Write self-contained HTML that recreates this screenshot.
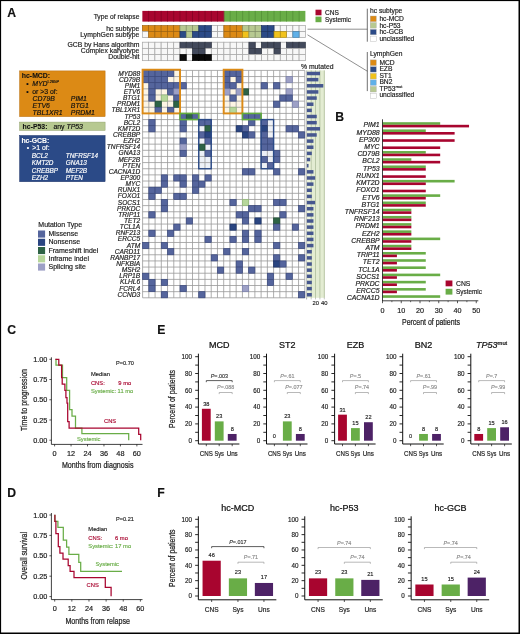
<!DOCTYPE html>
<html><head><meta charset="utf-8"><style>
html,body{margin:0;padding:0;background:#fff;}
body{width:520px;height:634px;overflow:hidden;position:relative;}
svg text{font-family:"Liberation Sans", sans-serif;}
</style></head><body>
<svg width="520" height="634" viewBox="0 0 520 634" style="position:absolute;left:0;top:0;will-change:transform">
<rect x="0" y="0" width="520" height="634" fill="#fff"/>
<text x="7.2" y="17.3" font-size="12.2" font-weight="bold" fill="#111" stroke="#111" stroke-width="0.146">A</text>
<text x="335.3" y="121.4" font-size="12.2" font-weight="bold" fill="#111" stroke="#111" stroke-width="0.146">B</text>
<text x="7.2" y="334.4" font-size="12.2" font-weight="bold" fill="#111" stroke="#111" stroke-width="0.146">C</text>
<text x="157.3" y="334.4" font-size="12.2" font-weight="bold" fill="#111" stroke="#111" stroke-width="0.146">E</text>
<text x="7.2" y="496.8" font-size="12.2" font-weight="bold" fill="#111" stroke="#111" stroke-width="0.146">D</text>
<text x="157.3" y="496.8" font-size="12.2" font-weight="bold" fill="#111" stroke="#111" stroke-width="0.146">F</text>
<text x="139.4" y="18.6" font-size="6.7" fill="#222" text-anchor="end"  stroke="#222" stroke-width="0.174">Type of relapse</text>
<text x="139.4" y="30.7" font-size="6.85" fill="#222" text-anchor="end"  stroke="#222" stroke-width="0.178">hc subtype</text>
<text x="139.4" y="36.9" font-size="6.85" fill="#222" text-anchor="end"  stroke="#222" stroke-width="0.178">LymphGen subtype</text>
<text x="139.4" y="46.6" font-size="6.85" fill="#222" text-anchor="end"  stroke="#222" stroke-width="0.178">GCB by Hans algorithm</text>
<text x="139.4" y="52.9" font-size="6.85" fill="#222" text-anchor="end"  stroke="#222" stroke-width="0.178">Complex karyotype</text>
<text x="139.4" y="59.2" font-size="6.85" fill="#222" text-anchor="end"  stroke="#222" stroke-width="0.178">Double-hit</text>
<rect x="142.35" y="10.9" width="81.51" height="10.7" fill="#a8052f"/>
<rect x="223.86" y="10.9" width="81.51" height="10.7" fill="#69ad47"/>
<line x1="148.62" y1="10.9" x2="148.62" y2="21.6" stroke="#7c0020" stroke-width="0.8" opacity="0.85"/>
<line x1="154.89" y1="10.9" x2="154.89" y2="21.6" stroke="#7c0020" stroke-width="0.8" opacity="0.85"/>
<line x1="161.16" y1="10.9" x2="161.16" y2="21.6" stroke="#7c0020" stroke-width="0.8" opacity="0.85"/>
<line x1="167.43" y1="10.9" x2="167.43" y2="21.6" stroke="#7c0020" stroke-width="0.8" opacity="0.85"/>
<line x1="173.7" y1="10.9" x2="173.7" y2="21.6" stroke="#7c0020" stroke-width="0.8" opacity="0.85"/>
<line x1="179.97" y1="10.9" x2="179.97" y2="21.6" stroke="#7c0020" stroke-width="0.8" opacity="0.85"/>
<line x1="186.24" y1="10.9" x2="186.24" y2="21.6" stroke="#7c0020" stroke-width="0.8" opacity="0.85"/>
<line x1="192.51" y1="10.9" x2="192.51" y2="21.6" stroke="#7c0020" stroke-width="0.8" opacity="0.85"/>
<line x1="198.78" y1="10.9" x2="198.78" y2="21.6" stroke="#7c0020" stroke-width="0.8" opacity="0.85"/>
<line x1="205.05" y1="10.9" x2="205.05" y2="21.6" stroke="#7c0020" stroke-width="0.8" opacity="0.85"/>
<line x1="211.32" y1="10.9" x2="211.32" y2="21.6" stroke="#7c0020" stroke-width="0.8" opacity="0.85"/>
<line x1="217.59" y1="10.9" x2="217.59" y2="21.6" stroke="#7c0020" stroke-width="0.8" opacity="0.85"/>
<line x1="223.86" y1="10.9" x2="223.86" y2="21.6" stroke="#7c0020" stroke-width="0.8" opacity="0.85"/>
<line x1="230.13" y1="10.9" x2="230.13" y2="21.6" stroke="#4f8c33" stroke-width="0.8" opacity="0.85"/>
<line x1="236.4" y1="10.9" x2="236.4" y2="21.6" stroke="#4f8c33" stroke-width="0.8" opacity="0.85"/>
<line x1="242.67" y1="10.9" x2="242.67" y2="21.6" stroke="#4f8c33" stroke-width="0.8" opacity="0.85"/>
<line x1="248.94" y1="10.9" x2="248.94" y2="21.6" stroke="#4f8c33" stroke-width="0.8" opacity="0.85"/>
<line x1="255.21" y1="10.9" x2="255.21" y2="21.6" stroke="#4f8c33" stroke-width="0.8" opacity="0.85"/>
<line x1="261.48" y1="10.9" x2="261.48" y2="21.6" stroke="#4f8c33" stroke-width="0.8" opacity="0.85"/>
<line x1="267.75" y1="10.9" x2="267.75" y2="21.6" stroke="#4f8c33" stroke-width="0.8" opacity="0.85"/>
<line x1="274.02" y1="10.9" x2="274.02" y2="21.6" stroke="#4f8c33" stroke-width="0.8" opacity="0.85"/>
<line x1="280.29" y1="10.9" x2="280.29" y2="21.6" stroke="#4f8c33" stroke-width="0.8" opacity="0.85"/>
<line x1="286.56" y1="10.9" x2="286.56" y2="21.6" stroke="#4f8c33" stroke-width="0.8" opacity="0.85"/>
<line x1="292.83" y1="10.9" x2="292.83" y2="21.6" stroke="#4f8c33" stroke-width="0.8" opacity="0.85"/>
<line x1="299.1" y1="10.9" x2="299.1" y2="21.6" stroke="#4f8c33" stroke-width="0.8" opacity="0.85"/>
<rect x="211.32" y="25.6" width="6.27" height="5.95" fill="#f7f7f7" stroke="#a8a8a8" stroke-width="0.75"/>
<rect x="217.59" y="25.6" width="6.27" height="5.95" fill="#f7f7f7" stroke="#a8a8a8" stroke-width="0.75"/>
<rect x="274.02" y="25.6" width="6.27" height="5.95" fill="#f7f7f7" stroke="#a8a8a8" stroke-width="0.75"/>
<rect x="280.29" y="25.6" width="6.27" height="5.95" fill="#f7f7f7" stroke="#a8a8a8" stroke-width="0.75"/>
<rect x="286.56" y="25.6" width="6.27" height="5.95" fill="#f7f7f7" stroke="#a8a8a8" stroke-width="0.75"/>
<rect x="292.83" y="25.6" width="6.27" height="5.95" fill="#f7f7f7" stroke="#a8a8a8" stroke-width="0.75"/>
<rect x="299.1" y="25.6" width="6.27" height="5.95" fill="#f7f7f7" stroke="#a8a8a8" stroke-width="0.75"/>
<rect x="142.35" y="25.6" width="6.27" height="5.95" fill="#dc8a15" stroke="#9e630f" stroke-width="0.7"/>
<rect x="148.62" y="25.6" width="6.27" height="5.95" fill="#dc8a15" stroke="#9e630f" stroke-width="0.7"/>
<rect x="154.89" y="25.6" width="6.27" height="5.95" fill="#dc8a15" stroke="#9e630f" stroke-width="0.7"/>
<rect x="161.16" y="25.6" width="6.27" height="5.95" fill="#dc8a15" stroke="#9e630f" stroke-width="0.7"/>
<rect x="167.43" y="25.6" width="6.27" height="5.95" fill="#dc8a15" stroke="#9e630f" stroke-width="0.7"/>
<rect x="173.7" y="25.6" width="6.27" height="5.95" fill="#dc8a15" stroke="#9e630f" stroke-width="0.7"/>
<rect x="179.97" y="25.6" width="6.27" height="5.95" fill="#b7c991" stroke="#839068" stroke-width="0.7"/>
<rect x="186.24" y="25.6" width="6.27" height="5.95" fill="#b7c991" stroke="#839068" stroke-width="0.7"/>
<rect x="192.51" y="25.6" width="6.27" height="5.95" fill="#b7c991" stroke="#839068" stroke-width="0.7"/>
<rect x="198.78" y="25.6" width="6.27" height="5.95" fill="#2b4a87" stroke="#1e3561" stroke-width="0.7"/>
<rect x="205.05" y="25.6" width="6.27" height="5.95" fill="#2b4a87" stroke="#1e3561" stroke-width="0.7"/>
<rect x="223.86" y="25.6" width="6.27" height="5.95" fill="#dc8a15" stroke="#9e630f" stroke-width="0.7"/>
<rect x="230.13" y="25.6" width="6.27" height="5.95" fill="#dc8a15" stroke="#9e630f" stroke-width="0.7"/>
<rect x="236.4" y="25.6" width="6.27" height="5.95" fill="#dc8a15" stroke="#9e630f" stroke-width="0.7"/>
<rect x="242.67" y="25.6" width="6.27" height="5.95" fill="#b7c991" stroke="#839068" stroke-width="0.7"/>
<rect x="248.94" y="25.6" width="6.27" height="5.95" fill="#b7c991" stroke="#839068" stroke-width="0.7"/>
<rect x="255.21" y="25.6" width="6.27" height="5.95" fill="#b7c991" stroke="#839068" stroke-width="0.7"/>
<rect x="261.48" y="25.6" width="6.27" height="5.95" fill="#2b4a87" stroke="#1e3561" stroke-width="0.7"/>
<rect x="267.75" y="25.6" width="6.27" height="5.95" fill="#2b4a87" stroke="#1e3561" stroke-width="0.7"/>
<rect x="142.35" y="31.55" width="6.27" height="5.95" fill="#f7f7f7" stroke="#a8a8a8" stroke-width="0.75"/>
<rect x="211.32" y="31.55" width="6.27" height="5.95" fill="#f7f7f7" stroke="#a8a8a8" stroke-width="0.75"/>
<rect x="217.59" y="31.55" width="6.27" height="5.95" fill="#f7f7f7" stroke="#a8a8a8" stroke-width="0.75"/>
<rect x="286.56" y="31.55" width="6.27" height="5.95" fill="#f7f7f7" stroke="#a8a8a8" stroke-width="0.75"/>
<rect x="299.1" y="31.55" width="6.27" height="5.95" fill="#f7f7f7" stroke="#a8a8a8" stroke-width="0.75"/>
<rect x="148.62" y="31.55" width="6.27" height="5.95" fill="#dc8a15" stroke="#9e630f" stroke-width="0.7"/>
<rect x="154.89" y="31.55" width="6.27" height="5.95" fill="#dc8a15" stroke="#9e630f" stroke-width="0.7"/>
<rect x="161.16" y="31.55" width="6.27" height="5.95" fill="#dc8a15" stroke="#9e630f" stroke-width="0.7"/>
<rect x="167.43" y="31.55" width="6.27" height="5.95" fill="#dc8a15" stroke="#9e630f" stroke-width="0.7"/>
<rect x="173.7" y="31.55" width="6.27" height="5.95" fill="#dc8a15" stroke="#9e630f" stroke-width="0.7"/>
<rect x="179.97" y="31.55" width="6.27" height="5.95" fill="#2b4a87" stroke="#1e3561" stroke-width="0.7"/>
<rect x="186.24" y="31.55" width="6.27" height="5.95" fill="#b7c991" stroke="#839068" stroke-width="0.7"/>
<rect x="192.51" y="31.55" width="6.27" height="5.95" fill="#2b4a87" stroke="#1e3561" stroke-width="0.7"/>
<rect x="198.78" y="31.55" width="6.27" height="5.95" fill="#2b4a87" stroke="#1e3561" stroke-width="0.7"/>
<rect x="205.05" y="31.55" width="6.27" height="5.95" fill="#2b4a87" stroke="#1e3561" stroke-width="0.7"/>
<rect x="223.86" y="31.55" width="6.27" height="5.95" fill="#dc8a15" stroke="#9e630f" stroke-width="0.7"/>
<rect x="230.13" y="31.55" width="6.27" height="5.95" fill="#dc8a15" stroke="#9e630f" stroke-width="0.7"/>
<rect x="236.4" y="31.55" width="6.27" height="5.95" fill="#dc8a15" stroke="#9e630f" stroke-width="0.7"/>
<rect x="242.67" y="31.55" width="6.27" height="5.95" fill="#f1c21c" stroke="#ad8b14" stroke-width="0.7"/>
<rect x="248.94" y="31.55" width="6.27" height="5.95" fill="#b7c991" stroke="#839068" stroke-width="0.7"/>
<rect x="255.21" y="31.55" width="6.27" height="5.95" fill="#b7c991" stroke="#839068" stroke-width="0.7"/>
<rect x="261.48" y="31.55" width="6.27" height="5.95" fill="#2b4a87" stroke="#1e3561" stroke-width="0.7"/>
<rect x="267.75" y="31.55" width="6.27" height="5.95" fill="#2b4a87" stroke="#1e3561" stroke-width="0.7"/>
<rect x="274.02" y="31.55" width="6.27" height="5.95" fill="#f1c21c" stroke="#ad8b14" stroke-width="0.7"/>
<rect x="280.29" y="31.55" width="6.27" height="5.95" fill="#f1c21c" stroke="#ad8b14" stroke-width="0.7"/>
<rect x="292.83" y="31.55" width="6.27" height="5.95" fill="#5fb0e8" stroke="#447ea7" stroke-width="0.7"/>
<rect x="142.35" y="42.2" width="6.27" height="6.15" fill="#f7f7f7" stroke="#a8a8a8" stroke-width="0.75"/>
<rect x="148.62" y="42.2" width="6.27" height="6.15" fill="#f7f7f7" stroke="#a8a8a8" stroke-width="0.75"/>
<rect x="154.89" y="42.2" width="6.27" height="6.15" fill="#f7f7f7" stroke="#a8a8a8" stroke-width="0.75"/>
<rect x="161.16" y="42.2" width="6.27" height="6.15" fill="#f7f7f7" stroke="#a8a8a8" stroke-width="0.75"/>
<rect x="167.43" y="42.2" width="6.27" height="6.15" fill="#f7f7f7" stroke="#a8a8a8" stroke-width="0.75"/>
<rect x="173.7" y="42.2" width="6.27" height="6.15" fill="#f7f7f7" stroke="#a8a8a8" stroke-width="0.75"/>
<rect x="211.32" y="42.2" width="6.27" height="6.15" fill="#f7f7f7" stroke="#a8a8a8" stroke-width="0.75"/>
<rect x="217.59" y="42.2" width="6.27" height="6.15" fill="#f7f7f7" stroke="#a8a8a8" stroke-width="0.75"/>
<rect x="223.86" y="42.2" width="6.27" height="6.15" fill="#f7f7f7" stroke="#a8a8a8" stroke-width="0.75"/>
<rect x="230.13" y="42.2" width="6.27" height="6.15" fill="#f7f7f7" stroke="#a8a8a8" stroke-width="0.75"/>
<rect x="236.4" y="42.2" width="6.27" height="6.15" fill="#f7f7f7" stroke="#a8a8a8" stroke-width="0.75"/>
<rect x="242.67" y="42.2" width="6.27" height="6.15" fill="#f7f7f7" stroke="#a8a8a8" stroke-width="0.75"/>
<rect x="255.21" y="42.2" width="6.27" height="6.15" fill="#f7f7f7" stroke="#a8a8a8" stroke-width="0.75"/>
<rect x="280.29" y="42.2" width="6.27" height="6.15" fill="#f7f7f7" stroke="#a8a8a8" stroke-width="0.75"/>
<rect x="179.97" y="42.2" width="6.27" height="6.15" fill="#434a5c" stroke="#303542" stroke-width="0.7"/>
<rect x="186.24" y="42.2" width="6.27" height="6.15" fill="#434a5c" stroke="#303542" stroke-width="0.7"/>
<rect x="192.51" y="42.2" width="6.27" height="6.15" fill="#434a5c" stroke="#303542" stroke-width="0.7"/>
<rect x="198.78" y="42.2" width="6.27" height="6.15" fill="#434a5c" stroke="#303542" stroke-width="0.7"/>
<rect x="205.05" y="42.2" width="6.27" height="6.15" fill="#434a5c" stroke="#303542" stroke-width="0.7"/>
<rect x="248.94" y="42.2" width="6.27" height="6.15" fill="#434a5c" stroke="#303542" stroke-width="0.7"/>
<rect x="261.48" y="42.2" width="6.27" height="6.15" fill="#434a5c" stroke="#303542" stroke-width="0.7"/>
<rect x="267.75" y="42.2" width="6.27" height="6.15" fill="#434a5c" stroke="#303542" stroke-width="0.7"/>
<rect x="274.02" y="42.2" width="6.27" height="6.15" fill="#434a5c" stroke="#303542" stroke-width="0.7"/>
<rect x="286.56" y="42.2" width="6.27" height="6.15" fill="#434a5c" stroke="#303542" stroke-width="0.7"/>
<rect x="292.83" y="42.2" width="6.27" height="6.15" fill="#434a5c" stroke="#303542" stroke-width="0.7"/>
<rect x="299.1" y="42.2" width="6.27" height="6.15" fill="#434a5c" stroke="#303542" stroke-width="0.7"/>
<rect x="142.35" y="48.35" width="6.27" height="6.15" fill="#f7f7f7" stroke="#a8a8a8" stroke-width="0.75"/>
<rect x="148.62" y="48.35" width="6.27" height="6.15" fill="#f7f7f7" stroke="#a8a8a8" stroke-width="0.75"/>
<rect x="154.89" y="48.35" width="6.27" height="6.15" fill="#f7f7f7" stroke="#a8a8a8" stroke-width="0.75"/>
<rect x="161.16" y="48.35" width="6.27" height="6.15" fill="#f7f7f7" stroke="#a8a8a8" stroke-width="0.75"/>
<rect x="167.43" y="48.35" width="6.27" height="6.15" fill="#f7f7f7" stroke="#a8a8a8" stroke-width="0.75"/>
<rect x="173.7" y="48.35" width="6.27" height="6.15" fill="#f7f7f7" stroke="#a8a8a8" stroke-width="0.75"/>
<rect x="179.97" y="48.35" width="6.27" height="6.15" fill="#f7f7f7" stroke="#a8a8a8" stroke-width="0.75"/>
<rect x="186.24" y="48.35" width="6.27" height="6.15" fill="#f7f7f7" stroke="#a8a8a8" stroke-width="0.75"/>
<rect x="205.05" y="48.35" width="6.27" height="6.15" fill="#f7f7f7" stroke="#a8a8a8" stroke-width="0.75"/>
<rect x="211.32" y="48.35" width="6.27" height="6.15" fill="#f7f7f7" stroke="#a8a8a8" stroke-width="0.75"/>
<rect x="217.59" y="48.35" width="6.27" height="6.15" fill="#f7f7f7" stroke="#a8a8a8" stroke-width="0.75"/>
<rect x="223.86" y="48.35" width="6.27" height="6.15" fill="#f7f7f7" stroke="#a8a8a8" stroke-width="0.75"/>
<rect x="230.13" y="48.35" width="6.27" height="6.15" fill="#f7f7f7" stroke="#a8a8a8" stroke-width="0.75"/>
<rect x="236.4" y="48.35" width="6.27" height="6.15" fill="#f7f7f7" stroke="#a8a8a8" stroke-width="0.75"/>
<rect x="242.67" y="48.35" width="6.27" height="6.15" fill="#f7f7f7" stroke="#a8a8a8" stroke-width="0.75"/>
<rect x="261.48" y="48.35" width="6.27" height="6.15" fill="#f7f7f7" stroke="#a8a8a8" stroke-width="0.75"/>
<rect x="267.75" y="48.35" width="6.27" height="6.15" fill="#f7f7f7" stroke="#a8a8a8" stroke-width="0.75"/>
<rect x="280.29" y="48.35" width="6.27" height="6.15" fill="#f7f7f7" stroke="#a8a8a8" stroke-width="0.75"/>
<rect x="286.56" y="48.35" width="6.27" height="6.15" fill="#f7f7f7" stroke="#a8a8a8" stroke-width="0.75"/>
<rect x="292.83" y="48.35" width="6.27" height="6.15" fill="#f7f7f7" stroke="#a8a8a8" stroke-width="0.75"/>
<rect x="299.1" y="48.35" width="6.27" height="6.15" fill="#f7f7f7" stroke="#a8a8a8" stroke-width="0.75"/>
<rect x="192.51" y="48.35" width="6.27" height="6.15" fill="#434a5c" stroke="#303542" stroke-width="0.7"/>
<rect x="198.78" y="48.35" width="6.27" height="6.15" fill="#434a5c" stroke="#303542" stroke-width="0.7"/>
<rect x="248.94" y="48.35" width="6.27" height="6.15" fill="#434a5c" stroke="#303542" stroke-width="0.7"/>
<rect x="255.21" y="48.35" width="6.27" height="6.15" fill="#434a5c" stroke="#303542" stroke-width="0.7"/>
<rect x="274.02" y="48.35" width="6.27" height="6.15" fill="#434a5c" stroke="#303542" stroke-width="0.7"/>
<rect x="142.35" y="54.5" width="6.27" height="6.15" fill="#f7f7f7" stroke="#a8a8a8" stroke-width="0.75"/>
<rect x="148.62" y="54.5" width="6.27" height="6.15" fill="#f7f7f7" stroke="#a8a8a8" stroke-width="0.75"/>
<rect x="154.89" y="54.5" width="6.27" height="6.15" fill="#f7f7f7" stroke="#a8a8a8" stroke-width="0.75"/>
<rect x="161.16" y="54.5" width="6.27" height="6.15" fill="#f7f7f7" stroke="#a8a8a8" stroke-width="0.75"/>
<rect x="167.43" y="54.5" width="6.27" height="6.15" fill="#f7f7f7" stroke="#a8a8a8" stroke-width="0.75"/>
<rect x="173.7" y="54.5" width="6.27" height="6.15" fill="#f7f7f7" stroke="#a8a8a8" stroke-width="0.75"/>
<rect x="186.24" y="54.5" width="6.27" height="6.15" fill="#f7f7f7" stroke="#a8a8a8" stroke-width="0.75"/>
<rect x="211.32" y="54.5" width="6.27" height="6.15" fill="#f7f7f7" stroke="#a8a8a8" stroke-width="0.75"/>
<rect x="217.59" y="54.5" width="6.27" height="6.15" fill="#f7f7f7" stroke="#a8a8a8" stroke-width="0.75"/>
<rect x="223.86" y="54.5" width="6.27" height="6.15" fill="#f7f7f7" stroke="#a8a8a8" stroke-width="0.75"/>
<rect x="230.13" y="54.5" width="6.27" height="6.15" fill="#f7f7f7" stroke="#a8a8a8" stroke-width="0.75"/>
<rect x="236.4" y="54.5" width="6.27" height="6.15" fill="#f7f7f7" stroke="#a8a8a8" stroke-width="0.75"/>
<rect x="242.67" y="54.5" width="6.27" height="6.15" fill="#f7f7f7" stroke="#a8a8a8" stroke-width="0.75"/>
<rect x="248.94" y="54.5" width="6.27" height="6.15" fill="#f7f7f7" stroke="#a8a8a8" stroke-width="0.75"/>
<rect x="255.21" y="54.5" width="6.27" height="6.15" fill="#f7f7f7" stroke="#a8a8a8" stroke-width="0.75"/>
<rect x="261.48" y="54.5" width="6.27" height="6.15" fill="#f7f7f7" stroke="#a8a8a8" stroke-width="0.75"/>
<rect x="267.75" y="54.5" width="6.27" height="6.15" fill="#f7f7f7" stroke="#a8a8a8" stroke-width="0.75"/>
<rect x="274.02" y="54.5" width="6.27" height="6.15" fill="#f7f7f7" stroke="#a8a8a8" stroke-width="0.75"/>
<rect x="280.29" y="54.5" width="6.27" height="6.15" fill="#f7f7f7" stroke="#a8a8a8" stroke-width="0.75"/>
<rect x="286.56" y="54.5" width="6.27" height="6.15" fill="#f7f7f7" stroke="#a8a8a8" stroke-width="0.75"/>
<rect x="292.83" y="54.5" width="6.27" height="6.15" fill="#f7f7f7" stroke="#a8a8a8" stroke-width="0.75"/>
<rect x="299.1" y="54.5" width="6.27" height="6.15" fill="#f7f7f7" stroke="#a8a8a8" stroke-width="0.75"/>
<rect x="179.97" y="54.5" width="6.27" height="6.15" fill="#0a0a0a" stroke="#000" stroke-width="0.7"/>
<rect x="192.51" y="54.5" width="6.27" height="6.15" fill="#0a0a0a" stroke="#000" stroke-width="0.7"/>
<rect x="198.78" y="54.5" width="6.27" height="6.15" fill="#0a0a0a" stroke="#000" stroke-width="0.7"/>
<rect x="205.05" y="54.5" width="6.27" height="6.15" fill="#0a0a0a" stroke="#000" stroke-width="0.7"/>
<rect x="142.6" y="70.4" width="6.24" height="6.15" fill="#55659d"/>
<rect x="148.84" y="70.4" width="6.24" height="6.15" fill="#55659d"/>
<rect x="155.08" y="70.4" width="6.24" height="6.15" fill="#55659d"/>
<rect x="161.31" y="70.4" width="6.24" height="6.15" fill="#55659d"/>
<rect x="167.55" y="70.4" width="6.24" height="6.15" fill="#55659d"/>
<rect x="173.79" y="70.4" width="6.24" height="6.15" fill="#fdf5e4"/>
<rect x="180.03" y="70.4" width="6.24" height="6.15" fill="#fff"/>
<rect x="186.27" y="70.4" width="6.24" height="6.15" fill="#fff"/>
<rect x="192.5" y="70.4" width="6.24" height="6.15" fill="#fff"/>
<rect x="198.74" y="70.4" width="6.24" height="6.15" fill="#fff"/>
<rect x="204.98" y="70.4" width="6.24" height="6.15" fill="#fff"/>
<rect x="211.22" y="70.4" width="6.24" height="6.15" fill="#fff"/>
<rect x="217.46" y="70.4" width="6.24" height="6.15" fill="#fff"/>
<rect x="223.69" y="70.4" width="6.24" height="6.15" fill="#55659d"/>
<rect x="229.93" y="70.4" width="6.24" height="6.15" fill="#55659d"/>
<rect x="236.17" y="70.4" width="6.24" height="6.15" fill="#55659d"/>
<rect x="242.41" y="70.4" width="6.24" height="6.15" fill="#fff"/>
<rect x="248.65" y="70.4" width="6.24" height="6.15" fill="#fff"/>
<rect x="254.88" y="70.4" width="6.24" height="6.15" fill="#fff"/>
<rect x="261.12" y="70.4" width="6.24" height="6.15" fill="#fff"/>
<rect x="267.36" y="70.4" width="6.24" height="6.15" fill="#fff"/>
<rect x="273.6" y="70.4" width="6.24" height="6.15" fill="#fff"/>
<rect x="279.84" y="70.4" width="6.24" height="6.15" fill="#fff"/>
<rect x="286.07" y="70.4" width="6.24" height="6.15" fill="#fff"/>
<rect x="292.31" y="70.4" width="6.24" height="6.15" fill="#fff"/>
<rect x="298.55" y="70.4" width="6.24" height="6.15" fill="#fff"/>
<rect x="142.6" y="76.55" width="6.24" height="6.15" fill="#55659d"/>
<rect x="148.84" y="76.55" width="6.24" height="6.15" fill="#55659d"/>
<rect x="155.08" y="76.55" width="6.24" height="6.15" fill="#55659d"/>
<rect x="161.31" y="76.55" width="6.24" height="6.15" fill="#55659d"/>
<rect x="167.55" y="76.55" width="6.24" height="6.15" fill="#fdf5e4"/>
<rect x="173.79" y="76.55" width="6.24" height="6.15" fill="#fdf5e4"/>
<rect x="180.03" y="76.55" width="6.24" height="6.15" fill="#fff"/>
<rect x="186.27" y="76.55" width="6.24" height="6.15" fill="#fff"/>
<rect x="192.5" y="76.55" width="6.24" height="6.15" fill="#fff"/>
<rect x="198.74" y="76.55" width="6.24" height="6.15" fill="#fff"/>
<rect x="204.98" y="76.55" width="6.24" height="6.15" fill="#fff"/>
<rect x="211.22" y="76.55" width="6.24" height="6.15" fill="#fff"/>
<rect x="217.46" y="76.55" width="6.24" height="6.15" fill="#fff"/>
<rect x="223.69" y="76.55" width="6.24" height="6.15" fill="#55659d"/>
<rect x="229.93" y="76.55" width="6.24" height="6.15" fill="#fdf5e4"/>
<rect x="236.17" y="76.55" width="6.24" height="6.15" fill="#55659d"/>
<rect x="242.41" y="76.55" width="6.24" height="6.15" fill="#fff"/>
<rect x="248.65" y="76.55" width="6.24" height="6.15" fill="#fff"/>
<rect x="254.88" y="76.55" width="6.24" height="6.15" fill="#fff"/>
<rect x="261.12" y="76.55" width="6.24" height="6.15" fill="#fff"/>
<rect x="267.36" y="76.55" width="6.24" height="6.15" fill="#fff"/>
<rect x="273.6" y="76.55" width="6.24" height="6.15" fill="#fff"/>
<rect x="279.84" y="76.55" width="6.24" height="6.15" fill="#fff"/>
<rect x="286.07" y="76.55" width="6.24" height="6.15" fill="#9da0c6"/>
<rect x="292.31" y="76.55" width="6.24" height="6.15" fill="#fff"/>
<rect x="298.55" y="76.55" width="6.24" height="6.15" fill="#fff"/>
<rect x="142.6" y="82.69" width="6.24" height="6.15" fill="#fdf5e4"/>
<rect x="148.84" y="82.69" width="6.24" height="6.15" fill="#55659d"/>
<rect x="155.08" y="82.69" width="6.24" height="6.15" fill="#55659d"/>
<rect x="161.31" y="82.69" width="6.24" height="6.15" fill="#55659d"/>
<rect x="167.55" y="82.69" width="6.24" height="6.15" fill="#55659d"/>
<rect x="173.79" y="82.69" width="6.24" height="6.15" fill="#55659d"/>
<rect x="180.03" y="82.69" width="6.24" height="6.15" fill="#55659d"/>
<rect x="186.27" y="82.69" width="6.24" height="6.15" fill="#fff"/>
<rect x="192.5" y="82.69" width="6.24" height="6.15" fill="#fff"/>
<rect x="198.74" y="82.69" width="6.24" height="6.15" fill="#fff"/>
<rect x="204.98" y="82.69" width="6.24" height="6.15" fill="#fff"/>
<rect x="211.22" y="82.69" width="6.24" height="6.15" fill="#fff"/>
<rect x="217.46" y="82.69" width="6.24" height="6.15" fill="#fff"/>
<rect x="223.69" y="82.69" width="6.24" height="6.15" fill="#55659d"/>
<rect x="229.93" y="82.69" width="6.24" height="6.15" fill="#55659d"/>
<rect x="236.17" y="82.69" width="6.24" height="6.15" fill="#fdf5e4"/>
<rect x="242.41" y="82.69" width="6.24" height="6.15" fill="#fff"/>
<rect x="248.65" y="82.69" width="6.24" height="6.15" fill="#fff"/>
<rect x="254.88" y="82.69" width="6.24" height="6.15" fill="#fff"/>
<rect x="261.12" y="82.69" width="6.24" height="6.15" fill="#55659d"/>
<rect x="267.36" y="82.69" width="6.24" height="6.15" fill="#fff"/>
<rect x="273.6" y="82.69" width="6.24" height="6.15" fill="#55659d"/>
<rect x="279.84" y="82.69" width="6.24" height="6.15" fill="#fff"/>
<rect x="286.07" y="82.69" width="6.24" height="6.15" fill="#fff"/>
<rect x="292.31" y="82.69" width="6.24" height="6.15" fill="#fff"/>
<rect x="298.55" y="82.69" width="6.24" height="6.15" fill="#fff"/>
<rect x="142.6" y="88.84" width="6.24" height="6.15" fill="#fdf5e4"/>
<rect x="148.84" y="88.84" width="6.24" height="6.15" fill="#55659d"/>
<rect x="155.08" y="88.84" width="6.24" height="6.15" fill="#fdf5e4"/>
<rect x="161.31" y="88.84" width="6.24" height="6.15" fill="#fdf5e4"/>
<rect x="167.55" y="88.84" width="6.24" height="6.15" fill="#55659d"/>
<rect x="173.79" y="88.84" width="6.24" height="6.15" fill="#9da0c6"/>
<rect x="180.03" y="88.84" width="6.24" height="6.15" fill="#fff"/>
<rect x="186.27" y="88.84" width="6.24" height="6.15" fill="#fff"/>
<rect x="192.5" y="88.84" width="6.24" height="6.15" fill="#fff"/>
<rect x="198.74" y="88.84" width="6.24" height="6.15" fill="#fff"/>
<rect x="204.98" y="88.84" width="6.24" height="6.15" fill="#fff"/>
<rect x="211.22" y="88.84" width="6.24" height="6.15" fill="#fff"/>
<rect x="217.46" y="88.84" width="6.24" height="6.15" fill="#fff"/>
<rect x="223.69" y="88.84" width="6.24" height="6.15" fill="#9da0c6"/>
<rect x="229.93" y="88.84" width="6.24" height="6.15" fill="#fdf5e4"/>
<rect x="236.17" y="88.84" width="6.24" height="6.15" fill="#9da0c6"/>
<rect x="242.41" y="88.84" width="6.24" height="6.15" fill="#2e6345"/>
<rect x="248.65" y="88.84" width="6.24" height="6.15" fill="#fff"/>
<rect x="254.88" y="88.84" width="6.24" height="6.15" fill="#fff"/>
<rect x="261.12" y="88.84" width="6.24" height="6.15" fill="#fff"/>
<rect x="267.36" y="88.84" width="6.24" height="6.15" fill="#fff"/>
<rect x="273.6" y="88.84" width="6.24" height="6.15" fill="#fff"/>
<rect x="279.84" y="88.84" width="6.24" height="6.15" fill="#fff"/>
<rect x="286.07" y="88.84" width="6.24" height="6.15" fill="#9da0c6"/>
<rect x="292.31" y="88.84" width="6.24" height="6.15" fill="#fff"/>
<rect x="298.55" y="88.84" width="6.24" height="6.15" fill="#fff"/>
<rect x="142.6" y="94.98" width="6.24" height="6.15" fill="#fdf5e4"/>
<rect x="148.84" y="94.98" width="6.24" height="6.15" fill="#55659d"/>
<rect x="155.08" y="94.98" width="6.24" height="6.15" fill="#fdf5e4"/>
<rect x="161.31" y="94.98" width="6.24" height="6.15" fill="#b7d79b"/>
<rect x="167.55" y="94.98" width="6.24" height="6.15" fill="#fdf5e4"/>
<rect x="173.79" y="94.98" width="6.24" height="6.15" fill="#55659d"/>
<rect x="180.03" y="94.98" width="6.24" height="6.15" fill="#fff"/>
<rect x="186.27" y="94.98" width="6.24" height="6.15" fill="#fff"/>
<rect x="192.5" y="94.98" width="6.24" height="6.15" fill="#fff"/>
<rect x="198.74" y="94.98" width="6.24" height="6.15" fill="#fff"/>
<rect x="204.98" y="94.98" width="6.24" height="6.15" fill="#fff"/>
<rect x="211.22" y="94.98" width="6.24" height="6.15" fill="#fff"/>
<rect x="217.46" y="94.98" width="6.24" height="6.15" fill="#fff"/>
<rect x="223.69" y="94.98" width="6.24" height="6.15" fill="#fdf5e4"/>
<rect x="229.93" y="94.98" width="6.24" height="6.15" fill="#55659d"/>
<rect x="236.17" y="94.98" width="6.24" height="6.15" fill="#fdf5e4"/>
<rect x="242.41" y="94.98" width="6.24" height="6.15" fill="#fff"/>
<rect x="248.65" y="94.98" width="6.24" height="6.15" fill="#fff"/>
<rect x="254.88" y="94.98" width="6.24" height="6.15" fill="#fff"/>
<rect x="261.12" y="94.98" width="6.24" height="6.15" fill="#fff"/>
<rect x="267.36" y="94.98" width="6.24" height="6.15" fill="#fff"/>
<rect x="273.6" y="94.98" width="6.24" height="6.15" fill="#fff"/>
<rect x="279.84" y="94.98" width="6.24" height="6.15" fill="#55659d"/>
<rect x="286.07" y="94.98" width="6.24" height="6.15" fill="#55659d"/>
<rect x="292.31" y="94.98" width="6.24" height="6.15" fill="#fff"/>
<rect x="298.55" y="94.98" width="6.24" height="6.15" fill="#fff"/>
<rect x="142.6" y="101.13" width="6.24" height="6.15" fill="#fdf5e4"/>
<rect x="148.84" y="101.13" width="6.24" height="6.15" fill="#fdf5e4"/>
<rect x="155.08" y="101.13" width="6.24" height="6.15" fill="#2e6345"/>
<rect x="161.31" y="101.13" width="6.24" height="6.15" fill="#fdf5e4"/>
<rect x="167.55" y="101.13" width="6.24" height="6.15" fill="#fdf5e4"/>
<rect x="173.79" y="101.13" width="6.24" height="6.15" fill="#2e6345"/>
<rect x="180.03" y="101.13" width="6.24" height="6.15" fill="#fff"/>
<rect x="186.27" y="101.13" width="6.24" height="6.15" fill="#fff"/>
<rect x="192.5" y="101.13" width="6.24" height="6.15" fill="#fff"/>
<rect x="198.74" y="101.13" width="6.24" height="6.15" fill="#fff"/>
<rect x="204.98" y="101.13" width="6.24" height="6.15" fill="#fff"/>
<rect x="211.22" y="101.13" width="6.24" height="6.15" fill="#fff"/>
<rect x="217.46" y="101.13" width="6.24" height="6.15" fill="#fff"/>
<rect x="223.69" y="101.13" width="6.24" height="6.15" fill="#fdf5e4"/>
<rect x="229.93" y="101.13" width="6.24" height="6.15" fill="#fdf5e4"/>
<rect x="236.17" y="101.13" width="6.24" height="6.15" fill="#fdf5e4"/>
<rect x="242.41" y="101.13" width="6.24" height="6.15" fill="#fff"/>
<rect x="248.65" y="101.13" width="6.24" height="6.15" fill="#fff"/>
<rect x="254.88" y="101.13" width="6.24" height="6.15" fill="#fff"/>
<rect x="261.12" y="101.13" width="6.24" height="6.15" fill="#fff"/>
<rect x="267.36" y="101.13" width="6.24" height="6.15" fill="#fff"/>
<rect x="273.6" y="101.13" width="6.24" height="6.15" fill="#55659d"/>
<rect x="279.84" y="101.13" width="6.24" height="6.15" fill="#fff"/>
<rect x="286.07" y="101.13" width="6.24" height="6.15" fill="#fff"/>
<rect x="292.31" y="101.13" width="6.24" height="6.15" fill="#9da0c6"/>
<rect x="298.55" y="101.13" width="6.24" height="6.15" fill="#fff"/>
<rect x="142.6" y="107.28" width="6.24" height="6.15" fill="#fdf5e4"/>
<rect x="148.84" y="107.28" width="6.24" height="6.15" fill="#fdf5e4"/>
<rect x="155.08" y="107.28" width="6.24" height="6.15" fill="#55659d"/>
<rect x="161.31" y="107.28" width="6.24" height="6.15" fill="#fdf5e4"/>
<rect x="167.55" y="107.28" width="6.24" height="6.15" fill="#55659d"/>
<rect x="173.79" y="107.28" width="6.24" height="6.15" fill="#fdf5e4"/>
<rect x="180.03" y="107.28" width="6.24" height="6.15" fill="#fff"/>
<rect x="186.27" y="107.28" width="6.24" height="6.15" fill="#fff"/>
<rect x="192.5" y="107.28" width="6.24" height="6.15" fill="#fff"/>
<rect x="198.74" y="107.28" width="6.24" height="6.15" fill="#fff"/>
<rect x="204.98" y="107.28" width="6.24" height="6.15" fill="#fff"/>
<rect x="211.22" y="107.28" width="6.24" height="6.15" fill="#fff"/>
<rect x="217.46" y="107.28" width="6.24" height="6.15" fill="#fff"/>
<rect x="223.69" y="107.28" width="6.24" height="6.15" fill="#fdf5e4"/>
<rect x="229.93" y="107.28" width="6.24" height="6.15" fill="#b7d79b"/>
<rect x="236.17" y="107.28" width="6.24" height="6.15" fill="#fdf5e4"/>
<rect x="242.41" y="107.28" width="6.24" height="6.15" fill="#fff"/>
<rect x="248.65" y="107.28" width="6.24" height="6.15" fill="#fff"/>
<rect x="254.88" y="107.28" width="6.24" height="6.15" fill="#fff"/>
<rect x="261.12" y="107.28" width="6.24" height="6.15" fill="#fff"/>
<rect x="267.36" y="107.28" width="6.24" height="6.15" fill="#fff"/>
<rect x="273.6" y="107.28" width="6.24" height="6.15" fill="#fff"/>
<rect x="279.84" y="107.28" width="6.24" height="6.15" fill="#fff"/>
<rect x="286.07" y="107.28" width="6.24" height="6.15" fill="#fff"/>
<rect x="292.31" y="107.28" width="6.24" height="6.15" fill="#fff"/>
<rect x="298.55" y="107.28" width="6.24" height="6.15" fill="#fff"/>
<rect x="142.6" y="113.42" width="6.24" height="6.15" fill="#fff"/>
<rect x="148.84" y="113.42" width="6.24" height="6.15" fill="#fff"/>
<rect x="155.08" y="113.42" width="6.24" height="6.15" fill="#fff"/>
<rect x="161.31" y="113.42" width="6.24" height="6.15" fill="#fff"/>
<rect x="167.55" y="113.42" width="6.24" height="6.15" fill="#fff"/>
<rect x="173.79" y="113.42" width="6.24" height="6.15" fill="#fff"/>
<rect x="180.03" y="113.42" width="6.24" height="6.15" fill="#55659d"/>
<rect x="186.27" y="113.42" width="6.24" height="6.15" fill="#2e6345"/>
<rect x="192.5" y="113.42" width="6.24" height="6.15" fill="#55659d"/>
<rect x="198.74" y="113.42" width="6.24" height="6.15" fill="#fff"/>
<rect x="204.98" y="113.42" width="6.24" height="6.15" fill="#fff"/>
<rect x="211.22" y="113.42" width="6.24" height="6.15" fill="#fff"/>
<rect x="217.46" y="113.42" width="6.24" height="6.15" fill="#fff"/>
<rect x="223.69" y="113.42" width="6.24" height="6.15" fill="#fff"/>
<rect x="229.93" y="113.42" width="6.24" height="6.15" fill="#fff"/>
<rect x="236.17" y="113.42" width="6.24" height="6.15" fill="#fff"/>
<rect x="242.41" y="113.42" width="6.24" height="6.15" fill="#55659d"/>
<rect x="248.65" y="113.42" width="6.24" height="6.15" fill="#55659d"/>
<rect x="254.88" y="113.42" width="6.24" height="6.15" fill="#55659d"/>
<rect x="261.12" y="113.42" width="6.24" height="6.15" fill="#fff"/>
<rect x="267.36" y="113.42" width="6.24" height="6.15" fill="#fff"/>
<rect x="273.6" y="113.42" width="6.24" height="6.15" fill="#fff"/>
<rect x="279.84" y="113.42" width="6.24" height="6.15" fill="#fff"/>
<rect x="286.07" y="113.42" width="6.24" height="6.15" fill="#fff"/>
<rect x="292.31" y="113.42" width="6.24" height="6.15" fill="#fff"/>
<rect x="298.55" y="113.42" width="6.24" height="6.15" fill="#fff"/>
<rect x="142.6" y="119.57" width="6.24" height="6.15" fill="#fff"/>
<rect x="148.84" y="119.57" width="6.24" height="6.15" fill="#55659d"/>
<rect x="155.08" y="119.57" width="6.24" height="6.15" fill="#fff"/>
<rect x="161.31" y="119.57" width="6.24" height="6.15" fill="#fff"/>
<rect x="167.55" y="119.57" width="6.24" height="6.15" fill="#fff"/>
<rect x="173.79" y="119.57" width="6.24" height="6.15" fill="#fff"/>
<rect x="180.03" y="119.57" width="6.24" height="6.15" fill="#55659d"/>
<rect x="186.27" y="119.57" width="6.24" height="6.15" fill="#fff"/>
<rect x="192.5" y="119.57" width="6.24" height="6.15" fill="#fff"/>
<rect x="198.74" y="119.57" width="6.24" height="6.15" fill="#55659d"/>
<rect x="204.98" y="119.57" width="6.24" height="6.15" fill="#55659d"/>
<rect x="211.22" y="119.57" width="6.24" height="6.15" fill="#fff"/>
<rect x="217.46" y="119.57" width="6.24" height="6.15" fill="#fff"/>
<rect x="223.69" y="119.57" width="6.24" height="6.15" fill="#fff"/>
<rect x="229.93" y="119.57" width="6.24" height="6.15" fill="#fff"/>
<rect x="236.17" y="119.57" width="6.24" height="6.15" fill="#fff"/>
<rect x="242.41" y="119.57" width="6.24" height="6.15" fill="#fff"/>
<rect x="248.65" y="119.57" width="6.24" height="6.15" fill="#55659d"/>
<rect x="254.88" y="119.57" width="6.24" height="6.15" fill="#fff"/>
<rect x="261.12" y="119.57" width="6.24" height="6.15" fill="#55659d"/>
<rect x="267.36" y="119.57" width="6.24" height="6.15" fill="#eef1f7"/>
<rect x="273.6" y="119.57" width="6.24" height="6.15" fill="#fff"/>
<rect x="279.84" y="119.57" width="6.24" height="6.15" fill="#fff"/>
<rect x="286.07" y="119.57" width="6.24" height="6.15" fill="#fff"/>
<rect x="292.31" y="119.57" width="6.24" height="6.15" fill="#fff"/>
<rect x="298.55" y="119.57" width="6.24" height="6.15" fill="#fff"/>
<rect x="142.6" y="125.71" width="6.24" height="6.15" fill="#fff"/>
<rect x="148.84" y="125.71" width="6.24" height="6.15" fill="#55659d"/>
<rect x="155.08" y="125.71" width="6.24" height="6.15" fill="#fff"/>
<rect x="161.31" y="125.71" width="6.24" height="6.15" fill="#fff"/>
<rect x="167.55" y="125.71" width="6.24" height="6.15" fill="#fff"/>
<rect x="173.79" y="125.71" width="6.24" height="6.15" fill="#fff"/>
<rect x="180.03" y="125.71" width="6.24" height="6.15" fill="#55659d"/>
<rect x="186.27" y="125.71" width="6.24" height="6.15" fill="#fff"/>
<rect x="192.5" y="125.71" width="6.24" height="6.15" fill="#fff"/>
<rect x="198.74" y="125.71" width="6.24" height="6.15" fill="#eef1f7"/>
<rect x="204.98" y="125.71" width="6.24" height="6.15" fill="#2e6345"/>
<rect x="211.22" y="125.71" width="6.24" height="6.15" fill="#fff"/>
<rect x="217.46" y="125.71" width="6.24" height="6.15" fill="#fff"/>
<rect x="223.69" y="125.71" width="6.24" height="6.15" fill="#fff"/>
<rect x="229.93" y="125.71" width="6.24" height="6.15" fill="#fff"/>
<rect x="236.17" y="125.71" width="6.24" height="6.15" fill="#2a4581"/>
<rect x="242.41" y="125.71" width="6.24" height="6.15" fill="#55659d"/>
<rect x="248.65" y="125.71" width="6.24" height="6.15" fill="#fff"/>
<rect x="254.88" y="125.71" width="6.24" height="6.15" fill="#fff"/>
<rect x="261.12" y="125.71" width="6.24" height="6.15" fill="#2a4581"/>
<rect x="267.36" y="125.71" width="6.24" height="6.15" fill="#eef1f7"/>
<rect x="273.6" y="125.71" width="6.24" height="6.15" fill="#fff"/>
<rect x="279.84" y="125.71" width="6.24" height="6.15" fill="#fff"/>
<rect x="286.07" y="125.71" width="6.24" height="6.15" fill="#55659d"/>
<rect x="292.31" y="125.71" width="6.24" height="6.15" fill="#55659d"/>
<rect x="298.55" y="125.71" width="6.24" height="6.15" fill="#fff"/>
<rect x="142.6" y="131.86" width="6.24" height="6.15" fill="#fff"/>
<rect x="148.84" y="131.86" width="6.24" height="6.15" fill="#fff"/>
<rect x="155.08" y="131.86" width="6.24" height="6.15" fill="#fff"/>
<rect x="161.31" y="131.86" width="6.24" height="6.15" fill="#fff"/>
<rect x="167.55" y="131.86" width="6.24" height="6.15" fill="#fff"/>
<rect x="173.79" y="131.86" width="6.24" height="6.15" fill="#fff"/>
<rect x="180.03" y="131.86" width="6.24" height="6.15" fill="#fff"/>
<rect x="186.27" y="131.86" width="6.24" height="6.15" fill="#fff"/>
<rect x="192.5" y="131.86" width="6.24" height="6.15" fill="#fff"/>
<rect x="198.74" y="131.86" width="6.24" height="6.15" fill="#55659d"/>
<rect x="204.98" y="131.86" width="6.24" height="6.15" fill="#2a4581"/>
<rect x="211.22" y="131.86" width="6.24" height="6.15" fill="#fff"/>
<rect x="217.46" y="131.86" width="6.24" height="6.15" fill="#fff"/>
<rect x="223.69" y="131.86" width="6.24" height="6.15" fill="#fff"/>
<rect x="229.93" y="131.86" width="6.24" height="6.15" fill="#fff"/>
<rect x="236.17" y="131.86" width="6.24" height="6.15" fill="#fff"/>
<rect x="242.41" y="131.86" width="6.24" height="6.15" fill="#2a4581"/>
<rect x="248.65" y="131.86" width="6.24" height="6.15" fill="#55659d"/>
<rect x="254.88" y="131.86" width="6.24" height="6.15" fill="#fff"/>
<rect x="261.12" y="131.86" width="6.24" height="6.15" fill="#55659d"/>
<rect x="267.36" y="131.86" width="6.24" height="6.15" fill="#eef1f7"/>
<rect x="273.6" y="131.86" width="6.24" height="6.15" fill="#fff"/>
<rect x="279.84" y="131.86" width="6.24" height="6.15" fill="#fff"/>
<rect x="286.07" y="131.86" width="6.24" height="6.15" fill="#fff"/>
<rect x="292.31" y="131.86" width="6.24" height="6.15" fill="#fff"/>
<rect x="298.55" y="131.86" width="6.24" height="6.15" fill="#55659d"/>
<rect x="142.6" y="138.01" width="6.24" height="6.15" fill="#fff"/>
<rect x="148.84" y="138.01" width="6.24" height="6.15" fill="#fff"/>
<rect x="155.08" y="138.01" width="6.24" height="6.15" fill="#fff"/>
<rect x="161.31" y="138.01" width="6.24" height="6.15" fill="#fff"/>
<rect x="167.55" y="138.01" width="6.24" height="6.15" fill="#fff"/>
<rect x="173.79" y="138.01" width="6.24" height="6.15" fill="#fff"/>
<rect x="180.03" y="138.01" width="6.24" height="6.15" fill="#55659d"/>
<rect x="186.27" y="138.01" width="6.24" height="6.15" fill="#fff"/>
<rect x="192.5" y="138.01" width="6.24" height="6.15" fill="#fff"/>
<rect x="198.74" y="138.01" width="6.24" height="6.15" fill="#eef1f7"/>
<rect x="204.98" y="138.01" width="6.24" height="6.15" fill="#55659d"/>
<rect x="211.22" y="138.01" width="6.24" height="6.15" fill="#fff"/>
<rect x="217.46" y="138.01" width="6.24" height="6.15" fill="#fff"/>
<rect x="223.69" y="138.01" width="6.24" height="6.15" fill="#fff"/>
<rect x="229.93" y="138.01" width="6.24" height="6.15" fill="#fff"/>
<rect x="236.17" y="138.01" width="6.24" height="6.15" fill="#fff"/>
<rect x="242.41" y="138.01" width="6.24" height="6.15" fill="#fff"/>
<rect x="248.65" y="138.01" width="6.24" height="6.15" fill="#fff"/>
<rect x="254.88" y="138.01" width="6.24" height="6.15" fill="#fff"/>
<rect x="261.12" y="138.01" width="6.24" height="6.15" fill="#55659d"/>
<rect x="267.36" y="138.01" width="6.24" height="6.15" fill="#55659d"/>
<rect x="273.6" y="138.01" width="6.24" height="6.15" fill="#fff"/>
<rect x="279.84" y="138.01" width="6.24" height="6.15" fill="#fff"/>
<rect x="286.07" y="138.01" width="6.24" height="6.15" fill="#fff"/>
<rect x="292.31" y="138.01" width="6.24" height="6.15" fill="#fff"/>
<rect x="298.55" y="138.01" width="6.24" height="6.15" fill="#fff"/>
<rect x="142.6" y="144.15" width="6.24" height="6.15" fill="#fff"/>
<rect x="148.84" y="144.15" width="6.24" height="6.15" fill="#fff"/>
<rect x="155.08" y="144.15" width="6.24" height="6.15" fill="#fff"/>
<rect x="161.31" y="144.15" width="6.24" height="6.15" fill="#fff"/>
<rect x="167.55" y="144.15" width="6.24" height="6.15" fill="#fff"/>
<rect x="173.79" y="144.15" width="6.24" height="6.15" fill="#fff"/>
<rect x="180.03" y="144.15" width="6.24" height="6.15" fill="#9da0c6"/>
<rect x="186.27" y="144.15" width="6.24" height="6.15" fill="#fff"/>
<rect x="192.5" y="144.15" width="6.24" height="6.15" fill="#fff"/>
<rect x="198.74" y="144.15" width="6.24" height="6.15" fill="#2e6345"/>
<rect x="204.98" y="144.15" width="6.24" height="6.15" fill="#eef1f7"/>
<rect x="211.22" y="144.15" width="6.24" height="6.15" fill="#fff"/>
<rect x="217.46" y="144.15" width="6.24" height="6.15" fill="#fff"/>
<rect x="223.69" y="144.15" width="6.24" height="6.15" fill="#fff"/>
<rect x="229.93" y="144.15" width="6.24" height="6.15" fill="#fff"/>
<rect x="236.17" y="144.15" width="6.24" height="6.15" fill="#fff"/>
<rect x="242.41" y="144.15" width="6.24" height="6.15" fill="#fff"/>
<rect x="248.65" y="144.15" width="6.24" height="6.15" fill="#fff"/>
<rect x="254.88" y="144.15" width="6.24" height="6.15" fill="#fff"/>
<rect x="261.12" y="144.15" width="6.24" height="6.15" fill="#55659d"/>
<rect x="267.36" y="144.15" width="6.24" height="6.15" fill="#55659d"/>
<rect x="273.6" y="144.15" width="6.24" height="6.15" fill="#fff"/>
<rect x="279.84" y="144.15" width="6.24" height="6.15" fill="#fff"/>
<rect x="286.07" y="144.15" width="6.24" height="6.15" fill="#fff"/>
<rect x="292.31" y="144.15" width="6.24" height="6.15" fill="#fff"/>
<rect x="298.55" y="144.15" width="6.24" height="6.15" fill="#fff"/>
<rect x="142.6" y="150.3" width="6.24" height="6.15" fill="#fff"/>
<rect x="148.84" y="150.3" width="6.24" height="6.15" fill="#fff"/>
<rect x="155.08" y="150.3" width="6.24" height="6.15" fill="#fff"/>
<rect x="161.31" y="150.3" width="6.24" height="6.15" fill="#fff"/>
<rect x="167.55" y="150.3" width="6.24" height="6.15" fill="#fff"/>
<rect x="173.79" y="150.3" width="6.24" height="6.15" fill="#fff"/>
<rect x="180.03" y="150.3" width="6.24" height="6.15" fill="#55659d"/>
<rect x="186.27" y="150.3" width="6.24" height="6.15" fill="#fff"/>
<rect x="192.5" y="150.3" width="6.24" height="6.15" fill="#fff"/>
<rect x="198.74" y="150.3" width="6.24" height="6.15" fill="#eef1f7"/>
<rect x="204.98" y="150.3" width="6.24" height="6.15" fill="#55659d"/>
<rect x="211.22" y="150.3" width="6.24" height="6.15" fill="#fff"/>
<rect x="217.46" y="150.3" width="6.24" height="6.15" fill="#fff"/>
<rect x="223.69" y="150.3" width="6.24" height="6.15" fill="#fff"/>
<rect x="229.93" y="150.3" width="6.24" height="6.15" fill="#fff"/>
<rect x="236.17" y="150.3" width="6.24" height="6.15" fill="#fff"/>
<rect x="242.41" y="150.3" width="6.24" height="6.15" fill="#fff"/>
<rect x="248.65" y="150.3" width="6.24" height="6.15" fill="#fff"/>
<rect x="254.88" y="150.3" width="6.24" height="6.15" fill="#fff"/>
<rect x="261.12" y="150.3" width="6.24" height="6.15" fill="#eef1f7"/>
<rect x="267.36" y="150.3" width="6.24" height="6.15" fill="#eef1f7"/>
<rect x="273.6" y="150.3" width="6.24" height="6.15" fill="#55659d"/>
<rect x="279.84" y="150.3" width="6.24" height="6.15" fill="#fff"/>
<rect x="286.07" y="150.3" width="6.24" height="6.15" fill="#fff"/>
<rect x="292.31" y="150.3" width="6.24" height="6.15" fill="#fff"/>
<rect x="298.55" y="150.3" width="6.24" height="6.15" fill="#fff"/>
<rect x="142.6" y="156.44" width="6.24" height="6.15" fill="#fff"/>
<rect x="148.84" y="156.44" width="6.24" height="6.15" fill="#fff"/>
<rect x="155.08" y="156.44" width="6.24" height="6.15" fill="#fff"/>
<rect x="161.31" y="156.44" width="6.24" height="6.15" fill="#fff"/>
<rect x="167.55" y="156.44" width="6.24" height="6.15" fill="#fff"/>
<rect x="173.79" y="156.44" width="6.24" height="6.15" fill="#fff"/>
<rect x="180.03" y="156.44" width="6.24" height="6.15" fill="#fff"/>
<rect x="186.27" y="156.44" width="6.24" height="6.15" fill="#fff"/>
<rect x="192.5" y="156.44" width="6.24" height="6.15" fill="#fff"/>
<rect x="198.74" y="156.44" width="6.24" height="6.15" fill="#eef1f7"/>
<rect x="204.98" y="156.44" width="6.24" height="6.15" fill="#eef1f7"/>
<rect x="211.22" y="156.44" width="6.24" height="6.15" fill="#fff"/>
<rect x="217.46" y="156.44" width="6.24" height="6.15" fill="#fff"/>
<rect x="223.69" y="156.44" width="6.24" height="6.15" fill="#fff"/>
<rect x="229.93" y="156.44" width="6.24" height="6.15" fill="#fff"/>
<rect x="236.17" y="156.44" width="6.24" height="6.15" fill="#fff"/>
<rect x="242.41" y="156.44" width="6.24" height="6.15" fill="#fff"/>
<rect x="248.65" y="156.44" width="6.24" height="6.15" fill="#fff"/>
<rect x="254.88" y="156.44" width="6.24" height="6.15" fill="#fff"/>
<rect x="261.12" y="156.44" width="6.24" height="6.15" fill="#55659d"/>
<rect x="267.36" y="156.44" width="6.24" height="6.15" fill="#eef1f7"/>
<rect x="273.6" y="156.44" width="6.24" height="6.15" fill="#55659d"/>
<rect x="279.84" y="156.44" width="6.24" height="6.15" fill="#fff"/>
<rect x="286.07" y="156.44" width="6.24" height="6.15" fill="#fff"/>
<rect x="292.31" y="156.44" width="6.24" height="6.15" fill="#fff"/>
<rect x="298.55" y="156.44" width="6.24" height="6.15" fill="#fff"/>
<rect x="142.6" y="162.59" width="6.24" height="6.15" fill="#fff"/>
<rect x="148.84" y="162.59" width="6.24" height="6.15" fill="#fff"/>
<rect x="155.08" y="162.59" width="6.24" height="6.15" fill="#fff"/>
<rect x="161.31" y="162.59" width="6.24" height="6.15" fill="#fff"/>
<rect x="167.55" y="162.59" width="6.24" height="6.15" fill="#fff"/>
<rect x="173.79" y="162.59" width="6.24" height="6.15" fill="#fff"/>
<rect x="180.03" y="162.59" width="6.24" height="6.15" fill="#fff"/>
<rect x="186.27" y="162.59" width="6.24" height="6.15" fill="#fff"/>
<rect x="192.5" y="162.59" width="6.24" height="6.15" fill="#fff"/>
<rect x="198.74" y="162.59" width="6.24" height="6.15" fill="#eef1f7"/>
<rect x="204.98" y="162.59" width="6.24" height="6.15" fill="#eef1f7"/>
<rect x="211.22" y="162.59" width="6.24" height="6.15" fill="#fff"/>
<rect x="217.46" y="162.59" width="6.24" height="6.15" fill="#fff"/>
<rect x="223.69" y="162.59" width="6.24" height="6.15" fill="#fff"/>
<rect x="229.93" y="162.59" width="6.24" height="6.15" fill="#fff"/>
<rect x="236.17" y="162.59" width="6.24" height="6.15" fill="#fff"/>
<rect x="242.41" y="162.59" width="6.24" height="6.15" fill="#fff"/>
<rect x="248.65" y="162.59" width="6.24" height="6.15" fill="#fff"/>
<rect x="254.88" y="162.59" width="6.24" height="6.15" fill="#fff"/>
<rect x="261.12" y="162.59" width="6.24" height="6.15" fill="#eef1f7"/>
<rect x="267.36" y="162.59" width="6.24" height="6.15" fill="#55659d"/>
<rect x="273.6" y="162.59" width="6.24" height="6.15" fill="#fff"/>
<rect x="279.84" y="162.59" width="6.24" height="6.15" fill="#fff"/>
<rect x="286.07" y="162.59" width="6.24" height="6.15" fill="#fff"/>
<rect x="292.31" y="162.59" width="6.24" height="6.15" fill="#fff"/>
<rect x="298.55" y="162.59" width="6.24" height="6.15" fill="#fff"/>
<rect x="142.6" y="168.74" width="6.24" height="6.15" fill="#fff"/>
<rect x="148.84" y="168.74" width="6.24" height="6.15" fill="#fff"/>
<rect x="155.08" y="168.74" width="6.24" height="6.15" fill="#fff"/>
<rect x="161.31" y="168.74" width="6.24" height="6.15" fill="#fff"/>
<rect x="167.55" y="168.74" width="6.24" height="6.15" fill="#fff"/>
<rect x="173.79" y="168.74" width="6.24" height="6.15" fill="#fff"/>
<rect x="180.03" y="168.74" width="6.24" height="6.15" fill="#fff"/>
<rect x="186.27" y="168.74" width="6.24" height="6.15" fill="#fff"/>
<rect x="192.5" y="168.74" width="6.24" height="6.15" fill="#fff"/>
<rect x="198.74" y="168.74" width="6.24" height="6.15" fill="#fff"/>
<rect x="204.98" y="168.74" width="6.24" height="6.15" fill="#fff"/>
<rect x="211.22" y="168.74" width="6.24" height="6.15" fill="#fff"/>
<rect x="217.46" y="168.74" width="6.24" height="6.15" fill="#fff"/>
<rect x="223.69" y="168.74" width="6.24" height="6.15" fill="#fff"/>
<rect x="229.93" y="168.74" width="6.24" height="6.15" fill="#fff"/>
<rect x="236.17" y="168.74" width="6.24" height="6.15" fill="#fff"/>
<rect x="242.41" y="168.74" width="6.24" height="6.15" fill="#55659d"/>
<rect x="248.65" y="168.74" width="6.24" height="6.15" fill="#55659d"/>
<rect x="254.88" y="168.74" width="6.24" height="6.15" fill="#fff"/>
<rect x="261.12" y="168.74" width="6.24" height="6.15" fill="#fff"/>
<rect x="267.36" y="168.74" width="6.24" height="6.15" fill="#fff"/>
<rect x="273.6" y="168.74" width="6.24" height="6.15" fill="#55659d"/>
<rect x="279.84" y="168.74" width="6.24" height="6.15" fill="#fff"/>
<rect x="286.07" y="168.74" width="6.24" height="6.15" fill="#fff"/>
<rect x="292.31" y="168.74" width="6.24" height="6.15" fill="#fff"/>
<rect x="298.55" y="168.74" width="6.24" height="6.15" fill="#55659d"/>
<rect x="142.6" y="174.88" width="6.24" height="6.15" fill="#fff"/>
<rect x="148.84" y="174.88" width="6.24" height="6.15" fill="#fff"/>
<rect x="155.08" y="174.88" width="6.24" height="6.15" fill="#fff"/>
<rect x="161.31" y="174.88" width="6.24" height="6.15" fill="#55659d"/>
<rect x="167.55" y="174.88" width="6.24" height="6.15" fill="#fff"/>
<rect x="173.79" y="174.88" width="6.24" height="6.15" fill="#55659d"/>
<rect x="180.03" y="174.88" width="6.24" height="6.15" fill="#55659d"/>
<rect x="186.27" y="174.88" width="6.24" height="6.15" fill="#fff"/>
<rect x="192.5" y="174.88" width="6.24" height="6.15" fill="#55659d"/>
<rect x="198.74" y="174.88" width="6.24" height="6.15" fill="#fff"/>
<rect x="204.98" y="174.88" width="6.24" height="6.15" fill="#55659d"/>
<rect x="211.22" y="174.88" width="6.24" height="6.15" fill="#fff"/>
<rect x="217.46" y="174.88" width="6.24" height="6.15" fill="#fff"/>
<rect x="223.69" y="174.88" width="6.24" height="6.15" fill="#fff"/>
<rect x="229.93" y="174.88" width="6.24" height="6.15" fill="#fff"/>
<rect x="236.17" y="174.88" width="6.24" height="6.15" fill="#fff"/>
<rect x="242.41" y="174.88" width="6.24" height="6.15" fill="#fff"/>
<rect x="248.65" y="174.88" width="6.24" height="6.15" fill="#fff"/>
<rect x="254.88" y="174.88" width="6.24" height="6.15" fill="#fff"/>
<rect x="261.12" y="174.88" width="6.24" height="6.15" fill="#fff"/>
<rect x="267.36" y="174.88" width="6.24" height="6.15" fill="#fff"/>
<rect x="273.6" y="174.88" width="6.24" height="6.15" fill="#fff"/>
<rect x="279.84" y="174.88" width="6.24" height="6.15" fill="#fff"/>
<rect x="286.07" y="174.88" width="6.24" height="6.15" fill="#fff"/>
<rect x="292.31" y="174.88" width="6.24" height="6.15" fill="#fff"/>
<rect x="298.55" y="174.88" width="6.24" height="6.15" fill="#fff"/>
<rect x="142.6" y="181.03" width="6.24" height="6.15" fill="#fff"/>
<rect x="148.84" y="181.03" width="6.24" height="6.15" fill="#fff"/>
<rect x="155.08" y="181.03" width="6.24" height="6.15" fill="#fff"/>
<rect x="161.31" y="181.03" width="6.24" height="6.15" fill="#55659d"/>
<rect x="167.55" y="181.03" width="6.24" height="6.15" fill="#fff"/>
<rect x="173.79" y="181.03" width="6.24" height="6.15" fill="#fff"/>
<rect x="180.03" y="181.03" width="6.24" height="6.15" fill="#55659d"/>
<rect x="186.27" y="181.03" width="6.24" height="6.15" fill="#fff"/>
<rect x="192.5" y="181.03" width="6.24" height="6.15" fill="#55659d"/>
<rect x="198.74" y="181.03" width="6.24" height="6.15" fill="#55659d"/>
<rect x="204.98" y="181.03" width="6.24" height="6.15" fill="#fff"/>
<rect x="211.22" y="181.03" width="6.24" height="6.15" fill="#fff"/>
<rect x="217.46" y="181.03" width="6.24" height="6.15" fill="#fff"/>
<rect x="223.69" y="181.03" width="6.24" height="6.15" fill="#fff"/>
<rect x="229.93" y="181.03" width="6.24" height="6.15" fill="#fff"/>
<rect x="236.17" y="181.03" width="6.24" height="6.15" fill="#fff"/>
<rect x="242.41" y="181.03" width="6.24" height="6.15" fill="#fff"/>
<rect x="248.65" y="181.03" width="6.24" height="6.15" fill="#fff"/>
<rect x="254.88" y="181.03" width="6.24" height="6.15" fill="#fff"/>
<rect x="261.12" y="181.03" width="6.24" height="6.15" fill="#fff"/>
<rect x="267.36" y="181.03" width="6.24" height="6.15" fill="#fff"/>
<rect x="273.6" y="181.03" width="6.24" height="6.15" fill="#fff"/>
<rect x="279.84" y="181.03" width="6.24" height="6.15" fill="#fff"/>
<rect x="286.07" y="181.03" width="6.24" height="6.15" fill="#fff"/>
<rect x="292.31" y="181.03" width="6.24" height="6.15" fill="#fff"/>
<rect x="298.55" y="181.03" width="6.24" height="6.15" fill="#fff"/>
<rect x="142.6" y="187.17" width="6.24" height="6.15" fill="#fff"/>
<rect x="148.84" y="187.17" width="6.24" height="6.15" fill="#55659d"/>
<rect x="155.08" y="187.17" width="6.24" height="6.15" fill="#55659d"/>
<rect x="161.31" y="187.17" width="6.24" height="6.15" fill="#fff"/>
<rect x="167.55" y="187.17" width="6.24" height="6.15" fill="#fff"/>
<rect x="173.79" y="187.17" width="6.24" height="6.15" fill="#fff"/>
<rect x="180.03" y="187.17" width="6.24" height="6.15" fill="#fff"/>
<rect x="186.27" y="187.17" width="6.24" height="6.15" fill="#fff"/>
<rect x="192.5" y="187.17" width="6.24" height="6.15" fill="#55659d"/>
<rect x="198.74" y="187.17" width="6.24" height="6.15" fill="#fff"/>
<rect x="204.98" y="187.17" width="6.24" height="6.15" fill="#fff"/>
<rect x="211.22" y="187.17" width="6.24" height="6.15" fill="#fff"/>
<rect x="217.46" y="187.17" width="6.24" height="6.15" fill="#fff"/>
<rect x="223.69" y="187.17" width="6.24" height="6.15" fill="#fff"/>
<rect x="229.93" y="187.17" width="6.24" height="6.15" fill="#fff"/>
<rect x="236.17" y="187.17" width="6.24" height="6.15" fill="#fff"/>
<rect x="242.41" y="187.17" width="6.24" height="6.15" fill="#fff"/>
<rect x="248.65" y="187.17" width="6.24" height="6.15" fill="#fff"/>
<rect x="254.88" y="187.17" width="6.24" height="6.15" fill="#fff"/>
<rect x="261.12" y="187.17" width="6.24" height="6.15" fill="#fff"/>
<rect x="267.36" y="187.17" width="6.24" height="6.15" fill="#fff"/>
<rect x="273.6" y="187.17" width="6.24" height="6.15" fill="#fff"/>
<rect x="279.84" y="187.17" width="6.24" height="6.15" fill="#fff"/>
<rect x="286.07" y="187.17" width="6.24" height="6.15" fill="#fff"/>
<rect x="292.31" y="187.17" width="6.24" height="6.15" fill="#fff"/>
<rect x="298.55" y="187.17" width="6.24" height="6.15" fill="#fff"/>
<rect x="142.6" y="193.32" width="6.24" height="6.15" fill="#fff"/>
<rect x="148.84" y="193.32" width="6.24" height="6.15" fill="#55659d"/>
<rect x="155.08" y="193.32" width="6.24" height="6.15" fill="#fff"/>
<rect x="161.31" y="193.32" width="6.24" height="6.15" fill="#fff"/>
<rect x="167.55" y="193.32" width="6.24" height="6.15" fill="#fff"/>
<rect x="173.79" y="193.32" width="6.24" height="6.15" fill="#55659d"/>
<rect x="180.03" y="193.32" width="6.24" height="6.15" fill="#55659d"/>
<rect x="186.27" y="193.32" width="6.24" height="6.15" fill="#fff"/>
<rect x="192.5" y="193.32" width="6.24" height="6.15" fill="#fff"/>
<rect x="198.74" y="193.32" width="6.24" height="6.15" fill="#fff"/>
<rect x="204.98" y="193.32" width="6.24" height="6.15" fill="#fff"/>
<rect x="211.22" y="193.32" width="6.24" height="6.15" fill="#fff"/>
<rect x="217.46" y="193.32" width="6.24" height="6.15" fill="#fff"/>
<rect x="223.69" y="193.32" width="6.24" height="6.15" fill="#fff"/>
<rect x="229.93" y="193.32" width="6.24" height="6.15" fill="#fff"/>
<rect x="236.17" y="193.32" width="6.24" height="6.15" fill="#fff"/>
<rect x="242.41" y="193.32" width="6.24" height="6.15" fill="#fff"/>
<rect x="248.65" y="193.32" width="6.24" height="6.15" fill="#fff"/>
<rect x="254.88" y="193.32" width="6.24" height="6.15" fill="#fff"/>
<rect x="261.12" y="193.32" width="6.24" height="6.15" fill="#fff"/>
<rect x="267.36" y="193.32" width="6.24" height="6.15" fill="#fff"/>
<rect x="273.6" y="193.32" width="6.24" height="6.15" fill="#fff"/>
<rect x="279.84" y="193.32" width="6.24" height="6.15" fill="#fff"/>
<rect x="286.07" y="193.32" width="6.24" height="6.15" fill="#fff"/>
<rect x="292.31" y="193.32" width="6.24" height="6.15" fill="#fff"/>
<rect x="298.55" y="193.32" width="6.24" height="6.15" fill="#fff"/>
<rect x="142.6" y="199.47" width="6.24" height="6.15" fill="#fff"/>
<rect x="148.84" y="199.47" width="6.24" height="6.15" fill="#fff"/>
<rect x="155.08" y="199.47" width="6.24" height="6.15" fill="#fff"/>
<rect x="161.31" y="199.47" width="6.24" height="6.15" fill="#55659d"/>
<rect x="167.55" y="199.47" width="6.24" height="6.15" fill="#fff"/>
<rect x="173.79" y="199.47" width="6.24" height="6.15" fill="#fff"/>
<rect x="180.03" y="199.47" width="6.24" height="6.15" fill="#fff"/>
<rect x="186.27" y="199.47" width="6.24" height="6.15" fill="#fff"/>
<rect x="192.5" y="199.47" width="6.24" height="6.15" fill="#fff"/>
<rect x="198.74" y="199.47" width="6.24" height="6.15" fill="#fff"/>
<rect x="204.98" y="199.47" width="6.24" height="6.15" fill="#fff"/>
<rect x="211.22" y="199.47" width="6.24" height="6.15" fill="#fff"/>
<rect x="217.46" y="199.47" width="6.24" height="6.15" fill="#fff"/>
<rect x="223.69" y="199.47" width="6.24" height="6.15" fill="#fff"/>
<rect x="229.93" y="199.47" width="6.24" height="6.15" fill="#55659d"/>
<rect x="236.17" y="199.47" width="6.24" height="6.15" fill="#fff"/>
<rect x="242.41" y="199.47" width="6.24" height="6.15" fill="#b7d79b"/>
<rect x="248.65" y="199.47" width="6.24" height="6.15" fill="#fff"/>
<rect x="254.88" y="199.47" width="6.24" height="6.15" fill="#fff"/>
<rect x="261.12" y="199.47" width="6.24" height="6.15" fill="#fff"/>
<rect x="267.36" y="199.47" width="6.24" height="6.15" fill="#fff"/>
<rect x="273.6" y="199.47" width="6.24" height="6.15" fill="#55659d"/>
<rect x="279.84" y="199.47" width="6.24" height="6.15" fill="#55659d"/>
<rect x="286.07" y="199.47" width="6.24" height="6.15" fill="#fff"/>
<rect x="292.31" y="199.47" width="6.24" height="6.15" fill="#fff"/>
<rect x="298.55" y="199.47" width="6.24" height="6.15" fill="#fff"/>
<rect x="142.6" y="205.61" width="6.24" height="6.15" fill="#fff"/>
<rect x="148.84" y="205.61" width="6.24" height="6.15" fill="#fff"/>
<rect x="155.08" y="205.61" width="6.24" height="6.15" fill="#fff"/>
<rect x="161.31" y="205.61" width="6.24" height="6.15" fill="#55659d"/>
<rect x="167.55" y="205.61" width="6.24" height="6.15" fill="#fff"/>
<rect x="173.79" y="205.61" width="6.24" height="6.15" fill="#fff"/>
<rect x="180.03" y="205.61" width="6.24" height="6.15" fill="#fff"/>
<rect x="186.27" y="205.61" width="6.24" height="6.15" fill="#fff"/>
<rect x="192.5" y="205.61" width="6.24" height="6.15" fill="#fff"/>
<rect x="198.74" y="205.61" width="6.24" height="6.15" fill="#fff"/>
<rect x="204.98" y="205.61" width="6.24" height="6.15" fill="#fff"/>
<rect x="211.22" y="205.61" width="6.24" height="6.15" fill="#fff"/>
<rect x="217.46" y="205.61" width="6.24" height="6.15" fill="#fff"/>
<rect x="223.69" y="205.61" width="6.24" height="6.15" fill="#fff"/>
<rect x="229.93" y="205.61" width="6.24" height="6.15" fill="#fff"/>
<rect x="236.17" y="205.61" width="6.24" height="6.15" fill="#fff"/>
<rect x="242.41" y="205.61" width="6.24" height="6.15" fill="#fff"/>
<rect x="248.65" y="205.61" width="6.24" height="6.15" fill="#55659d"/>
<rect x="254.88" y="205.61" width="6.24" height="6.15" fill="#55659d"/>
<rect x="261.12" y="205.61" width="6.24" height="6.15" fill="#fff"/>
<rect x="267.36" y="205.61" width="6.24" height="6.15" fill="#fff"/>
<rect x="273.6" y="205.61" width="6.24" height="6.15" fill="#fff"/>
<rect x="279.84" y="205.61" width="6.24" height="6.15" fill="#fff"/>
<rect x="286.07" y="205.61" width="6.24" height="6.15" fill="#fff"/>
<rect x="292.31" y="205.61" width="6.24" height="6.15" fill="#fff"/>
<rect x="298.55" y="205.61" width="6.24" height="6.15" fill="#55659d"/>
<rect x="142.6" y="211.76" width="6.24" height="6.15" fill="#fff"/>
<rect x="148.84" y="211.76" width="6.24" height="6.15" fill="#55659d"/>
<rect x="155.08" y="211.76" width="6.24" height="6.15" fill="#fff"/>
<rect x="161.31" y="211.76" width="6.24" height="6.15" fill="#fff"/>
<rect x="167.55" y="211.76" width="6.24" height="6.15" fill="#fff"/>
<rect x="173.79" y="211.76" width="6.24" height="6.15" fill="#fff"/>
<rect x="180.03" y="211.76" width="6.24" height="6.15" fill="#fff"/>
<rect x="186.27" y="211.76" width="6.24" height="6.15" fill="#fff"/>
<rect x="192.5" y="211.76" width="6.24" height="6.15" fill="#fff"/>
<rect x="198.74" y="211.76" width="6.24" height="6.15" fill="#fff"/>
<rect x="204.98" y="211.76" width="6.24" height="6.15" fill="#fff"/>
<rect x="211.22" y="211.76" width="6.24" height="6.15" fill="#fff"/>
<rect x="217.46" y="211.76" width="6.24" height="6.15" fill="#fff"/>
<rect x="223.69" y="211.76" width="6.24" height="6.15" fill="#fff"/>
<rect x="229.93" y="211.76" width="6.24" height="6.15" fill="#fff"/>
<rect x="236.17" y="211.76" width="6.24" height="6.15" fill="#55659d"/>
<rect x="242.41" y="211.76" width="6.24" height="6.15" fill="#55659d"/>
<rect x="248.65" y="211.76" width="6.24" height="6.15" fill="#fff"/>
<rect x="254.88" y="211.76" width="6.24" height="6.15" fill="#fff"/>
<rect x="261.12" y="211.76" width="6.24" height="6.15" fill="#fff"/>
<rect x="267.36" y="211.76" width="6.24" height="6.15" fill="#fff"/>
<rect x="273.6" y="211.76" width="6.24" height="6.15" fill="#fff"/>
<rect x="279.84" y="211.76" width="6.24" height="6.15" fill="#55659d"/>
<rect x="286.07" y="211.76" width="6.24" height="6.15" fill="#fff"/>
<rect x="292.31" y="211.76" width="6.24" height="6.15" fill="#fff"/>
<rect x="298.55" y="211.76" width="6.24" height="6.15" fill="#fff"/>
<rect x="142.6" y="217.9" width="6.24" height="6.15" fill="#fff"/>
<rect x="148.84" y="217.9" width="6.24" height="6.15" fill="#fff"/>
<rect x="155.08" y="217.9" width="6.24" height="6.15" fill="#fff"/>
<rect x="161.31" y="217.9" width="6.24" height="6.15" fill="#fff"/>
<rect x="167.55" y="217.9" width="6.24" height="6.15" fill="#fff"/>
<rect x="173.79" y="217.9" width="6.24" height="6.15" fill="#fff"/>
<rect x="180.03" y="217.9" width="6.24" height="6.15" fill="#fff"/>
<rect x="186.27" y="217.9" width="6.24" height="6.15" fill="#55659d"/>
<rect x="192.5" y="217.9" width="6.24" height="6.15" fill="#fff"/>
<rect x="198.74" y="217.9" width="6.24" height="6.15" fill="#fff"/>
<rect x="204.98" y="217.9" width="6.24" height="6.15" fill="#fff"/>
<rect x="211.22" y="217.9" width="6.24" height="6.15" fill="#fff"/>
<rect x="217.46" y="217.9" width="6.24" height="6.15" fill="#fff"/>
<rect x="223.69" y="217.9" width="6.24" height="6.15" fill="#fff"/>
<rect x="229.93" y="217.9" width="6.24" height="6.15" fill="#fff"/>
<rect x="236.17" y="217.9" width="6.24" height="6.15" fill="#fff"/>
<rect x="242.41" y="217.9" width="6.24" height="6.15" fill="#55659d"/>
<rect x="248.65" y="217.9" width="6.24" height="6.15" fill="#fff"/>
<rect x="254.88" y="217.9" width="6.24" height="6.15" fill="#2a4581"/>
<rect x="261.12" y="217.9" width="6.24" height="6.15" fill="#fff"/>
<rect x="267.36" y="217.9" width="6.24" height="6.15" fill="#fff"/>
<rect x="273.6" y="217.9" width="6.24" height="6.15" fill="#2e6345"/>
<rect x="279.84" y="217.9" width="6.24" height="6.15" fill="#fff"/>
<rect x="286.07" y="217.9" width="6.24" height="6.15" fill="#fff"/>
<rect x="292.31" y="217.9" width="6.24" height="6.15" fill="#fff"/>
<rect x="298.55" y="217.9" width="6.24" height="6.15" fill="#fff"/>
<rect x="142.6" y="224.05" width="6.24" height="6.15" fill="#fff"/>
<rect x="148.84" y="224.05" width="6.24" height="6.15" fill="#fff"/>
<rect x="155.08" y="224.05" width="6.24" height="6.15" fill="#fff"/>
<rect x="161.31" y="224.05" width="6.24" height="6.15" fill="#fff"/>
<rect x="167.55" y="224.05" width="6.24" height="6.15" fill="#fff"/>
<rect x="173.79" y="224.05" width="6.24" height="6.15" fill="#55659d"/>
<rect x="180.03" y="224.05" width="6.24" height="6.15" fill="#fff"/>
<rect x="186.27" y="224.05" width="6.24" height="6.15" fill="#fff"/>
<rect x="192.5" y="224.05" width="6.24" height="6.15" fill="#fff"/>
<rect x="198.74" y="224.05" width="6.24" height="6.15" fill="#fff"/>
<rect x="204.98" y="224.05" width="6.24" height="6.15" fill="#fff"/>
<rect x="211.22" y="224.05" width="6.24" height="6.15" fill="#fff"/>
<rect x="217.46" y="224.05" width="6.24" height="6.15" fill="#fff"/>
<rect x="223.69" y="224.05" width="6.24" height="6.15" fill="#fff"/>
<rect x="229.93" y="224.05" width="6.24" height="6.15" fill="#2a4581"/>
<rect x="236.17" y="224.05" width="6.24" height="6.15" fill="#fff"/>
<rect x="242.41" y="224.05" width="6.24" height="6.15" fill="#fff"/>
<rect x="248.65" y="224.05" width="6.24" height="6.15" fill="#fff"/>
<rect x="254.88" y="224.05" width="6.24" height="6.15" fill="#fff"/>
<rect x="261.12" y="224.05" width="6.24" height="6.15" fill="#fff"/>
<rect x="267.36" y="224.05" width="6.24" height="6.15" fill="#fff"/>
<rect x="273.6" y="224.05" width="6.24" height="6.15" fill="#55659d"/>
<rect x="279.84" y="224.05" width="6.24" height="6.15" fill="#fff"/>
<rect x="286.07" y="224.05" width="6.24" height="6.15" fill="#fff"/>
<rect x="292.31" y="224.05" width="6.24" height="6.15" fill="#55659d"/>
<rect x="298.55" y="224.05" width="6.24" height="6.15" fill="#fff"/>
<rect x="142.6" y="230.2" width="6.24" height="6.15" fill="#fff"/>
<rect x="148.84" y="230.2" width="6.24" height="6.15" fill="#55659d"/>
<rect x="155.08" y="230.2" width="6.24" height="6.15" fill="#fff"/>
<rect x="161.31" y="230.2" width="6.24" height="6.15" fill="#fff"/>
<rect x="167.55" y="230.2" width="6.24" height="6.15" fill="#55659d"/>
<rect x="173.79" y="230.2" width="6.24" height="6.15" fill="#fff"/>
<rect x="180.03" y="230.2" width="6.24" height="6.15" fill="#fff"/>
<rect x="186.27" y="230.2" width="6.24" height="6.15" fill="#fff"/>
<rect x="192.5" y="230.2" width="6.24" height="6.15" fill="#fff"/>
<rect x="198.74" y="230.2" width="6.24" height="6.15" fill="#fff"/>
<rect x="204.98" y="230.2" width="6.24" height="6.15" fill="#fff"/>
<rect x="211.22" y="230.2" width="6.24" height="6.15" fill="#fff"/>
<rect x="217.46" y="230.2" width="6.24" height="6.15" fill="#fff"/>
<rect x="223.69" y="230.2" width="6.24" height="6.15" fill="#fff"/>
<rect x="229.93" y="230.2" width="6.24" height="6.15" fill="#fff"/>
<rect x="236.17" y="230.2" width="6.24" height="6.15" fill="#fff"/>
<rect x="242.41" y="230.2" width="6.24" height="6.15" fill="#55659d"/>
<rect x="248.65" y="230.2" width="6.24" height="6.15" fill="#fff"/>
<rect x="254.88" y="230.2" width="6.24" height="6.15" fill="#55659d"/>
<rect x="261.12" y="230.2" width="6.24" height="6.15" fill="#fff"/>
<rect x="267.36" y="230.2" width="6.24" height="6.15" fill="#fff"/>
<rect x="273.6" y="230.2" width="6.24" height="6.15" fill="#fff"/>
<rect x="279.84" y="230.2" width="6.24" height="6.15" fill="#fff"/>
<rect x="286.07" y="230.2" width="6.24" height="6.15" fill="#fff"/>
<rect x="292.31" y="230.2" width="6.24" height="6.15" fill="#fff"/>
<rect x="298.55" y="230.2" width="6.24" height="6.15" fill="#fff"/>
<rect x="142.6" y="236.34" width="6.24" height="6.15" fill="#fff"/>
<rect x="148.84" y="236.34" width="6.24" height="6.15" fill="#fff"/>
<rect x="155.08" y="236.34" width="6.24" height="6.15" fill="#fff"/>
<rect x="161.31" y="236.34" width="6.24" height="6.15" fill="#fff"/>
<rect x="167.55" y="236.34" width="6.24" height="6.15" fill="#fff"/>
<rect x="173.79" y="236.34" width="6.24" height="6.15" fill="#fff"/>
<rect x="180.03" y="236.34" width="6.24" height="6.15" fill="#fff"/>
<rect x="186.27" y="236.34" width="6.24" height="6.15" fill="#fff"/>
<rect x="192.5" y="236.34" width="6.24" height="6.15" fill="#fff"/>
<rect x="198.74" y="236.34" width="6.24" height="6.15" fill="#fff"/>
<rect x="204.98" y="236.34" width="6.24" height="6.15" fill="#55659d"/>
<rect x="211.22" y="236.34" width="6.24" height="6.15" fill="#fff"/>
<rect x="217.46" y="236.34" width="6.24" height="6.15" fill="#fff"/>
<rect x="223.69" y="236.34" width="6.24" height="6.15" fill="#fff"/>
<rect x="229.93" y="236.34" width="6.24" height="6.15" fill="#55659d"/>
<rect x="236.17" y="236.34" width="6.24" height="6.15" fill="#fff"/>
<rect x="242.41" y="236.34" width="6.24" height="6.15" fill="#55659d"/>
<rect x="248.65" y="236.34" width="6.24" height="6.15" fill="#fff"/>
<rect x="254.88" y="236.34" width="6.24" height="6.15" fill="#55659d"/>
<rect x="261.12" y="236.34" width="6.24" height="6.15" fill="#fff"/>
<rect x="267.36" y="236.34" width="6.24" height="6.15" fill="#fff"/>
<rect x="273.6" y="236.34" width="6.24" height="6.15" fill="#fff"/>
<rect x="279.84" y="236.34" width="6.24" height="6.15" fill="#fff"/>
<rect x="286.07" y="236.34" width="6.24" height="6.15" fill="#fff"/>
<rect x="292.31" y="236.34" width="6.24" height="6.15" fill="#fff"/>
<rect x="298.55" y="236.34" width="6.24" height="6.15" fill="#fff"/>
<rect x="142.6" y="242.49" width="6.24" height="6.15" fill="#55659d"/>
<rect x="148.84" y="242.49" width="6.24" height="6.15" fill="#fff"/>
<rect x="155.08" y="242.49" width="6.24" height="6.15" fill="#fff"/>
<rect x="161.31" y="242.49" width="6.24" height="6.15" fill="#55659d"/>
<rect x="167.55" y="242.49" width="6.24" height="6.15" fill="#fff"/>
<rect x="173.79" y="242.49" width="6.24" height="6.15" fill="#fff"/>
<rect x="180.03" y="242.49" width="6.24" height="6.15" fill="#fff"/>
<rect x="186.27" y="242.49" width="6.24" height="6.15" fill="#fff"/>
<rect x="192.5" y="242.49" width="6.24" height="6.15" fill="#fff"/>
<rect x="198.74" y="242.49" width="6.24" height="6.15" fill="#fff"/>
<rect x="204.98" y="242.49" width="6.24" height="6.15" fill="#fff"/>
<rect x="211.22" y="242.49" width="6.24" height="6.15" fill="#fff"/>
<rect x="217.46" y="242.49" width="6.24" height="6.15" fill="#fff"/>
<rect x="223.69" y="242.49" width="6.24" height="6.15" fill="#fff"/>
<rect x="229.93" y="242.49" width="6.24" height="6.15" fill="#fff"/>
<rect x="236.17" y="242.49" width="6.24" height="6.15" fill="#fff"/>
<rect x="242.41" y="242.49" width="6.24" height="6.15" fill="#fff"/>
<rect x="248.65" y="242.49" width="6.24" height="6.15" fill="#fff"/>
<rect x="254.88" y="242.49" width="6.24" height="6.15" fill="#fff"/>
<rect x="261.12" y="242.49" width="6.24" height="6.15" fill="#fff"/>
<rect x="267.36" y="242.49" width="6.24" height="6.15" fill="#fff"/>
<rect x="273.6" y="242.49" width="6.24" height="6.15" fill="#55659d"/>
<rect x="279.84" y="242.49" width="6.24" height="6.15" fill="#fff"/>
<rect x="286.07" y="242.49" width="6.24" height="6.15" fill="#fff"/>
<rect x="292.31" y="242.49" width="6.24" height="6.15" fill="#fff"/>
<rect x="298.55" y="242.49" width="6.24" height="6.15" fill="#55659d"/>
<rect x="142.6" y="248.63" width="6.24" height="6.15" fill="#fff"/>
<rect x="148.84" y="248.63" width="6.24" height="6.15" fill="#fff"/>
<rect x="155.08" y="248.63" width="6.24" height="6.15" fill="#fff"/>
<rect x="161.31" y="248.63" width="6.24" height="6.15" fill="#fff"/>
<rect x="167.55" y="248.63" width="6.24" height="6.15" fill="#55659d"/>
<rect x="173.79" y="248.63" width="6.24" height="6.15" fill="#fff"/>
<rect x="180.03" y="248.63" width="6.24" height="6.15" fill="#fff"/>
<rect x="186.27" y="248.63" width="6.24" height="6.15" fill="#fff"/>
<rect x="192.5" y="248.63" width="6.24" height="6.15" fill="#fff"/>
<rect x="198.74" y="248.63" width="6.24" height="6.15" fill="#fff"/>
<rect x="204.98" y="248.63" width="6.24" height="6.15" fill="#fff"/>
<rect x="211.22" y="248.63" width="6.24" height="6.15" fill="#fff"/>
<rect x="217.46" y="248.63" width="6.24" height="6.15" fill="#fff"/>
<rect x="223.69" y="248.63" width="6.24" height="6.15" fill="#55659d"/>
<rect x="229.93" y="248.63" width="6.24" height="6.15" fill="#fff"/>
<rect x="236.17" y="248.63" width="6.24" height="6.15" fill="#fff"/>
<rect x="242.41" y="248.63" width="6.24" height="6.15" fill="#55659d"/>
<rect x="248.65" y="248.63" width="6.24" height="6.15" fill="#fff"/>
<rect x="254.88" y="248.63" width="6.24" height="6.15" fill="#fff"/>
<rect x="261.12" y="248.63" width="6.24" height="6.15" fill="#fff"/>
<rect x="267.36" y="248.63" width="6.24" height="6.15" fill="#fff"/>
<rect x="273.6" y="248.63" width="6.24" height="6.15" fill="#fff"/>
<rect x="279.84" y="248.63" width="6.24" height="6.15" fill="#fff"/>
<rect x="286.07" y="248.63" width="6.24" height="6.15" fill="#fff"/>
<rect x="292.31" y="248.63" width="6.24" height="6.15" fill="#fff"/>
<rect x="298.55" y="248.63" width="6.24" height="6.15" fill="#fff"/>
<rect x="142.6" y="254.78" width="6.24" height="6.15" fill="#fff"/>
<rect x="148.84" y="254.78" width="6.24" height="6.15" fill="#fff"/>
<rect x="155.08" y="254.78" width="6.24" height="6.15" fill="#fff"/>
<rect x="161.31" y="254.78" width="6.24" height="6.15" fill="#fff"/>
<rect x="167.55" y="254.78" width="6.24" height="6.15" fill="#fff"/>
<rect x="173.79" y="254.78" width="6.24" height="6.15" fill="#fff"/>
<rect x="180.03" y="254.78" width="6.24" height="6.15" fill="#fff"/>
<rect x="186.27" y="254.78" width="6.24" height="6.15" fill="#fff"/>
<rect x="192.5" y="254.78" width="6.24" height="6.15" fill="#fff"/>
<rect x="198.74" y="254.78" width="6.24" height="6.15" fill="#fff"/>
<rect x="204.98" y="254.78" width="6.24" height="6.15" fill="#fff"/>
<rect x="211.22" y="254.78" width="6.24" height="6.15" fill="#55659d"/>
<rect x="217.46" y="254.78" width="6.24" height="6.15" fill="#fff"/>
<rect x="223.69" y="254.78" width="6.24" height="6.15" fill="#fff"/>
<rect x="229.93" y="254.78" width="6.24" height="6.15" fill="#fff"/>
<rect x="236.17" y="254.78" width="6.24" height="6.15" fill="#fff"/>
<rect x="242.41" y="254.78" width="6.24" height="6.15" fill="#fff"/>
<rect x="248.65" y="254.78" width="6.24" height="6.15" fill="#fff"/>
<rect x="254.88" y="254.78" width="6.24" height="6.15" fill="#fff"/>
<rect x="261.12" y="254.78" width="6.24" height="6.15" fill="#fff"/>
<rect x="267.36" y="254.78" width="6.24" height="6.15" fill="#fff"/>
<rect x="273.6" y="254.78" width="6.24" height="6.15" fill="#55659d"/>
<rect x="279.84" y="254.78" width="6.24" height="6.15" fill="#fff"/>
<rect x="286.07" y="254.78" width="6.24" height="6.15" fill="#fff"/>
<rect x="292.31" y="254.78" width="6.24" height="6.15" fill="#fff"/>
<rect x="298.55" y="254.78" width="6.24" height="6.15" fill="#55659d"/>
<rect x="142.6" y="260.93" width="6.24" height="6.15" fill="#fff"/>
<rect x="148.84" y="260.93" width="6.24" height="6.15" fill="#fff"/>
<rect x="155.08" y="260.93" width="6.24" height="6.15" fill="#fff"/>
<rect x="161.31" y="260.93" width="6.24" height="6.15" fill="#fff"/>
<rect x="167.55" y="260.93" width="6.24" height="6.15" fill="#fff"/>
<rect x="173.79" y="260.93" width="6.24" height="6.15" fill="#fff"/>
<rect x="180.03" y="260.93" width="6.24" height="6.15" fill="#fff"/>
<rect x="186.27" y="260.93" width="6.24" height="6.15" fill="#fff"/>
<rect x="192.5" y="260.93" width="6.24" height="6.15" fill="#fff"/>
<rect x="198.74" y="260.93" width="6.24" height="6.15" fill="#fff"/>
<rect x="204.98" y="260.93" width="6.24" height="6.15" fill="#fff"/>
<rect x="211.22" y="260.93" width="6.24" height="6.15" fill="#fff"/>
<rect x="217.46" y="260.93" width="6.24" height="6.15" fill="#fff"/>
<rect x="223.69" y="260.93" width="6.24" height="6.15" fill="#fff"/>
<rect x="229.93" y="260.93" width="6.24" height="6.15" fill="#fff"/>
<rect x="236.17" y="260.93" width="6.24" height="6.15" fill="#55659d"/>
<rect x="242.41" y="260.93" width="6.24" height="6.15" fill="#fff"/>
<rect x="248.65" y="260.93" width="6.24" height="6.15" fill="#fff"/>
<rect x="254.88" y="260.93" width="6.24" height="6.15" fill="#fff"/>
<rect x="261.12" y="260.93" width="6.24" height="6.15" fill="#fff"/>
<rect x="267.36" y="260.93" width="6.24" height="6.15" fill="#fff"/>
<rect x="273.6" y="260.93" width="6.24" height="6.15" fill="#2a4581"/>
<rect x="279.84" y="260.93" width="6.24" height="6.15" fill="#55659d"/>
<rect x="286.07" y="260.93" width="6.24" height="6.15" fill="#fff"/>
<rect x="292.31" y="260.93" width="6.24" height="6.15" fill="#fff"/>
<rect x="298.55" y="260.93" width="6.24" height="6.15" fill="#fff"/>
<rect x="142.6" y="267.07" width="6.24" height="6.15" fill="#fff"/>
<rect x="148.84" y="267.07" width="6.24" height="6.15" fill="#fff"/>
<rect x="155.08" y="267.07" width="6.24" height="6.15" fill="#fff"/>
<rect x="161.31" y="267.07" width="6.24" height="6.15" fill="#fff"/>
<rect x="167.55" y="267.07" width="6.24" height="6.15" fill="#fff"/>
<rect x="173.79" y="267.07" width="6.24" height="6.15" fill="#fff"/>
<rect x="180.03" y="267.07" width="6.24" height="6.15" fill="#fff"/>
<rect x="186.27" y="267.07" width="6.24" height="6.15" fill="#fff"/>
<rect x="192.5" y="267.07" width="6.24" height="6.15" fill="#fff"/>
<rect x="198.74" y="267.07" width="6.24" height="6.15" fill="#fff"/>
<rect x="204.98" y="267.07" width="6.24" height="6.15" fill="#fff"/>
<rect x="211.22" y="267.07" width="6.24" height="6.15" fill="#fff"/>
<rect x="217.46" y="267.07" width="6.24" height="6.15" fill="#55659d"/>
<rect x="223.69" y="267.07" width="6.24" height="6.15" fill="#fff"/>
<rect x="229.93" y="267.07" width="6.24" height="6.15" fill="#fff"/>
<rect x="236.17" y="267.07" width="6.24" height="6.15" fill="#55659d"/>
<rect x="242.41" y="267.07" width="6.24" height="6.15" fill="#fff"/>
<rect x="248.65" y="267.07" width="6.24" height="6.15" fill="#55659d"/>
<rect x="254.88" y="267.07" width="6.24" height="6.15" fill="#fff"/>
<rect x="261.12" y="267.07" width="6.24" height="6.15" fill="#fff"/>
<rect x="267.36" y="267.07" width="6.24" height="6.15" fill="#fff"/>
<rect x="273.6" y="267.07" width="6.24" height="6.15" fill="#fff"/>
<rect x="279.84" y="267.07" width="6.24" height="6.15" fill="#fff"/>
<rect x="286.07" y="267.07" width="6.24" height="6.15" fill="#fff"/>
<rect x="292.31" y="267.07" width="6.24" height="6.15" fill="#fff"/>
<rect x="298.55" y="267.07" width="6.24" height="6.15" fill="#fff"/>
<rect x="142.6" y="273.22" width="6.24" height="6.15" fill="#55659d"/>
<rect x="148.84" y="273.22" width="6.24" height="6.15" fill="#fff"/>
<rect x="155.08" y="273.22" width="6.24" height="6.15" fill="#fff"/>
<rect x="161.31" y="273.22" width="6.24" height="6.15" fill="#fff"/>
<rect x="167.55" y="273.22" width="6.24" height="6.15" fill="#fff"/>
<rect x="173.79" y="273.22" width="6.24" height="6.15" fill="#fff"/>
<rect x="180.03" y="273.22" width="6.24" height="6.15" fill="#fff"/>
<rect x="186.27" y="273.22" width="6.24" height="6.15" fill="#fff"/>
<rect x="192.5" y="273.22" width="6.24" height="6.15" fill="#fff"/>
<rect x="198.74" y="273.22" width="6.24" height="6.15" fill="#fff"/>
<rect x="204.98" y="273.22" width="6.24" height="6.15" fill="#fff"/>
<rect x="211.22" y="273.22" width="6.24" height="6.15" fill="#fff"/>
<rect x="217.46" y="273.22" width="6.24" height="6.15" fill="#fff"/>
<rect x="223.69" y="273.22" width="6.24" height="6.15" fill="#fff"/>
<rect x="229.93" y="273.22" width="6.24" height="6.15" fill="#fff"/>
<rect x="236.17" y="273.22" width="6.24" height="6.15" fill="#fff"/>
<rect x="242.41" y="273.22" width="6.24" height="6.15" fill="#fff"/>
<rect x="248.65" y="273.22" width="6.24" height="6.15" fill="#fff"/>
<rect x="254.88" y="273.22" width="6.24" height="6.15" fill="#fff"/>
<rect x="261.12" y="273.22" width="6.24" height="6.15" fill="#fff"/>
<rect x="267.36" y="273.22" width="6.24" height="6.15" fill="#55659d"/>
<rect x="273.6" y="273.22" width="6.24" height="6.15" fill="#fff"/>
<rect x="279.84" y="273.22" width="6.24" height="6.15" fill="#fff"/>
<rect x="286.07" y="273.22" width="6.24" height="6.15" fill="#55659d"/>
<rect x="292.31" y="273.22" width="6.24" height="6.15" fill="#fff"/>
<rect x="298.55" y="273.22" width="6.24" height="6.15" fill="#fff"/>
<rect x="142.6" y="279.36" width="6.24" height="6.15" fill="#fff"/>
<rect x="148.84" y="279.36" width="6.24" height="6.15" fill="#55659d"/>
<rect x="155.08" y="279.36" width="6.24" height="6.15" fill="#fff"/>
<rect x="161.31" y="279.36" width="6.24" height="6.15" fill="#55659d"/>
<rect x="167.55" y="279.36" width="6.24" height="6.15" fill="#fff"/>
<rect x="173.79" y="279.36" width="6.24" height="6.15" fill="#fff"/>
<rect x="180.03" y="279.36" width="6.24" height="6.15" fill="#fff"/>
<rect x="186.27" y="279.36" width="6.24" height="6.15" fill="#fff"/>
<rect x="192.5" y="279.36" width="6.24" height="6.15" fill="#fff"/>
<rect x="198.74" y="279.36" width="6.24" height="6.15" fill="#fff"/>
<rect x="204.98" y="279.36" width="6.24" height="6.15" fill="#fff"/>
<rect x="211.22" y="279.36" width="6.24" height="6.15" fill="#fff"/>
<rect x="217.46" y="279.36" width="6.24" height="6.15" fill="#fff"/>
<rect x="223.69" y="279.36" width="6.24" height="6.15" fill="#fff"/>
<rect x="229.93" y="279.36" width="6.24" height="6.15" fill="#fff"/>
<rect x="236.17" y="279.36" width="6.24" height="6.15" fill="#fff"/>
<rect x="242.41" y="279.36" width="6.24" height="6.15" fill="#fff"/>
<rect x="248.65" y="279.36" width="6.24" height="6.15" fill="#fff"/>
<rect x="254.88" y="279.36" width="6.24" height="6.15" fill="#fff"/>
<rect x="261.12" y="279.36" width="6.24" height="6.15" fill="#fff"/>
<rect x="267.36" y="279.36" width="6.24" height="6.15" fill="#55659d"/>
<rect x="273.6" y="279.36" width="6.24" height="6.15" fill="#fff"/>
<rect x="279.84" y="279.36" width="6.24" height="6.15" fill="#fff"/>
<rect x="286.07" y="279.36" width="6.24" height="6.15" fill="#fff"/>
<rect x="292.31" y="279.36" width="6.24" height="6.15" fill="#fff"/>
<rect x="298.55" y="279.36" width="6.24" height="6.15" fill="#fff"/>
<rect x="142.6" y="285.51" width="6.24" height="6.15" fill="#fff"/>
<rect x="148.84" y="285.51" width="6.24" height="6.15" fill="#55659d"/>
<rect x="155.08" y="285.51" width="6.24" height="6.15" fill="#fff"/>
<rect x="161.31" y="285.51" width="6.24" height="6.15" fill="#fff"/>
<rect x="167.55" y="285.51" width="6.24" height="6.15" fill="#fff"/>
<rect x="173.79" y="285.51" width="6.24" height="6.15" fill="#fff"/>
<rect x="180.03" y="285.51" width="6.24" height="6.15" fill="#55659d"/>
<rect x="186.27" y="285.51" width="6.24" height="6.15" fill="#fff"/>
<rect x="192.5" y="285.51" width="6.24" height="6.15" fill="#fff"/>
<rect x="198.74" y="285.51" width="6.24" height="6.15" fill="#fff"/>
<rect x="204.98" y="285.51" width="6.24" height="6.15" fill="#fff"/>
<rect x="211.22" y="285.51" width="6.24" height="6.15" fill="#fff"/>
<rect x="217.46" y="285.51" width="6.24" height="6.15" fill="#fff"/>
<rect x="223.69" y="285.51" width="6.24" height="6.15" fill="#fff"/>
<rect x="229.93" y="285.51" width="6.24" height="6.15" fill="#fff"/>
<rect x="236.17" y="285.51" width="6.24" height="6.15" fill="#fff"/>
<rect x="242.41" y="285.51" width="6.24" height="6.15" fill="#9da0c6"/>
<rect x="248.65" y="285.51" width="6.24" height="6.15" fill="#fff"/>
<rect x="254.88" y="285.51" width="6.24" height="6.15" fill="#fff"/>
<rect x="261.12" y="285.51" width="6.24" height="6.15" fill="#fff"/>
<rect x="267.36" y="285.51" width="6.24" height="6.15" fill="#fff"/>
<rect x="273.6" y="285.51" width="6.24" height="6.15" fill="#fff"/>
<rect x="279.84" y="285.51" width="6.24" height="6.15" fill="#fff"/>
<rect x="286.07" y="285.51" width="6.24" height="6.15" fill="#fff"/>
<rect x="292.31" y="285.51" width="6.24" height="6.15" fill="#fff"/>
<rect x="298.55" y="285.51" width="6.24" height="6.15" fill="#fff"/>
<rect x="142.6" y="291.66" width="6.24" height="6.15" fill="#fff"/>
<rect x="148.84" y="291.66" width="6.24" height="6.15" fill="#fff"/>
<rect x="155.08" y="291.66" width="6.24" height="6.15" fill="#fff"/>
<rect x="161.31" y="291.66" width="6.24" height="6.15" fill="#55659d"/>
<rect x="167.55" y="291.66" width="6.24" height="6.15" fill="#fff"/>
<rect x="173.79" y="291.66" width="6.24" height="6.15" fill="#fff"/>
<rect x="180.03" y="291.66" width="6.24" height="6.15" fill="#fff"/>
<rect x="186.27" y="291.66" width="6.24" height="6.15" fill="#fff"/>
<rect x="192.5" y="291.66" width="6.24" height="6.15" fill="#fff"/>
<rect x="198.74" y="291.66" width="6.24" height="6.15" fill="#55659d"/>
<rect x="204.98" y="291.66" width="6.24" height="6.15" fill="#fff"/>
<rect x="211.22" y="291.66" width="6.24" height="6.15" fill="#fff"/>
<rect x="217.46" y="291.66" width="6.24" height="6.15" fill="#fff"/>
<rect x="223.69" y="291.66" width="6.24" height="6.15" fill="#fff"/>
<rect x="229.93" y="291.66" width="6.24" height="6.15" fill="#fff"/>
<rect x="236.17" y="291.66" width="6.24" height="6.15" fill="#fff"/>
<rect x="242.41" y="291.66" width="6.24" height="6.15" fill="#fff"/>
<rect x="248.65" y="291.66" width="6.24" height="6.15" fill="#fff"/>
<rect x="254.88" y="291.66" width="6.24" height="6.15" fill="#fff"/>
<rect x="261.12" y="291.66" width="6.24" height="6.15" fill="#fff"/>
<rect x="267.36" y="291.66" width="6.24" height="6.15" fill="#fff"/>
<rect x="273.6" y="291.66" width="6.24" height="6.15" fill="#fff"/>
<rect x="279.84" y="291.66" width="6.24" height="6.15" fill="#fff"/>
<rect x="286.07" y="291.66" width="6.24" height="6.15" fill="#fff"/>
<rect x="292.31" y="291.66" width="6.24" height="6.15" fill="#fff"/>
<rect x="298.55" y="291.66" width="6.24" height="6.15" fill="#55659d"/>
<path d="M142.6 70.4V297.8M148.84 70.4V297.8M155.08 70.4V297.8M161.31 70.4V297.8M167.55 70.4V297.8M173.79 70.4V297.8M180.03 70.4V297.8M186.27 70.4V297.8M192.5 70.4V297.8M198.74 70.4V297.8M204.98 70.4V297.8M211.22 70.4V297.8M217.46 70.4V297.8M223.69 70.4V297.8M229.93 70.4V297.8M236.17 70.4V297.8M242.41 70.4V297.8M248.65 70.4V297.8M254.88 70.4V297.8M261.12 70.4V297.8M267.36 70.4V297.8M273.6 70.4V297.8M279.84 70.4V297.8M286.07 70.4V297.8M292.31 70.4V297.8M298.55 70.4V297.8M304.79 70.4V297.8M142.6 70.4H304.79M142.6 76.55H304.79M142.6 82.69H304.79M142.6 88.84H304.79M142.6 94.98H304.79M142.6 101.13H304.79M142.6 107.28H304.79M142.6 113.42H304.79M142.6 119.57H304.79M142.6 125.71H304.79M142.6 131.86H304.79M142.6 138.01H304.79M142.6 144.15H304.79M142.6 150.3H304.79M142.6 156.44H304.79M142.6 162.59H304.79M142.6 168.74H304.79M142.6 174.88H304.79M142.6 181.03H304.79M142.6 187.17H304.79M142.6 193.32H304.79M142.6 199.47H304.79M142.6 205.61H304.79M142.6 211.76H304.79M142.6 217.9H304.79M142.6 224.05H304.79M142.6 230.2H304.79M142.6 236.34H304.79M142.6 242.49H304.79M142.6 248.63H304.79M142.6 254.78H304.79M142.6 260.93H304.79M142.6 267.07H304.79M142.6 273.22H304.79M142.6 279.36H304.79M142.6 285.51H304.79M142.6 291.66H304.79M142.6 297.8H304.79" stroke="#999999" stroke-width="0.8" fill="none"/>
<rect x="142.6" y="70.4" width="6.24" height="6.15" fill="#55659d" stroke="#3d4b7e" stroke-width="0.7"/>
<rect x="148.84" y="70.4" width="6.24" height="6.15" fill="#55659d" stroke="#3d4b7e" stroke-width="0.7"/>
<rect x="155.08" y="70.4" width="6.24" height="6.15" fill="#55659d" stroke="#3d4b7e" stroke-width="0.7"/>
<rect x="161.31" y="70.4" width="6.24" height="6.15" fill="#55659d" stroke="#3d4b7e" stroke-width="0.7"/>
<rect x="167.55" y="70.4" width="6.24" height="6.15" fill="#55659d" stroke="#3d4b7e" stroke-width="0.7"/>
<rect x="223.69" y="70.4" width="6.24" height="6.15" fill="#55659d" stroke="#3d4b7e" stroke-width="0.7"/>
<rect x="229.93" y="70.4" width="6.24" height="6.15" fill="#55659d" stroke="#3d4b7e" stroke-width="0.7"/>
<rect x="236.17" y="70.4" width="6.24" height="6.15" fill="#55659d" stroke="#3d4b7e" stroke-width="0.7"/>
<rect x="142.6" y="76.55" width="6.24" height="6.15" fill="#55659d" stroke="#3d4b7e" stroke-width="0.7"/>
<rect x="148.84" y="76.55" width="6.24" height="6.15" fill="#55659d" stroke="#3d4b7e" stroke-width="0.7"/>
<rect x="155.08" y="76.55" width="6.24" height="6.15" fill="#55659d" stroke="#3d4b7e" stroke-width="0.7"/>
<rect x="161.31" y="76.55" width="6.24" height="6.15" fill="#55659d" stroke="#3d4b7e" stroke-width="0.7"/>
<rect x="223.69" y="76.55" width="6.24" height="6.15" fill="#55659d" stroke="#3d4b7e" stroke-width="0.7"/>
<rect x="236.17" y="76.55" width="6.24" height="6.15" fill="#55659d" stroke="#3d4b7e" stroke-width="0.7"/>
<rect x="286.07" y="76.55" width="6.24" height="6.15" fill="#9da0c6" stroke="#7c82ad" stroke-width="0.7"/>
<rect x="148.84" y="82.69" width="6.24" height="6.15" fill="#55659d" stroke="#3d4b7e" stroke-width="0.7"/>
<rect x="155.08" y="82.69" width="6.24" height="6.15" fill="#55659d" stroke="#3d4b7e" stroke-width="0.7"/>
<rect x="161.31" y="82.69" width="6.24" height="6.15" fill="#55659d" stroke="#3d4b7e" stroke-width="0.7"/>
<rect x="167.55" y="82.69" width="6.24" height="6.15" fill="#55659d" stroke="#3d4b7e" stroke-width="0.7"/>
<rect x="173.79" y="82.69" width="6.24" height="6.15" fill="#55659d" stroke="#3d4b7e" stroke-width="0.7"/>
<rect x="180.03" y="82.69" width="6.24" height="6.15" fill="#55659d" stroke="#3d4b7e" stroke-width="0.7"/>
<rect x="223.69" y="82.69" width="6.24" height="6.15" fill="#55659d" stroke="#3d4b7e" stroke-width="0.7"/>
<rect x="229.93" y="82.69" width="6.24" height="6.15" fill="#55659d" stroke="#3d4b7e" stroke-width="0.7"/>
<rect x="261.12" y="82.69" width="6.24" height="6.15" fill="#55659d" stroke="#3d4b7e" stroke-width="0.7"/>
<rect x="273.6" y="82.69" width="6.24" height="6.15" fill="#55659d" stroke="#3d4b7e" stroke-width="0.7"/>
<rect x="148.84" y="88.84" width="6.24" height="6.15" fill="#55659d" stroke="#3d4b7e" stroke-width="0.7"/>
<rect x="167.55" y="88.84" width="6.24" height="6.15" fill="#55659d" stroke="#3d4b7e" stroke-width="0.7"/>
<rect x="173.79" y="88.84" width="6.24" height="6.15" fill="#9da0c6" stroke="#7c82ad" stroke-width="0.7"/>
<rect x="223.69" y="88.84" width="6.24" height="6.15" fill="#9da0c6" stroke="#7c82ad" stroke-width="0.7"/>
<rect x="236.17" y="88.84" width="6.24" height="6.15" fill="#9da0c6" stroke="#7c82ad" stroke-width="0.7"/>
<rect x="242.41" y="88.84" width="6.24" height="6.15" fill="#2e6345" stroke="#234d35" stroke-width="0.7"/>
<rect x="286.07" y="88.84" width="6.24" height="6.15" fill="#9da0c6" stroke="#7c82ad" stroke-width="0.7"/>
<rect x="148.84" y="94.98" width="6.24" height="6.15" fill="#55659d" stroke="#3d4b7e" stroke-width="0.7"/>
<rect x="161.31" y="94.98" width="6.24" height="6.15" fill="#b7d79b" stroke="#95b97a" stroke-width="0.7"/>
<rect x="173.79" y="94.98" width="6.24" height="6.15" fill="#55659d" stroke="#3d4b7e" stroke-width="0.7"/>
<rect x="229.93" y="94.98" width="6.24" height="6.15" fill="#55659d" stroke="#3d4b7e" stroke-width="0.7"/>
<rect x="279.84" y="94.98" width="6.24" height="6.15" fill="#55659d" stroke="#3d4b7e" stroke-width="0.7"/>
<rect x="286.07" y="94.98" width="6.24" height="6.15" fill="#55659d" stroke="#3d4b7e" stroke-width="0.7"/>
<rect x="155.08" y="101.13" width="6.24" height="6.15" fill="#2e6345" stroke="#234d35" stroke-width="0.7"/>
<rect x="173.79" y="101.13" width="6.24" height="6.15" fill="#2e6345" stroke="#234d35" stroke-width="0.7"/>
<rect x="273.6" y="101.13" width="6.24" height="6.15" fill="#55659d" stroke="#3d4b7e" stroke-width="0.7"/>
<rect x="292.31" y="101.13" width="6.24" height="6.15" fill="#9da0c6" stroke="#7c82ad" stroke-width="0.7"/>
<rect x="155.08" y="107.28" width="6.24" height="6.15" fill="#55659d" stroke="#3d4b7e" stroke-width="0.7"/>
<rect x="167.55" y="107.28" width="6.24" height="6.15" fill="#55659d" stroke="#3d4b7e" stroke-width="0.7"/>
<rect x="229.93" y="107.28" width="6.24" height="6.15" fill="#b7d79b" stroke="#95b97a" stroke-width="0.7"/>
<rect x="180.03" y="113.42" width="6.24" height="6.15" fill="#55659d" stroke="#3d4b7e" stroke-width="0.7"/>
<rect x="186.27" y="113.42" width="6.24" height="6.15" fill="#2e6345" stroke="#234d35" stroke-width="0.7"/>
<rect x="192.5" y="113.42" width="6.24" height="6.15" fill="#55659d" stroke="#3d4b7e" stroke-width="0.7"/>
<rect x="242.41" y="113.42" width="6.24" height="6.15" fill="#55659d" stroke="#3d4b7e" stroke-width="0.7"/>
<rect x="248.65" y="113.42" width="6.24" height="6.15" fill="#55659d" stroke="#3d4b7e" stroke-width="0.7"/>
<rect x="254.88" y="113.42" width="6.24" height="6.15" fill="#55659d" stroke="#3d4b7e" stroke-width="0.7"/>
<rect x="148.84" y="119.57" width="6.24" height="6.15" fill="#55659d" stroke="#3d4b7e" stroke-width="0.7"/>
<rect x="180.03" y="119.57" width="6.24" height="6.15" fill="#55659d" stroke="#3d4b7e" stroke-width="0.7"/>
<rect x="198.74" y="119.57" width="6.24" height="6.15" fill="#55659d" stroke="#3d4b7e" stroke-width="0.7"/>
<rect x="204.98" y="119.57" width="6.24" height="6.15" fill="#55659d" stroke="#3d4b7e" stroke-width="0.7"/>
<rect x="248.65" y="119.57" width="6.24" height="6.15" fill="#55659d" stroke="#3d4b7e" stroke-width="0.7"/>
<rect x="261.12" y="119.57" width="6.24" height="6.15" fill="#55659d" stroke="#3d4b7e" stroke-width="0.7"/>
<rect x="148.84" y="125.71" width="6.24" height="6.15" fill="#55659d" stroke="#3d4b7e" stroke-width="0.7"/>
<rect x="180.03" y="125.71" width="6.24" height="6.15" fill="#55659d" stroke="#3d4b7e" stroke-width="0.7"/>
<rect x="204.98" y="125.71" width="6.24" height="6.15" fill="#2e6345" stroke="#234d35" stroke-width="0.7"/>
<rect x="236.17" y="125.71" width="6.24" height="6.15" fill="#2a4581" stroke="#1e3366" stroke-width="0.7"/>
<rect x="242.41" y="125.71" width="6.24" height="6.15" fill="#55659d" stroke="#3d4b7e" stroke-width="0.7"/>
<rect x="261.12" y="125.71" width="6.24" height="6.15" fill="#2a4581" stroke="#1e3366" stroke-width="0.7"/>
<rect x="286.07" y="125.71" width="6.24" height="6.15" fill="#55659d" stroke="#3d4b7e" stroke-width="0.7"/>
<rect x="292.31" y="125.71" width="6.24" height="6.15" fill="#55659d" stroke="#3d4b7e" stroke-width="0.7"/>
<rect x="198.74" y="131.86" width="6.24" height="6.15" fill="#55659d" stroke="#3d4b7e" stroke-width="0.7"/>
<rect x="204.98" y="131.86" width="6.24" height="6.15" fill="#2a4581" stroke="#1e3366" stroke-width="0.7"/>
<rect x="242.41" y="131.86" width="6.24" height="6.15" fill="#2a4581" stroke="#1e3366" stroke-width="0.7"/>
<rect x="248.65" y="131.86" width="6.24" height="6.15" fill="#55659d" stroke="#3d4b7e" stroke-width="0.7"/>
<rect x="261.12" y="131.86" width="6.24" height="6.15" fill="#55659d" stroke="#3d4b7e" stroke-width="0.7"/>
<rect x="298.55" y="131.86" width="6.24" height="6.15" fill="#55659d" stroke="#3d4b7e" stroke-width="0.7"/>
<rect x="180.03" y="138.01" width="6.24" height="6.15" fill="#55659d" stroke="#3d4b7e" stroke-width="0.7"/>
<rect x="204.98" y="138.01" width="6.24" height="6.15" fill="#55659d" stroke="#3d4b7e" stroke-width="0.7"/>
<rect x="261.12" y="138.01" width="6.24" height="6.15" fill="#55659d" stroke="#3d4b7e" stroke-width="0.7"/>
<rect x="267.36" y="138.01" width="6.24" height="6.15" fill="#55659d" stroke="#3d4b7e" stroke-width="0.7"/>
<rect x="180.03" y="144.15" width="6.24" height="6.15" fill="#9da0c6" stroke="#7c82ad" stroke-width="0.7"/>
<rect x="198.74" y="144.15" width="6.24" height="6.15" fill="#2e6345" stroke="#234d35" stroke-width="0.7"/>
<rect x="261.12" y="144.15" width="6.24" height="6.15" fill="#55659d" stroke="#3d4b7e" stroke-width="0.7"/>
<rect x="267.36" y="144.15" width="6.24" height="6.15" fill="#55659d" stroke="#3d4b7e" stroke-width="0.7"/>
<rect x="180.03" y="150.3" width="6.24" height="6.15" fill="#55659d" stroke="#3d4b7e" stroke-width="0.7"/>
<rect x="204.98" y="150.3" width="6.24" height="6.15" fill="#55659d" stroke="#3d4b7e" stroke-width="0.7"/>
<rect x="273.6" y="150.3" width="6.24" height="6.15" fill="#55659d" stroke="#3d4b7e" stroke-width="0.7"/>
<rect x="261.12" y="156.44" width="6.24" height="6.15" fill="#55659d" stroke="#3d4b7e" stroke-width="0.7"/>
<rect x="273.6" y="156.44" width="6.24" height="6.15" fill="#55659d" stroke="#3d4b7e" stroke-width="0.7"/>
<rect x="267.36" y="162.59" width="6.24" height="6.15" fill="#55659d" stroke="#3d4b7e" stroke-width="0.7"/>
<rect x="242.41" y="168.74" width="6.24" height="6.15" fill="#55659d" stroke="#3d4b7e" stroke-width="0.7"/>
<rect x="248.65" y="168.74" width="6.24" height="6.15" fill="#55659d" stroke="#3d4b7e" stroke-width="0.7"/>
<rect x="273.6" y="168.74" width="6.24" height="6.15" fill="#55659d" stroke="#3d4b7e" stroke-width="0.7"/>
<rect x="298.55" y="168.74" width="6.24" height="6.15" fill="#55659d" stroke="#3d4b7e" stroke-width="0.7"/>
<rect x="161.31" y="174.88" width="6.24" height="6.15" fill="#55659d" stroke="#3d4b7e" stroke-width="0.7"/>
<rect x="173.79" y="174.88" width="6.24" height="6.15" fill="#55659d" stroke="#3d4b7e" stroke-width="0.7"/>
<rect x="180.03" y="174.88" width="6.24" height="6.15" fill="#55659d" stroke="#3d4b7e" stroke-width="0.7"/>
<rect x="192.5" y="174.88" width="6.24" height="6.15" fill="#55659d" stroke="#3d4b7e" stroke-width="0.7"/>
<rect x="204.98" y="174.88" width="6.24" height="6.15" fill="#55659d" stroke="#3d4b7e" stroke-width="0.7"/>
<rect x="161.31" y="181.03" width="6.24" height="6.15" fill="#55659d" stroke="#3d4b7e" stroke-width="0.7"/>
<rect x="180.03" y="181.03" width="6.24" height="6.15" fill="#55659d" stroke="#3d4b7e" stroke-width="0.7"/>
<rect x="192.5" y="181.03" width="6.24" height="6.15" fill="#55659d" stroke="#3d4b7e" stroke-width="0.7"/>
<rect x="198.74" y="181.03" width="6.24" height="6.15" fill="#55659d" stroke="#3d4b7e" stroke-width="0.7"/>
<rect x="148.84" y="187.17" width="6.24" height="6.15" fill="#55659d" stroke="#3d4b7e" stroke-width="0.7"/>
<rect x="155.08" y="187.17" width="6.24" height="6.15" fill="#55659d" stroke="#3d4b7e" stroke-width="0.7"/>
<rect x="192.5" y="187.17" width="6.24" height="6.15" fill="#55659d" stroke="#3d4b7e" stroke-width="0.7"/>
<rect x="148.84" y="193.32" width="6.24" height="6.15" fill="#55659d" stroke="#3d4b7e" stroke-width="0.7"/>
<rect x="173.79" y="193.32" width="6.24" height="6.15" fill="#55659d" stroke="#3d4b7e" stroke-width="0.7"/>
<rect x="180.03" y="193.32" width="6.24" height="6.15" fill="#55659d" stroke="#3d4b7e" stroke-width="0.7"/>
<rect x="161.31" y="199.47" width="6.24" height="6.15" fill="#55659d" stroke="#3d4b7e" stroke-width="0.7"/>
<rect x="229.93" y="199.47" width="6.24" height="6.15" fill="#55659d" stroke="#3d4b7e" stroke-width="0.7"/>
<rect x="242.41" y="199.47" width="6.24" height="6.15" fill="#b7d79b" stroke="#95b97a" stroke-width="0.7"/>
<rect x="273.6" y="199.47" width="6.24" height="6.15" fill="#55659d" stroke="#3d4b7e" stroke-width="0.7"/>
<rect x="279.84" y="199.47" width="6.24" height="6.15" fill="#55659d" stroke="#3d4b7e" stroke-width="0.7"/>
<rect x="161.31" y="205.61" width="6.24" height="6.15" fill="#55659d" stroke="#3d4b7e" stroke-width="0.7"/>
<rect x="248.65" y="205.61" width="6.24" height="6.15" fill="#55659d" stroke="#3d4b7e" stroke-width="0.7"/>
<rect x="254.88" y="205.61" width="6.24" height="6.15" fill="#55659d" stroke="#3d4b7e" stroke-width="0.7"/>
<rect x="298.55" y="205.61" width="6.24" height="6.15" fill="#55659d" stroke="#3d4b7e" stroke-width="0.7"/>
<rect x="148.84" y="211.76" width="6.24" height="6.15" fill="#55659d" stroke="#3d4b7e" stroke-width="0.7"/>
<rect x="236.17" y="211.76" width="6.24" height="6.15" fill="#55659d" stroke="#3d4b7e" stroke-width="0.7"/>
<rect x="242.41" y="211.76" width="6.24" height="6.15" fill="#55659d" stroke="#3d4b7e" stroke-width="0.7"/>
<rect x="279.84" y="211.76" width="6.24" height="6.15" fill="#55659d" stroke="#3d4b7e" stroke-width="0.7"/>
<rect x="186.27" y="217.9" width="6.24" height="6.15" fill="#55659d" stroke="#3d4b7e" stroke-width="0.7"/>
<rect x="242.41" y="217.9" width="6.24" height="6.15" fill="#55659d" stroke="#3d4b7e" stroke-width="0.7"/>
<rect x="254.88" y="217.9" width="6.24" height="6.15" fill="#2a4581" stroke="#1e3366" stroke-width="0.7"/>
<rect x="273.6" y="217.9" width="6.24" height="6.15" fill="#2e6345" stroke="#234d35" stroke-width="0.7"/>
<rect x="173.79" y="224.05" width="6.24" height="6.15" fill="#55659d" stroke="#3d4b7e" stroke-width="0.7"/>
<rect x="229.93" y="224.05" width="6.24" height="6.15" fill="#2a4581" stroke="#1e3366" stroke-width="0.7"/>
<rect x="273.6" y="224.05" width="6.24" height="6.15" fill="#55659d" stroke="#3d4b7e" stroke-width="0.7"/>
<rect x="292.31" y="224.05" width="6.24" height="6.15" fill="#55659d" stroke="#3d4b7e" stroke-width="0.7"/>
<rect x="148.84" y="230.2" width="6.24" height="6.15" fill="#55659d" stroke="#3d4b7e" stroke-width="0.7"/>
<rect x="167.55" y="230.2" width="6.24" height="6.15" fill="#55659d" stroke="#3d4b7e" stroke-width="0.7"/>
<rect x="242.41" y="230.2" width="6.24" height="6.15" fill="#55659d" stroke="#3d4b7e" stroke-width="0.7"/>
<rect x="254.88" y="230.2" width="6.24" height="6.15" fill="#55659d" stroke="#3d4b7e" stroke-width="0.7"/>
<rect x="204.98" y="236.34" width="6.24" height="6.15" fill="#55659d" stroke="#3d4b7e" stroke-width="0.7"/>
<rect x="229.93" y="236.34" width="6.24" height="6.15" fill="#55659d" stroke="#3d4b7e" stroke-width="0.7"/>
<rect x="242.41" y="236.34" width="6.24" height="6.15" fill="#55659d" stroke="#3d4b7e" stroke-width="0.7"/>
<rect x="254.88" y="236.34" width="6.24" height="6.15" fill="#55659d" stroke="#3d4b7e" stroke-width="0.7"/>
<rect x="142.6" y="242.49" width="6.24" height="6.15" fill="#55659d" stroke="#3d4b7e" stroke-width="0.7"/>
<rect x="161.31" y="242.49" width="6.24" height="6.15" fill="#55659d" stroke="#3d4b7e" stroke-width="0.7"/>
<rect x="273.6" y="242.49" width="6.24" height="6.15" fill="#55659d" stroke="#3d4b7e" stroke-width="0.7"/>
<rect x="298.55" y="242.49" width="6.24" height="6.15" fill="#55659d" stroke="#3d4b7e" stroke-width="0.7"/>
<rect x="167.55" y="248.63" width="6.24" height="6.15" fill="#55659d" stroke="#3d4b7e" stroke-width="0.7"/>
<rect x="223.69" y="248.63" width="6.24" height="6.15" fill="#55659d" stroke="#3d4b7e" stroke-width="0.7"/>
<rect x="242.41" y="248.63" width="6.24" height="6.15" fill="#55659d" stroke="#3d4b7e" stroke-width="0.7"/>
<rect x="211.22" y="254.78" width="6.24" height="6.15" fill="#55659d" stroke="#3d4b7e" stroke-width="0.7"/>
<rect x="273.6" y="254.78" width="6.24" height="6.15" fill="#55659d" stroke="#3d4b7e" stroke-width="0.7"/>
<rect x="298.55" y="254.78" width="6.24" height="6.15" fill="#55659d" stroke="#3d4b7e" stroke-width="0.7"/>
<rect x="236.17" y="260.93" width="6.24" height="6.15" fill="#55659d" stroke="#3d4b7e" stroke-width="0.7"/>
<rect x="273.6" y="260.93" width="6.24" height="6.15" fill="#2a4581" stroke="#1e3366" stroke-width="0.7"/>
<rect x="279.84" y="260.93" width="6.24" height="6.15" fill="#55659d" stroke="#3d4b7e" stroke-width="0.7"/>
<rect x="217.46" y="267.07" width="6.24" height="6.15" fill="#55659d" stroke="#3d4b7e" stroke-width="0.7"/>
<rect x="236.17" y="267.07" width="6.24" height="6.15" fill="#55659d" stroke="#3d4b7e" stroke-width="0.7"/>
<rect x="248.65" y="267.07" width="6.24" height="6.15" fill="#55659d" stroke="#3d4b7e" stroke-width="0.7"/>
<rect x="142.6" y="273.22" width="6.24" height="6.15" fill="#55659d" stroke="#3d4b7e" stroke-width="0.7"/>
<rect x="267.36" y="273.22" width="6.24" height="6.15" fill="#55659d" stroke="#3d4b7e" stroke-width="0.7"/>
<rect x="286.07" y="273.22" width="6.24" height="6.15" fill="#55659d" stroke="#3d4b7e" stroke-width="0.7"/>
<rect x="148.84" y="279.36" width="6.24" height="6.15" fill="#55659d" stroke="#3d4b7e" stroke-width="0.7"/>
<rect x="161.31" y="279.36" width="6.24" height="6.15" fill="#55659d" stroke="#3d4b7e" stroke-width="0.7"/>
<rect x="267.36" y="279.36" width="6.24" height="6.15" fill="#55659d" stroke="#3d4b7e" stroke-width="0.7"/>
<rect x="148.84" y="285.51" width="6.24" height="6.15" fill="#55659d" stroke="#3d4b7e" stroke-width="0.7"/>
<rect x="180.03" y="285.51" width="6.24" height="6.15" fill="#55659d" stroke="#3d4b7e" stroke-width="0.7"/>
<rect x="242.41" y="285.51" width="6.24" height="6.15" fill="#9da0c6" stroke="#7c82ad" stroke-width="0.7"/>
<rect x="161.31" y="291.66" width="6.24" height="6.15" fill="#55659d" stroke="#3d4b7e" stroke-width="0.7"/>
<rect x="198.74" y="291.66" width="6.24" height="6.15" fill="#55659d" stroke="#3d4b7e" stroke-width="0.7"/>
<rect x="298.55" y="291.66" width="6.24" height="6.15" fill="#55659d" stroke="#3d4b7e" stroke-width="0.7"/>
<rect x="142.6" y="69.7" width="37.43" height="43.72" fill="none" stroke="#dc8a15" stroke-width="1.9"/>
<rect x="223.69" y="69.7" width="18.71" height="43.72" fill="none" stroke="#dc8a15" stroke-width="1.9"/>
<rect x="180.03" y="113.42" width="18.71" height="6.15" fill="none" stroke="#62ad3c" stroke-width="1.6"/>
<rect x="242.41" y="113.42" width="18.71" height="6.15" fill="none" stroke="#62ad3c" stroke-width="1.6"/>
<rect x="198.74" y="119.57" width="12.48" height="49.17" fill="none" stroke="#2b4a87" stroke-width="1.4"/>
<rect x="261.12" y="119.57" width="12.48" height="49.17" fill="none" stroke="#2b4a87" stroke-width="1.4"/>
<text x="140.2" y="75.5" font-size="6.6" font-style="italic" fill="#222" text-anchor="end" stroke="#222" stroke-width="0.172">MYD88</text>
<text x="140.2" y="81.65" font-size="6.6" font-style="italic" fill="#222" text-anchor="end" stroke="#222" stroke-width="0.172">CD79B</text>
<text x="140.2" y="87.79" font-size="6.6" font-style="italic" fill="#222" text-anchor="end" stroke="#222" stroke-width="0.172">PIM1</text>
<text x="140.2" y="93.94" font-size="6.6" font-style="italic" fill="#222" text-anchor="end" stroke="#222" stroke-width="0.172">ETV6</text>
<text x="140.2" y="100.08" font-size="6.6" font-style="italic" fill="#222" text-anchor="end" stroke="#222" stroke-width="0.172">BTG1</text>
<text x="140.2" y="106.23" font-size="6.6" font-style="italic" fill="#222" text-anchor="end" stroke="#222" stroke-width="0.172">PRDM1</text>
<text x="140.2" y="112.38" font-size="6.6" font-style="italic" fill="#222" text-anchor="end" stroke="#222" stroke-width="0.172">TBL1XR1</text>
<text x="140.2" y="118.52" font-size="6.6" font-style="italic" fill="#222" text-anchor="end" stroke="#222" stroke-width="0.172">TP53</text>
<text x="140.2" y="124.67" font-size="6.6" font-style="italic" fill="#222" text-anchor="end" stroke="#222" stroke-width="0.172">BCL2</text>
<text x="140.2" y="130.81" font-size="6.6" font-style="italic" fill="#222" text-anchor="end" stroke="#222" stroke-width="0.172">KMT2D</text>
<text x="140.2" y="136.96" font-size="6.6" font-style="italic" fill="#222" text-anchor="end" stroke="#222" stroke-width="0.172">CREBBP</text>
<text x="140.2" y="143.11" font-size="6.6" font-style="italic" fill="#222" text-anchor="end" stroke="#222" stroke-width="0.172">EZH2</text>
<text x="140.2" y="149.25" font-size="6.6" font-style="italic" fill="#222" text-anchor="end" stroke="#222" stroke-width="0.172">TNFRSF14</text>
<text x="140.2" y="155.4" font-size="6.6" font-style="italic" fill="#222" text-anchor="end" stroke="#222" stroke-width="0.172">GNA13</text>
<text x="140.2" y="161.54" font-size="6.6" font-style="italic" fill="#222" text-anchor="end" stroke="#222" stroke-width="0.172">MEF2B</text>
<text x="140.2" y="167.69" font-size="6.6" font-style="italic" fill="#222" text-anchor="end" stroke="#222" stroke-width="0.172">PTEN</text>
<text x="140.2" y="173.84" font-size="6.6" font-style="italic" fill="#222" text-anchor="end" stroke="#222" stroke-width="0.172">CACNA1D</text>
<text x="140.2" y="179.98" font-size="6.6" font-style="italic" fill="#222" text-anchor="end" stroke="#222" stroke-width="0.172">EP300</text>
<text x="140.2" y="186.13" font-size="6.6" font-style="italic" fill="#222" text-anchor="end" stroke="#222" stroke-width="0.172">MYC</text>
<text x="140.2" y="192.27" font-size="6.6" font-style="italic" fill="#222" text-anchor="end" stroke="#222" stroke-width="0.172">RUNX1</text>
<text x="140.2" y="198.42" font-size="6.6" font-style="italic" fill="#222" text-anchor="end" stroke="#222" stroke-width="0.172">FOXO1</text>
<text x="140.2" y="204.57" font-size="6.6" font-style="italic" fill="#222" text-anchor="end" stroke="#222" stroke-width="0.172">SOCS1</text>
<text x="140.2" y="210.71" font-size="6.6" font-style="italic" fill="#222" text-anchor="end" stroke="#222" stroke-width="0.172">PRKDC</text>
<text x="140.2" y="216.86" font-size="6.6" font-style="italic" fill="#222" text-anchor="end" stroke="#222" stroke-width="0.172">TRIP11</text>
<text x="140.2" y="223" font-size="6.6" font-style="italic" fill="#222" text-anchor="end" stroke="#222" stroke-width="0.172">TET2</text>
<text x="140.2" y="229.15" font-size="6.6" font-style="italic" fill="#222" text-anchor="end" stroke="#222" stroke-width="0.172">TCL1A</text>
<text x="140.2" y="235.3" font-size="6.6" font-style="italic" fill="#222" text-anchor="end" stroke="#222" stroke-width="0.172">RNF213</text>
<text x="140.2" y="241.44" font-size="6.6" font-style="italic" fill="#222" text-anchor="end" stroke="#222" stroke-width="0.172">ERCC5</text>
<text x="140.2" y="247.59" font-size="6.6" font-style="italic" fill="#222" text-anchor="end" stroke="#222" stroke-width="0.172">ATM</text>
<text x="140.2" y="253.73" font-size="6.6" font-style="italic" fill="#222" text-anchor="end" stroke="#222" stroke-width="0.172">CARD11</text>
<text x="140.2" y="259.88" font-size="6.6" font-style="italic" fill="#222" text-anchor="end" stroke="#222" stroke-width="0.172">RANBP17</text>
<text x="140.2" y="266.03" font-size="6.6" font-style="italic" fill="#222" text-anchor="end" stroke="#222" stroke-width="0.172">NFKBIA</text>
<text x="140.2" y="272.17" font-size="6.6" font-style="italic" fill="#222" text-anchor="end" stroke="#222" stroke-width="0.172">MSH2</text>
<text x="140.2" y="278.32" font-size="6.6" font-style="italic" fill="#222" text-anchor="end" stroke="#222" stroke-width="0.172">LRP1B</text>
<text x="140.2" y="284.46" font-size="6.6" font-style="italic" fill="#222" text-anchor="end" stroke="#222" stroke-width="0.172">KLHL6</text>
<text x="140.2" y="290.61" font-size="6.6" font-style="italic" fill="#222" text-anchor="end" stroke="#222" stroke-width="0.172">FCRL4</text>
<text x="140.2" y="296.76" font-size="6.6" font-style="italic" fill="#222" text-anchor="end" stroke="#222" stroke-width="0.172">CCND3</text>
<rect x="306.6" y="70.4" width="18.2" height="227.4" fill="#e3ecd2"/>
<rect x="306.6" y="70.4" width="4.6" height="227.4" fill="#eef4dc"/>
<line x1="311.2" y1="70.4" x2="311.2" y2="297.8" stroke="#aebe9c" stroke-width="0.8"/>
<line x1="315.5" y1="70.4" x2="315.5" y2="297.8" stroke="#aebe9c" stroke-width="0.8"/>
<line x1="319.9" y1="70.4" x2="319.9" y2="297.8" stroke="#aebe9c" stroke-width="0.8"/>
<line x1="324.3" y1="70.4" x2="324.3" y2="297.8" stroke="#aebe9c" stroke-width="0.8"/>
<line x1="306.6" y1="70.4" x2="306.6" y2="299.3" stroke="#999" stroke-width="0.5"/>
<line x1="306.6" y1="297.8" x2="306.6" y2="299.4" stroke="#888" stroke-width="0.5"/>
<line x1="311.2" y1="297.8" x2="311.2" y2="299.4" stroke="#888" stroke-width="0.5"/>
<line x1="315.5" y1="297.8" x2="315.5" y2="299.4" stroke="#888" stroke-width="0.5"/>
<line x1="319.9" y1="297.8" x2="319.9" y2="299.4" stroke="#888" stroke-width="0.5"/>
<line x1="324.3" y1="297.8" x2="324.3" y2="299.4" stroke="#888" stroke-width="0.5"/>
<rect x="306.90000000000003" y="71.75" width="13.12" height="3.5" fill="#46578f"/>
<rect x="306.90000000000003" y="77.9" width="11.48" height="3.5" fill="#46578f"/>
<rect x="306.90000000000003" y="84.04" width="16.4" height="3.5" fill="#46578f"/>
<rect x="306.90000000000003" y="90.19" width="11.48" height="3.5" fill="#46578f"/>
<rect x="306.90000000000003" y="96.33" width="9.84" height="3.5" fill="#46578f"/>
<rect x="306.90000000000003" y="102.48" width="6.56" height="3.5" fill="#46578f"/>
<rect x="306.90000000000003" y="108.63" width="4.92" height="3.5" fill="#46578f"/>
<rect x="306.90000000000003" y="114.77" width="9.84" height="3.5" fill="#46578f"/>
<rect x="306.90000000000003" y="120.92" width="9.84" height="3.5" fill="#46578f"/>
<rect x="306.90000000000003" y="127.06" width="13.12" height="3.5" fill="#46578f"/>
<rect x="306.90000000000003" y="133.21" width="9.84" height="3.5" fill="#46578f"/>
<rect x="306.90000000000003" y="139.36" width="6.56" height="3.5" fill="#46578f"/>
<rect x="306.90000000000003" y="145.5" width="6.56" height="3.5" fill="#46578f"/>
<rect x="306.90000000000003" y="151.65" width="4.92" height="3.5" fill="#46578f"/>
<rect x="306.90000000000003" y="157.79" width="3.28" height="3.5" fill="#46578f"/>
<rect x="306.90000000000003" y="163.94" width="1.64" height="3.5" fill="#46578f"/>
<rect x="306.90000000000003" y="170.09" width="6.56" height="3.5" fill="#46578f"/>
<rect x="306.90000000000003" y="176.23" width="8.2" height="3.5" fill="#46578f"/>
<rect x="306.90000000000003" y="182.38" width="6.56" height="3.5" fill="#46578f"/>
<rect x="306.90000000000003" y="188.52" width="4.92" height="3.5" fill="#46578f"/>
<rect x="306.90000000000003" y="194.67" width="4.92" height="3.5" fill="#46578f"/>
<rect x="306.90000000000003" y="200.82" width="8.2" height="3.5" fill="#46578f"/>
<rect x="306.90000000000003" y="206.96" width="6.56" height="3.5" fill="#46578f"/>
<rect x="306.90000000000003" y="213.11" width="6.56" height="3.5" fill="#46578f"/>
<rect x="306.90000000000003" y="219.25" width="6.56" height="3.5" fill="#46578f"/>
<rect x="306.90000000000003" y="225.4" width="6.56" height="3.5" fill="#46578f"/>
<rect x="306.90000000000003" y="231.55" width="6.56" height="3.5" fill="#46578f"/>
<rect x="306.90000000000003" y="237.69" width="6.56" height="3.5" fill="#46578f"/>
<rect x="306.90000000000003" y="243.84" width="6.56" height="3.5" fill="#46578f"/>
<rect x="306.90000000000003" y="249.98" width="4.92" height="3.5" fill="#46578f"/>
<rect x="306.90000000000003" y="256.13" width="4.92" height="3.5" fill="#46578f"/>
<rect x="306.90000000000003" y="262.28" width="4.92" height="3.5" fill="#46578f"/>
<rect x="306.90000000000003" y="268.42" width="4.92" height="3.5" fill="#46578f"/>
<rect x="306.90000000000003" y="274.57" width="4.92" height="3.5" fill="#46578f"/>
<rect x="306.90000000000003" y="280.71" width="4.92" height="3.5" fill="#46578f"/>
<rect x="306.90000000000003" y="286.86" width="4.92" height="3.5" fill="#46578f"/>
<rect x="306.90000000000003" y="293.01" width="4.92" height="3.5" fill="#46578f"/>
<text x="315.8" y="304.6" font-size="5.8" fill="#222" text-anchor="middle" stroke="#222" stroke-width="0.151">20</text>
<text x="324.2" y="304.6" font-size="5.8" fill="#222" text-anchor="middle" stroke="#222" stroke-width="0.151">40</text>
<text x="301" y="68.6" font-size="6.8" fill="#222" stroke="#222" stroke-width="0.177">% mutated</text>
<rect x="315.5" y="9.7" width="6" height="5.6" fill="#a8052f"/>
<rect x="315.5" y="16.6" width="6" height="5.6" fill="#69ad47"/>
<text x="325" y="15" font-size="6.6" fill="#222" stroke="#222" stroke-width="0.172">CNS</text>
<text x="325" y="21.9" font-size="6.6" fill="#222" textLength="26" lengthAdjust="spacingAndGlyphs" stroke="#222" stroke-width="0.172">Systemic</text>
<line x1="307.5" y1="29.2" x2="367.3" y2="29.2" stroke="#444" stroke-width="0.6"/>
<line x1="307.5" y1="34.8" x2="367.3" y2="71.2" stroke="#444" stroke-width="0.6"/>
<line x1="367.3" y1="8.7" x2="367.3" y2="41.7" stroke="#333" stroke-width="0.7"/>
<line x1="367.3" y1="52" x2="367.3" y2="91.1" stroke="#333" stroke-width="0.7"/>
<text x="370" y="13" font-size="6.7" fill="#222" stroke="#222" stroke-width="0.174">hc subtype</text>
<text x="370" y="56.4" font-size="6.7" fill="#222" stroke="#222" stroke-width="0.174">LymphGen</text>
<rect x="370.2" y="16" width="6.1" height="5.7" fill="#dc8a15" stroke="#b0b0b0" stroke-width="0.4"/>
<text x="379.4" y="21.3" font-size="6.7" fill="#222" stroke="#222" stroke-width="0.174">hc-MCD</text>
<rect x="370.2" y="22.6" width="6.1" height="5.5" fill="#b7c991" stroke="#b0b0b0" stroke-width="0.4"/>
<text x="379.4" y="27.8" font-size="6.7" fill="#222" stroke="#222" stroke-width="0.174">hc-P53</text>
<rect x="370.2" y="29.4" width="6.1" height="5.4" fill="#2b4a87" stroke="#b0b0b0" stroke-width="0.4"/>
<text x="379.4" y="34" font-size="6.7" fill="#222" stroke="#222" stroke-width="0.174">hc-GCB</text>
<rect x="370.2" y="36.1" width="6.1" height="5.5" fill="#fff" stroke="#b0b0b0" stroke-width="0.4"/>
<text x="379.4" y="40.8" font-size="6.7" fill="#222" stroke="#222" stroke-width="0.174">unclassified</text>
<rect x="370.2" y="59.9" width="6.1" height="5.7" fill="#dc8a15" stroke="#b0b0b0" stroke-width="0.4"/>
<text x="379.4" y="64.7" font-size="6.7" fill="#222" stroke="#222" stroke-width="0.174">MCD</text>
<rect x="370.2" y="66.7" width="6.1" height="5.4" fill="#2b4a87" stroke="#b0b0b0" stroke-width="0.4"/>
<text x="379.4" y="71.3" font-size="6.7" fill="#222" stroke="#222" stroke-width="0.174">EZB</text>
<rect x="370.2" y="73.3" width="6.1" height="5.7" fill="#f1c21c" stroke="#b0b0b0" stroke-width="0.4"/>
<text x="379.4" y="77.8" font-size="6.7" fill="#222" stroke="#222" stroke-width="0.174">ST1</text>
<rect x="370.2" y="79.9" width="6.1" height="5.5" fill="#5fb0e8" stroke="#b0b0b0" stroke-width="0.4"/>
<text x="379.4" y="84.3" font-size="6.7" fill="#222" stroke="#222" stroke-width="0.174">BN2</text>
<rect x="370.2" y="86.4" width="6.1" height="5.6" fill="#b7c991" stroke="#b0b0b0" stroke-width="0.4"/>
<text x="379.4" y="90.7" font-size="6.7" fill="#222" stroke="#222" stroke-width="0.174">TP53<tspan font-size="4.2" dy="-2.6" font-style="normal">mut</tspan></text>
<rect x="370.2" y="93.3" width="6.1" height="5.4" fill="#fff" stroke="#b0b0b0" stroke-width="0.4"/>
<text x="379.4" y="97.3" font-size="6.7" fill="#222" stroke="#222" stroke-width="0.174">unclassified</text>
<rect x="19.6" y="70.9" width="85.5" height="45.7" fill="#dc8a15" stroke="#b86d0c" stroke-width="0.5"/>
<text x="21.8" y="78.3" font-size="6.9" font-weight="bold" fill="#111" stroke="#111" stroke-width="0.083">hc-MCD:</text>
<text x="26.3" y="86.2" font-size="6.9" fill="#111" stroke="#111" stroke-width="0.179">•</text><text x="32.2" y="86.2" font-size="6.9" fill="#111" stroke="#111" stroke-width="0.179"><tspan font-style="italic">MYD</tspan><tspan font-size="4" dy="-3">L265P</tspan></text>
<text x="26.3" y="93.5" font-size="6.9" fill="#111" stroke="#111" stroke-width="0.179">•</text><text x="32.2" y="93.5" font-size="6.9" fill="#111" stroke="#111" stroke-width="0.179">or &gt;3 of:</text>
<text x="32.6" y="100.6" font-size="6.9" font-style="italic" fill="#111" stroke="#111" stroke-width="0.179">CD79B</text>
<text x="70.8" y="100.6" font-size="6.9" font-style="italic" fill="#111" stroke="#111" stroke-width="0.179">PIM1</text>
<text x="32.6" y="107.8" font-size="6.9" font-style="italic" fill="#111" stroke="#111" stroke-width="0.179">ETV6</text>
<text x="70.8" y="107.8" font-size="6.9" font-style="italic" fill="#111" stroke="#111" stroke-width="0.179">BTG1</text>
<text x="32.6" y="115" font-size="6.9" font-style="italic" fill="#111" stroke="#111" stroke-width="0.179">TBL1XR1</text>
<text x="70.8" y="115" font-size="6.9" font-style="italic" fill="#111" stroke="#111" stroke-width="0.179">PRDM1</text>
<rect x="19.6" y="122.1" width="85.5" height="8.3" fill="#b7c991" stroke="#8fa06a" stroke-width="0.5"/>
<text x="22.6" y="128.8" font-size="6.9" font-weight="bold" fill="#111" stroke="#111" stroke-width="0.083">hc-P53:</text>
<text x="53.4" y="128.8" font-size="6.9" fill="#111" stroke="#111" stroke-width="0.179">any <tspan font-style="italic">TP53</tspan></text>
<rect x="19.6" y="135.5" width="85.5" height="46.2" fill="#2b4a87" stroke="#1b3166" stroke-width="0.5"/>
<text x="21.4" y="142.6" font-size="6.9" font-weight="bold" fill="#fff" stroke="#fff" stroke-width="0.083">hc-GCB:</text>
<text x="26.8" y="150" font-size="6.9" fill="#fff" stroke="#fff" stroke-width="0.179">•</text><text x="32.2" y="150" font-size="6.9" fill="#fff" stroke="#fff" stroke-width="0.179">&gt;1 of:</text>
<text x="31.8" y="157.8" font-size="6.4" font-style="italic" fill="#fff" stroke="#fff" stroke-width="0.166">BCL2</text>
<text x="65.8" y="157.8" font-size="6.4" font-style="italic" fill="#fff" stroke="#fff" stroke-width="0.166">TNFRSF14</text>
<text x="31.8" y="165.25" font-size="6.4" font-style="italic" fill="#fff" stroke="#fff" stroke-width="0.166">KMT2D</text>
<text x="65.8" y="165.25" font-size="6.4" font-style="italic" fill="#fff" stroke="#fff" stroke-width="0.166">GNA13</text>
<text x="31.8" y="172.7" font-size="6.4" font-style="italic" fill="#fff" stroke="#fff" stroke-width="0.166">CREBBP</text>
<text x="65.8" y="172.7" font-size="6.4" font-style="italic" fill="#fff" stroke="#fff" stroke-width="0.166">MEF2B</text>
<text x="31.8" y="180.15" font-size="6.4" font-style="italic" fill="#fff" stroke="#fff" stroke-width="0.166">EZH2</text>
<text x="65.8" y="180.15" font-size="6.4" font-style="italic" fill="#fff" stroke="#fff" stroke-width="0.166">PTEN</text>
<text x="38.3" y="227" font-size="7" fill="#222" stroke="#222" stroke-width="0.182">Mutation Type</text>
<rect x="38" y="230.5" width="7.1" height="7.1" fill="#55659d"/>
<text x="48.5" y="236.1" font-size="7" fill="#222" stroke="#222" stroke-width="0.182">Missense</text>
<rect x="38" y="238.75" width="7.1" height="7.1" fill="#2a4581"/>
<text x="48.5" y="244.35" font-size="7" fill="#222" stroke="#222" stroke-width="0.182">Nonsense</text>
<rect x="38" y="247" width="7.1" height="7.1" fill="#2e6345"/>
<text x="48.5" y="252.6" font-size="7" fill="#222" stroke="#222" stroke-width="0.182">Frameshift indel</text>
<rect x="38" y="255.25" width="7.1" height="7.1" fill="#b7d79b"/>
<text x="48.5" y="260.85" font-size="7" fill="#222" stroke="#222" stroke-width="0.182">Inframe indel</text>
<rect x="38" y="263.5" width="7.1" height="7.1" fill="#9da0c6"/>
<text x="48.5" y="269.1" font-size="7" fill="#222" stroke="#222" stroke-width="0.182">Splicing site</text>
<rect x="382.5" y="122.2" width="57.69" height="2.6" fill="#69ad47"/>
<rect x="382.5" y="124.8" width="86.54" height="2.6" fill="#a8052f"/>
<text x="379.6" y="127.4" font-size="6.9" font-style="italic" fill="#222" text-anchor="end" stroke="#222" stroke-width="0.179">PIM1</text>
<rect x="382.5" y="129.41" width="43.27" height="2.6" fill="#69ad47"/>
<rect x="382.5" y="132.01" width="72.12" height="2.6" fill="#a8052f"/>
<text x="379.6" y="134.61" font-size="6.9" font-style="italic" fill="#222" text-anchor="end" stroke="#222" stroke-width="0.179">MYD88</text>
<rect x="382.5" y="139.22" width="72.12" height="2.6" fill="#a8052f"/>
<text x="379.6" y="141.82" font-size="6.9" font-style="italic" fill="#222" text-anchor="end" stroke="#222" stroke-width="0.179">EP300</text>
<rect x="382.5" y="146.43" width="57.69" height="2.6" fill="#a8052f"/>
<text x="379.6" y="149.03" font-size="6.9" font-style="italic" fill="#222" text-anchor="end" stroke="#222" stroke-width="0.179">MYC</text>
<rect x="382.5" y="151.04" width="43.27" height="2.6" fill="#69ad47"/>
<rect x="382.5" y="153.64" width="57.69" height="2.6" fill="#a8052f"/>
<text x="379.6" y="156.24" font-size="6.9" font-style="italic" fill="#222" text-anchor="end" stroke="#222" stroke-width="0.179">CD79B</text>
<rect x="382.5" y="158.25" width="28.85" height="2.6" fill="#69ad47"/>
<rect x="382.5" y="160.85" width="57.69" height="2.6" fill="#a8052f"/>
<text x="379.6" y="163.45" font-size="6.9" font-style="italic" fill="#222" text-anchor="end" stroke="#222" stroke-width="0.179">BCL2</text>
<rect x="382.5" y="165.46" width="43.27" height="2.6" fill="#69ad47"/>
<rect x="382.5" y="168.06" width="43.27" height="2.6" fill="#a8052f"/>
<text x="379.6" y="170.66" font-size="6.9" font-style="italic" fill="#222" text-anchor="end" stroke="#222" stroke-width="0.179">TP53</text>
<rect x="382.5" y="175.27" width="43.27" height="2.6" fill="#a8052f"/>
<text x="379.6" y="177.87" font-size="6.9" font-style="italic" fill="#222" text-anchor="end" stroke="#222" stroke-width="0.179">RUNX1</text>
<rect x="382.5" y="179.88" width="72.12" height="2.6" fill="#69ad47"/>
<rect x="382.5" y="182.48" width="43.27" height="2.6" fill="#a8052f"/>
<text x="379.6" y="185.08" font-size="6.9" font-style="italic" fill="#222" text-anchor="end" stroke="#222" stroke-width="0.179">KMT2D</text>
<rect x="382.5" y="189.69" width="43.27" height="2.6" fill="#a8052f"/>
<text x="379.6" y="192.29" font-size="6.9" font-style="italic" fill="#222" text-anchor="end" stroke="#222" stroke-width="0.179">FOXO1</text>
<rect x="382.5" y="194.3" width="57.69" height="2.6" fill="#69ad47"/>
<rect x="382.5" y="196.9" width="43.27" height="2.6" fill="#a8052f"/>
<text x="379.6" y="199.5" font-size="6.9" font-style="italic" fill="#222" text-anchor="end" stroke="#222" stroke-width="0.179">ETV6</text>
<rect x="382.5" y="201.51" width="43.27" height="2.6" fill="#69ad47"/>
<rect x="382.5" y="204.11" width="43.27" height="2.6" fill="#a8052f"/>
<text x="379.6" y="206.71" font-size="6.9" font-style="italic" fill="#222" text-anchor="end" stroke="#222" stroke-width="0.179">BTG1</text>
<rect x="382.5" y="208.72" width="28.85" height="2.6" fill="#69ad47"/>
<rect x="382.5" y="211.32" width="28.85" height="2.6" fill="#a8052f"/>
<text x="379.6" y="213.92" font-size="6.9" font-style="italic" fill="#222" text-anchor="end" stroke="#222" stroke-width="0.179">TNFRSF14</text>
<rect x="382.5" y="215.93" width="28.85" height="2.6" fill="#69ad47"/>
<rect x="382.5" y="218.53" width="28.85" height="2.6" fill="#a8052f"/>
<text x="379.6" y="221.13" font-size="6.9" font-style="italic" fill="#222" text-anchor="end" stroke="#222" stroke-width="0.179">RNF213</text>
<rect x="382.5" y="223.14" width="28.85" height="2.6" fill="#69ad47"/>
<rect x="382.5" y="225.74" width="28.85" height="2.6" fill="#a8052f"/>
<text x="379.6" y="228.34" font-size="6.9" font-style="italic" fill="#222" text-anchor="end" stroke="#222" stroke-width="0.179">PRDM1</text>
<rect x="382.5" y="230.35" width="28.85" height="2.6" fill="#69ad47"/>
<rect x="382.5" y="232.95" width="28.85" height="2.6" fill="#a8052f"/>
<text x="379.6" y="235.55" font-size="6.9" font-style="italic" fill="#222" text-anchor="end" stroke="#222" stroke-width="0.179">EZH2</text>
<rect x="382.5" y="237.56" width="57.69" height="2.6" fill="#69ad47"/>
<rect x="382.5" y="240.16" width="28.85" height="2.6" fill="#a8052f"/>
<text x="379.6" y="242.76" font-size="6.9" font-style="italic" fill="#222" text-anchor="end" stroke="#222" stroke-width="0.179">CREBBP</text>
<rect x="382.5" y="244.77" width="28.85" height="2.6" fill="#69ad47"/>
<rect x="382.5" y="247.37" width="28.85" height="2.6" fill="#a8052f"/>
<text x="379.6" y="249.97" font-size="6.9" font-style="italic" fill="#222" text-anchor="end" stroke="#222" stroke-width="0.179">ATM</text>
<rect x="382.5" y="251.98" width="43.27" height="2.6" fill="#69ad47"/>
<rect x="382.5" y="254.58" width="14.42" height="2.6" fill="#a8052f"/>
<text x="379.6" y="257.18" font-size="6.9" font-style="italic" fill="#222" text-anchor="end" stroke="#222" stroke-width="0.179">TRIP11</text>
<rect x="382.5" y="259.19" width="43.27" height="2.6" fill="#69ad47"/>
<rect x="382.5" y="261.79" width="14.42" height="2.6" fill="#a8052f"/>
<text x="379.6" y="264.39" font-size="6.9" font-style="italic" fill="#222" text-anchor="end" stroke="#222" stroke-width="0.179">TET2</text>
<rect x="382.5" y="266.4" width="43.27" height="2.6" fill="#69ad47"/>
<rect x="382.5" y="269" width="14.42" height="2.6" fill="#a8052f"/>
<text x="379.6" y="271.6" font-size="6.9" font-style="italic" fill="#222" text-anchor="end" stroke="#222" stroke-width="0.179">TCL1A</text>
<rect x="382.5" y="273.61" width="57.69" height="2.6" fill="#69ad47"/>
<rect x="382.5" y="276.21" width="14.42" height="2.6" fill="#a8052f"/>
<text x="379.6" y="278.81" font-size="6.9" font-style="italic" fill="#222" text-anchor="end" stroke="#222" stroke-width="0.179">SOCS1</text>
<rect x="382.5" y="280.82" width="43.27" height="2.6" fill="#69ad47"/>
<rect x="382.5" y="283.42" width="14.42" height="2.6" fill="#a8052f"/>
<text x="379.6" y="286.02" font-size="6.9" font-style="italic" fill="#222" text-anchor="end" stroke="#222" stroke-width="0.179">PRKDC</text>
<rect x="382.5" y="288.03" width="43.27" height="2.6" fill="#69ad47"/>
<rect x="382.5" y="290.63" width="14.42" height="2.6" fill="#a8052f"/>
<text x="379.6" y="293.23" font-size="6.9" font-style="italic" fill="#222" text-anchor="end" stroke="#222" stroke-width="0.179">ERCC5</text>
<rect x="382.5" y="295.24" width="57.69" height="2.6" fill="#69ad47"/>
<text x="379.6" y="300.44" font-size="6.9" font-style="italic" fill="#222" text-anchor="end" stroke="#222" stroke-width="0.179">CACNA1D</text>
<line x1="382.5" y1="119.3" x2="382.5" y2="301" stroke="#111" stroke-width="0.8"/>
<line x1="382.5" y1="300.8" x2="478.3" y2="300.8" stroke="#111" stroke-width="0.8"/>
<line x1="382.5" y1="300.8" x2="382.5" y2="303.2" stroke="#111" stroke-width="0.7"/>
<text x="382.5" y="312.5" font-size="7.2" fill="#222" text-anchor="middle" stroke="#222" stroke-width="0.187">0</text>
<line x1="401.25" y1="300.8" x2="401.25" y2="303.2" stroke="#111" stroke-width="0.7"/>
<text x="401.25" y="312.5" font-size="7.2" fill="#222" text-anchor="middle" stroke="#222" stroke-width="0.187">10</text>
<line x1="420" y1="300.8" x2="420" y2="303.2" stroke="#111" stroke-width="0.7"/>
<text x="420" y="312.5" font-size="7.2" fill="#222" text-anchor="middle" stroke="#222" stroke-width="0.187">20</text>
<line x1="438.75" y1="300.8" x2="438.75" y2="303.2" stroke="#111" stroke-width="0.7"/>
<text x="438.75" y="312.5" font-size="7.2" fill="#222" text-anchor="middle" stroke="#222" stroke-width="0.187">30</text>
<line x1="457.5" y1="300.8" x2="457.5" y2="303.2" stroke="#111" stroke-width="0.7"/>
<text x="457.5" y="312.5" font-size="7.2" fill="#222" text-anchor="middle" stroke="#222" stroke-width="0.187">40</text>
<line x1="476.25" y1="300.8" x2="476.25" y2="303.2" stroke="#111" stroke-width="0.7"/>
<text x="476.25" y="312.5" font-size="7.2" fill="#222" text-anchor="middle" stroke="#222" stroke-width="0.187">50</text>
<line x1="391.88" y1="300.8" x2="391.88" y2="302.2" stroke="#111" stroke-width="0.6"/>
<line x1="410.62" y1="300.8" x2="410.62" y2="302.2" stroke="#111" stroke-width="0.6"/>
<line x1="429.38" y1="300.8" x2="429.38" y2="302.2" stroke="#111" stroke-width="0.6"/>
<line x1="448.12" y1="300.8" x2="448.12" y2="302.2" stroke="#111" stroke-width="0.6"/>
<line x1="466.88" y1="300.8" x2="466.88" y2="302.2" stroke="#111" stroke-width="0.6"/>
<text x="431" y="325.2" font-size="8.6" fill="#222" text-anchor="middle" textLength="58" lengthAdjust="spacingAndGlyphs" stroke="#222" stroke-width="0.224">Percent of patients</text>
<rect x="445.6" y="280.5" width="6.8" height="5.8" fill="#a8052f"/>
<rect x="445.6" y="288.8" width="6.8" height="5.8" fill="#69ad47"/>
<text x="456" y="285.9" font-size="6.8" fill="#222" stroke="#222" stroke-width="0.177">CNS</text>
<text x="456" y="294.3" font-size="6.8" fill="#222" textLength="26" lengthAdjust="spacingAndGlyphs" stroke="#222" stroke-width="0.177">Systemic</text>
<line x1="51.4" y1="357.3" x2="51.4" y2="444.4" stroke="#111" stroke-width="0.8"/>
<line x1="51.4" y1="444.4" x2="142.5" y2="444.4" stroke="#111" stroke-width="0.8"/>
<line x1="49.4" y1="440.2" x2="51.4" y2="440.2" stroke="#111" stroke-width="0.7"/>
<text x="47.4" y="442.8" font-size="7.3" fill="#222" text-anchor="end" stroke="#222" stroke-width="0.190">0.00</text>
<line x1="49.4" y1="419.98" x2="51.4" y2="419.98" stroke="#111" stroke-width="0.7"/>
<text x="47.4" y="422.58" font-size="7.3" fill="#222" text-anchor="end" stroke="#222" stroke-width="0.190">0.25</text>
<line x1="49.4" y1="399.75" x2="51.4" y2="399.75" stroke="#111" stroke-width="0.7"/>
<text x="47.4" y="402.35" font-size="7.3" fill="#222" text-anchor="end" stroke="#222" stroke-width="0.190">0.50</text>
<line x1="49.4" y1="379.52" x2="51.4" y2="379.52" stroke="#111" stroke-width="0.7"/>
<text x="47.4" y="382.12" font-size="7.3" fill="#222" text-anchor="end" stroke="#222" stroke-width="0.190">0.75</text>
<line x1="49.4" y1="359.3" x2="51.4" y2="359.3" stroke="#111" stroke-width="0.7"/>
<text x="47.4" y="361.9" font-size="7.3" fill="#222" text-anchor="end" stroke="#222" stroke-width="0.190">1.00</text>
<line x1="54.6" y1="444.4" x2="54.6" y2="446.4" stroke="#111" stroke-width="0.7"/>
<text x="54.6" y="455.6" font-size="7.3" fill="#222" text-anchor="middle" stroke="#222" stroke-width="0.190">0</text>
<line x1="71.05" y1="444.4" x2="71.05" y2="446.4" stroke="#111" stroke-width="0.7"/>
<text x="71.05" y="455.6" font-size="7.3" fill="#222" text-anchor="middle" stroke="#222" stroke-width="0.190">12</text>
<line x1="87.5" y1="444.4" x2="87.5" y2="446.4" stroke="#111" stroke-width="0.7"/>
<text x="87.5" y="455.6" font-size="7.3" fill="#222" text-anchor="middle" stroke="#222" stroke-width="0.190">24</text>
<line x1="103.96" y1="444.4" x2="103.96" y2="446.4" stroke="#111" stroke-width="0.7"/>
<text x="103.96" y="455.6" font-size="7.3" fill="#222" text-anchor="middle" stroke="#222" stroke-width="0.190">36</text>
<line x1="120.41" y1="444.4" x2="120.41" y2="446.4" stroke="#111" stroke-width="0.7"/>
<text x="120.41" y="455.6" font-size="7.3" fill="#222" text-anchor="middle" stroke="#222" stroke-width="0.190">48</text>
<line x1="136.86" y1="444.4" x2="136.86" y2="446.4" stroke="#111" stroke-width="0.7"/>
<text x="136.86" y="455.6" font-size="7.3" fill="#222" text-anchor="middle" stroke="#222" stroke-width="0.190">60</text>
<text transform="translate(27,400) rotate(-90)" font-size="8.6" fill="#222" text-anchor="middle" textLength="62" lengthAdjust="spacingAndGlyphs" stroke="#222" stroke-width="0.224">Time to progression</text>
<text x="116" y="364.8" font-size="5.6" fill="#222" stroke="#222" stroke-width="0.146">P=0.70</text>
<text x="90.9" y="376.4" font-size="5.8" fill="#222" stroke="#222" stroke-width="0.151">Median</text>
<text x="90.9" y="384.9" font-size="5.8" fill="#a8052f" stroke="#a8052f" stroke-width="0.151">CNS:</text>
<text x="118.3" y="384.9" font-size="5.8" fill="#a8052f" stroke="#a8052f" stroke-width="0.151">9 mo</text>
<text x="90.9" y="393.2" font-size="5.8" fill="#69ad47" stroke="#69ad47" stroke-width="0.151">Systemic: 11 mo</text>
<path d="M55.4,359.3H56V365.2H62.5V377.7H66.7V390.4H69.6V409.6H72V416H75.5V428H81.9V433.6H128.7V440.2" stroke="#69ad47" stroke-width="1.25" fill="none"/>
<path d="M55.4,359.3H58.8V365.2H61.6V377.7H62.2V384H64.9V390.4H65.9V397.5H67V403.2H67.7V421.6H69.1V428H138.7V434.3H140.7V440.2" stroke="#a8052f" stroke-width="1.25" fill="none"/>
<text x="104" y="422.8" font-size="5.8" fill="#a8052f" stroke="#a8052f" stroke-width="0.151">CNS</text>
<text x="77" y="440.8" font-size="5.8" fill="#69ad47" stroke="#69ad47" stroke-width="0.151">Systemic</text>
<text x="97.7" y="468.2" font-size="8.6" fill="#222" text-anchor="middle" textLength="71.6" lengthAdjust="spacingAndGlyphs" stroke="#222" stroke-width="0.224">Months from diagnosis</text>
<line x1="51.4" y1="513" x2="51.4" y2="599.6" stroke="#111" stroke-width="0.8"/>
<line x1="51.4" y1="599.6" x2="142.5" y2="599.6" stroke="#111" stroke-width="0.8"/>
<line x1="49.4" y1="596.6" x2="51.4" y2="596.6" stroke="#111" stroke-width="0.7"/>
<text x="47.4" y="599.2" font-size="7.3" fill="#222" text-anchor="end" stroke="#222" stroke-width="0.190">0.00</text>
<line x1="49.4" y1="576.2" x2="51.4" y2="576.2" stroke="#111" stroke-width="0.7"/>
<text x="47.4" y="578.8" font-size="7.3" fill="#222" text-anchor="end" stroke="#222" stroke-width="0.190">0.25</text>
<line x1="49.4" y1="555.8" x2="51.4" y2="555.8" stroke="#111" stroke-width="0.7"/>
<text x="47.4" y="558.4" font-size="7.3" fill="#222" text-anchor="end" stroke="#222" stroke-width="0.190">0.50</text>
<line x1="49.4" y1="535.4" x2="51.4" y2="535.4" stroke="#111" stroke-width="0.7"/>
<text x="47.4" y="538" font-size="7.3" fill="#222" text-anchor="end" stroke="#222" stroke-width="0.190">0.75</text>
<line x1="49.4" y1="515" x2="51.4" y2="515" stroke="#111" stroke-width="0.7"/>
<text x="47.4" y="517.6" font-size="7.3" fill="#222" text-anchor="end" stroke="#222" stroke-width="0.190">1.00</text>
<line x1="54.7" y1="599.6" x2="54.7" y2="601.6" stroke="#111" stroke-width="0.7"/>
<text x="54.7" y="611.4" font-size="7.3" fill="#222" text-anchor="middle" stroke="#222" stroke-width="0.190">0</text>
<line x1="71.84" y1="599.6" x2="71.84" y2="601.6" stroke="#111" stroke-width="0.7"/>
<text x="71.84" y="611.4" font-size="7.3" fill="#222" text-anchor="middle" stroke="#222" stroke-width="0.190">12</text>
<line x1="88.97" y1="599.6" x2="88.97" y2="601.6" stroke="#111" stroke-width="0.7"/>
<text x="88.97" y="611.4" font-size="7.3" fill="#222" text-anchor="middle" stroke="#222" stroke-width="0.190">24</text>
<line x1="106.11" y1="599.6" x2="106.11" y2="601.6" stroke="#111" stroke-width="0.7"/>
<text x="106.11" y="611.4" font-size="7.3" fill="#222" text-anchor="middle" stroke="#222" stroke-width="0.190">36</text>
<line x1="123.24" y1="599.6" x2="123.24" y2="601.6" stroke="#111" stroke-width="0.7"/>
<text x="123.24" y="611.4" font-size="7.3" fill="#222" text-anchor="middle" stroke="#222" stroke-width="0.190">48</text>
<line x1="140.38" y1="599.6" x2="140.38" y2="601.6" stroke="#111" stroke-width="0.7"/>
<text x="140.38" y="611.4" font-size="7.3" fill="#222" text-anchor="middle" stroke="#222" stroke-width="0.190">60</text>
<text transform="translate(27,555.8) rotate(-90)" font-size="8.6" fill="#222" text-anchor="middle" textLength="47.5" lengthAdjust="spacingAndGlyphs" stroke="#222" stroke-width="0.224">Overall survival</text>
<text x="116" y="520.8" font-size="5.6" fill="#222" stroke="#222" stroke-width="0.146">P=0.21</text>
<text x="88.3" y="531.2" font-size="5.8" fill="#222" stroke="#222" stroke-width="0.151">Median</text>
<text x="88.3" y="539.7" font-size="5.8" fill="#a8052f" stroke="#a8052f" stroke-width="0.151">CNS:</text>
<text x="115" y="539.7" font-size="5.8" fill="#a8052f" stroke="#a8052f" stroke-width="0.151">6 mo</text>
<text x="88.3" y="548" font-size="5.8" fill="#69ad47" stroke="#69ad47" stroke-width="0.151">Systemic: 17 mo</text>
<path d="M54.9,514.7V521.4H57.9V527.4H63.3V540H66.6V547.1H68.9V554.4H78.8V562.3H80.7V571.3H122" stroke="#69ad47" stroke-width="1.25" fill="none"/>
<path d="M54.9,514.7V521.4H55.9V533.7H58.3V546.5H59.9V553H63V559H68.2V565.6H70.1V571.3H74V577.7H105.3V587.3H111.1V596.3" stroke="#a8052f" stroke-width="1.25" fill="none"/>
<text x="86.6" y="586.7" font-size="5.8" fill="#a8052f" stroke="#a8052f" stroke-width="0.151">CNS</text>
<text x="95.5" y="565.5" font-size="5.8" fill="#69ad47" stroke="#69ad47" stroke-width="0.151">Systemic</text>
<text x="97.7" y="624.2" font-size="8.6" fill="#222" text-anchor="middle" textLength="64.6" lengthAdjust="spacingAndGlyphs" stroke="#222" stroke-width="0.224">Months from relapse</text>
<line x1="198.4" y1="353.7" x2="198.4" y2="444" stroke="#111" stroke-width="1"/>
<line x1="198.4" y1="444" x2="239.4" y2="444" stroke="#111" stroke-width="1"/>
<line x1="195.2" y1="440.7" x2="198.4" y2="440.7" stroke="#111" stroke-width="0.9"/>
<text x="192.1" y="442.9" font-size="6.3" fill="#222" text-anchor="end" stroke="#222" stroke-width="0.164">0</text>
<line x1="195.2" y1="432.3" x2="198.4" y2="432.3" stroke="#111" stroke-width="0.9"/>
<line x1="195.2" y1="423.9" x2="198.4" y2="423.9" stroke="#111" stroke-width="0.9"/>
<text x="192.1" y="426.1" font-size="6.3" fill="#222" text-anchor="end" stroke="#222" stroke-width="0.164">20</text>
<line x1="195.2" y1="415.5" x2="198.4" y2="415.5" stroke="#111" stroke-width="0.9"/>
<line x1="195.2" y1="407.1" x2="198.4" y2="407.1" stroke="#111" stroke-width="0.9"/>
<text x="192.1" y="409.3" font-size="6.3" fill="#222" text-anchor="end" stroke="#222" stroke-width="0.164">40</text>
<line x1="195.2" y1="398.7" x2="198.4" y2="398.7" stroke="#111" stroke-width="0.9"/>
<line x1="195.2" y1="390.3" x2="198.4" y2="390.3" stroke="#111" stroke-width="0.9"/>
<text x="192.1" y="392.5" font-size="6.3" fill="#222" text-anchor="end" stroke="#222" stroke-width="0.164">60</text>
<line x1="195.2" y1="381.9" x2="198.4" y2="381.9" stroke="#111" stroke-width="0.9"/>
<line x1="195.2" y1="373.5" x2="198.4" y2="373.5" stroke="#111" stroke-width="0.9"/>
<text x="192.1" y="375.7" font-size="6.3" fill="#222" text-anchor="end" stroke="#222" stroke-width="0.164">80</text>
<line x1="195.2" y1="365.1" x2="198.4" y2="365.1" stroke="#111" stroke-width="0.9"/>
<line x1="195.2" y1="356.7" x2="198.4" y2="356.7" stroke="#111" stroke-width="0.9"/>
<text x="192.1" y="358.9" font-size="6.3" fill="#222" text-anchor="end" stroke="#222" stroke-width="0.164">100</text>
<rect x="201.9" y="408.78" width="8.8" height="31.92" fill="#a8052f"/>
<text x="206.3" y="405.68" font-size="5.605" fill="#222" text-anchor="middle" stroke="#222" stroke-width="0.146">38</text>
<line x1="206.3" y1="444" x2="206.3" y2="446.2" stroke="#111" stroke-width="0.7"/>
<text x="206.3" y="456.3" font-size="7.1" fill="#222" text-anchor="middle" textLength="13" lengthAdjust="spacingAndGlyphs" stroke="#222" stroke-width="0.185">CNS</text>
<rect x="214.8" y="421.38" width="8.8" height="19.32" fill="#69ad47"/>
<text x="219.2" y="418.28" font-size="5.605" fill="#222" text-anchor="middle" stroke="#222" stroke-width="0.146">23</text>
<line x1="219.2" y1="444" x2="219.2" y2="446.2" stroke="#111" stroke-width="0.7"/>
<text x="219.2" y="456.3" font-size="7.1" fill="#222" text-anchor="middle" textLength="9.6" lengthAdjust="spacingAndGlyphs" stroke="#222" stroke-width="0.185">Sys</text>
<rect x="227.8" y="433.98" width="8.8" height="6.72" fill="#4d2266"/>
<text x="232.2" y="430.88" font-size="5.605" fill="#222" text-anchor="middle" stroke="#222" stroke-width="0.146">8</text>
<line x1="232.2" y1="444" x2="232.2" y2="446.2" stroke="#111" stroke-width="0.7"/>
<text x="232.2" y="456.3" font-size="7.1" fill="#222" text-anchor="middle" textLength="11.1" lengthAdjust="spacingAndGlyphs" stroke="#222" stroke-width="0.185">Uns</text>
<path d="M206.3,382.2V380.6H232.2V382.2" stroke="#333" stroke-width="0.8" fill="none"/>
<text x="219.25" y="378.3" font-size="5.4" fill="#333" text-anchor="middle" stroke="#333" stroke-width="0.140"><tspan font-style="italic">P</tspan>=.003</text>
<path d="M219.2,394.1V392.5H232.2V394.1" stroke="#8a8a8a" stroke-width="0.6" fill="none"/>
<text x="225.7" y="389.4" font-size="5.4" fill="#8a8a8a" text-anchor="middle" stroke="#8a8a8a" stroke-width="0.140"><tspan font-style="italic">P</tspan>=.088</text>
<text x="219.25" y="348.2" font-size="9" fill="#111" text-anchor="middle" stroke="#111" stroke-width="0.234">MCD</text>
<line x1="266.5" y1="353.7" x2="266.5" y2="444" stroke="#111" stroke-width="1"/>
<line x1="266.5" y1="444" x2="307.5" y2="444" stroke="#111" stroke-width="1"/>
<line x1="263.3" y1="440.7" x2="266.5" y2="440.7" stroke="#111" stroke-width="0.9"/>
<text x="260.2" y="442.9" font-size="6.3" fill="#222" text-anchor="end" stroke="#222" stroke-width="0.164">0</text>
<line x1="263.3" y1="432.3" x2="266.5" y2="432.3" stroke="#111" stroke-width="0.9"/>
<line x1="263.3" y1="423.9" x2="266.5" y2="423.9" stroke="#111" stroke-width="0.9"/>
<text x="260.2" y="426.1" font-size="6.3" fill="#222" text-anchor="end" stroke="#222" stroke-width="0.164">20</text>
<line x1="263.3" y1="415.5" x2="266.5" y2="415.5" stroke="#111" stroke-width="0.9"/>
<line x1="263.3" y1="407.1" x2="266.5" y2="407.1" stroke="#111" stroke-width="0.9"/>
<text x="260.2" y="409.3" font-size="6.3" fill="#222" text-anchor="end" stroke="#222" stroke-width="0.164">40</text>
<line x1="263.3" y1="398.7" x2="266.5" y2="398.7" stroke="#111" stroke-width="0.9"/>
<line x1="263.3" y1="390.3" x2="266.5" y2="390.3" stroke="#111" stroke-width="0.9"/>
<text x="260.2" y="392.5" font-size="6.3" fill="#222" text-anchor="end" stroke="#222" stroke-width="0.164">60</text>
<line x1="263.3" y1="381.9" x2="266.5" y2="381.9" stroke="#111" stroke-width="0.9"/>
<line x1="263.3" y1="373.5" x2="266.5" y2="373.5" stroke="#111" stroke-width="0.9"/>
<text x="260.2" y="375.7" font-size="6.3" fill="#222" text-anchor="end" stroke="#222" stroke-width="0.164">80</text>
<line x1="263.3" y1="365.1" x2="266.5" y2="365.1" stroke="#111" stroke-width="0.9"/>
<line x1="263.3" y1="356.7" x2="266.5" y2="356.7" stroke="#111" stroke-width="0.9"/>
<text x="260.2" y="358.9" font-size="6.3" fill="#222" text-anchor="end" stroke="#222" stroke-width="0.164">100</text>
<text x="274.4" y="437.6" font-size="5.605" fill="#222" text-anchor="middle" stroke="#222" stroke-width="0.146">0</text>
<line x1="274.4" y1="444" x2="274.4" y2="446.2" stroke="#111" stroke-width="0.7"/>
<text x="274.4" y="456.3" font-size="7.1" fill="#222" text-anchor="middle" textLength="13" lengthAdjust="spacingAndGlyphs" stroke="#222" stroke-width="0.185">CNS</text>
<rect x="282.9" y="421.38" width="8.8" height="19.32" fill="#69ad47"/>
<text x="287.3" y="418.28" font-size="5.605" fill="#222" text-anchor="middle" stroke="#222" stroke-width="0.146">23</text>
<line x1="287.3" y1="444" x2="287.3" y2="446.2" stroke="#111" stroke-width="0.7"/>
<text x="287.3" y="456.3" font-size="7.1" fill="#222" text-anchor="middle" textLength="9.6" lengthAdjust="spacingAndGlyphs" stroke="#222" stroke-width="0.185">Sys</text>
<rect x="295.9" y="433.98" width="8.8" height="6.72" fill="#4d2266"/>
<text x="300.3" y="430.88" font-size="5.605" fill="#222" text-anchor="middle" stroke="#222" stroke-width="0.146">8</text>
<line x1="300.3" y1="444" x2="300.3" y2="446.2" stroke="#111" stroke-width="0.7"/>
<text x="300.3" y="456.3" font-size="7.1" fill="#222" text-anchor="middle" textLength="11.1" lengthAdjust="spacingAndGlyphs" stroke="#222" stroke-width="0.185">Uns</text>
<path d="M274.4,382.2V380.6H300.3V382.2" stroke="#8a8a8a" stroke-width="0.6" fill="none"/>
<text x="287.35" y="378.3" font-size="5.4" fill="#8a8a8a" text-anchor="middle" stroke="#8a8a8a" stroke-width="0.140"><tspan font-style="italic">P</tspan>=.61</text>
<path d="M287.3,394.1V392.5H300.3V394.1" stroke="#8a8a8a" stroke-width="0.6" fill="none"/>
<text x="293.8" y="389.4" font-size="5.4" fill="#8a8a8a" text-anchor="middle" stroke="#8a8a8a" stroke-width="0.140"><tspan font-style="italic">P</tspan>=.077</text>
<text x="287.35" y="348.2" font-size="9" fill="#111" text-anchor="middle" stroke="#111" stroke-width="0.234">ST2</text>
<line x1="334.6" y1="353.7" x2="334.6" y2="444" stroke="#111" stroke-width="1"/>
<line x1="334.6" y1="444" x2="375.6" y2="444" stroke="#111" stroke-width="1"/>
<line x1="331.4" y1="440.7" x2="334.6" y2="440.7" stroke="#111" stroke-width="0.9"/>
<text x="328.3" y="442.9" font-size="6.3" fill="#222" text-anchor="end" stroke="#222" stroke-width="0.164">0</text>
<line x1="331.4" y1="432.3" x2="334.6" y2="432.3" stroke="#111" stroke-width="0.9"/>
<line x1="331.4" y1="423.9" x2="334.6" y2="423.9" stroke="#111" stroke-width="0.9"/>
<text x="328.3" y="426.1" font-size="6.3" fill="#222" text-anchor="end" stroke="#222" stroke-width="0.164">20</text>
<line x1="331.4" y1="415.5" x2="334.6" y2="415.5" stroke="#111" stroke-width="0.9"/>
<line x1="331.4" y1="407.1" x2="334.6" y2="407.1" stroke="#111" stroke-width="0.9"/>
<text x="328.3" y="409.3" font-size="6.3" fill="#222" text-anchor="end" stroke="#222" stroke-width="0.164">40</text>
<line x1="331.4" y1="398.7" x2="334.6" y2="398.7" stroke="#111" stroke-width="0.9"/>
<line x1="331.4" y1="390.3" x2="334.6" y2="390.3" stroke="#111" stroke-width="0.9"/>
<text x="328.3" y="392.5" font-size="6.3" fill="#222" text-anchor="end" stroke="#222" stroke-width="0.164">60</text>
<line x1="331.4" y1="381.9" x2="334.6" y2="381.9" stroke="#111" stroke-width="0.9"/>
<line x1="331.4" y1="373.5" x2="334.6" y2="373.5" stroke="#111" stroke-width="0.9"/>
<text x="328.3" y="375.7" font-size="6.3" fill="#222" text-anchor="end" stroke="#222" stroke-width="0.164">80</text>
<line x1="331.4" y1="365.1" x2="334.6" y2="365.1" stroke="#111" stroke-width="0.9"/>
<line x1="331.4" y1="356.7" x2="334.6" y2="356.7" stroke="#111" stroke-width="0.9"/>
<text x="328.3" y="358.9" font-size="6.3" fill="#222" text-anchor="end" stroke="#222" stroke-width="0.164">100</text>
<rect x="338.1" y="414.66" width="8.8" height="26.04" fill="#a8052f"/>
<text x="342.5" y="411.56" font-size="5.605" fill="#222" text-anchor="middle" stroke="#222" stroke-width="0.146">31</text>
<line x1="342.5" y1="444" x2="342.5" y2="446.2" stroke="#111" stroke-width="0.7"/>
<text x="342.5" y="456.3" font-size="7.1" fill="#222" text-anchor="middle" textLength="13" lengthAdjust="spacingAndGlyphs" stroke="#222" stroke-width="0.185">CNS</text>
<rect x="351" y="428.1" width="8.8" height="12.6" fill="#69ad47"/>
<text x="355.4" y="425" font-size="5.605" fill="#222" text-anchor="middle" stroke="#222" stroke-width="0.146">15</text>
<line x1="355.4" y1="444" x2="355.4" y2="446.2" stroke="#111" stroke-width="0.7"/>
<text x="355.4" y="456.3" font-size="7.1" fill="#222" text-anchor="middle" textLength="9.6" lengthAdjust="spacingAndGlyphs" stroke="#222" stroke-width="0.185">Sys</text>
<rect x="364" y="422.22" width="8.8" height="18.48" fill="#4d2266"/>
<text x="368.4" y="419.12" font-size="5.605" fill="#222" text-anchor="middle" stroke="#222" stroke-width="0.146">22</text>
<line x1="368.4" y1="444" x2="368.4" y2="446.2" stroke="#111" stroke-width="0.7"/>
<text x="368.4" y="456.3" font-size="7.1" fill="#222" text-anchor="middle" textLength="11.1" lengthAdjust="spacingAndGlyphs" stroke="#222" stroke-width="0.185">Uns</text>
<path d="M342.5,382.2V380.6H368.4V382.2" stroke="#8a8a8a" stroke-width="0.6" fill="none"/>
<text x="355.45" y="378.3" font-size="5.4" fill="#8a8a8a" text-anchor="middle" stroke="#8a8a8a" stroke-width="0.140"><tspan font-style="italic">P</tspan>=.5</text>
<path d="M355.4,394.1V392.5H368.4V394.1" stroke="#8a8a8a" stroke-width="0.6" fill="none"/>
<text x="361.9" y="389.4" font-size="5.4" fill="#8a8a8a" text-anchor="middle" stroke="#8a8a8a" stroke-width="0.140"><tspan font-style="italic">P</tspan>=.74</text>
<text x="355.45" y="348.2" font-size="9" fill="#111" text-anchor="middle" stroke="#111" stroke-width="0.234">EZB</text>
<line x1="402.7" y1="353.7" x2="402.7" y2="444" stroke="#111" stroke-width="1"/>
<line x1="402.7" y1="444" x2="443.7" y2="444" stroke="#111" stroke-width="1"/>
<line x1="399.5" y1="440.7" x2="402.7" y2="440.7" stroke="#111" stroke-width="0.9"/>
<text x="396.4" y="442.9" font-size="6.3" fill="#222" text-anchor="end" stroke="#222" stroke-width="0.164">0</text>
<line x1="399.5" y1="432.3" x2="402.7" y2="432.3" stroke="#111" stroke-width="0.9"/>
<line x1="399.5" y1="423.9" x2="402.7" y2="423.9" stroke="#111" stroke-width="0.9"/>
<text x="396.4" y="426.1" font-size="6.3" fill="#222" text-anchor="end" stroke="#222" stroke-width="0.164">20</text>
<line x1="399.5" y1="415.5" x2="402.7" y2="415.5" stroke="#111" stroke-width="0.9"/>
<line x1="399.5" y1="407.1" x2="402.7" y2="407.1" stroke="#111" stroke-width="0.9"/>
<text x="396.4" y="409.3" font-size="6.3" fill="#222" text-anchor="end" stroke="#222" stroke-width="0.164">40</text>
<line x1="399.5" y1="398.7" x2="402.7" y2="398.7" stroke="#111" stroke-width="0.9"/>
<line x1="399.5" y1="390.3" x2="402.7" y2="390.3" stroke="#111" stroke-width="0.9"/>
<text x="396.4" y="392.5" font-size="6.3" fill="#222" text-anchor="end" stroke="#222" stroke-width="0.164">60</text>
<line x1="399.5" y1="381.9" x2="402.7" y2="381.9" stroke="#111" stroke-width="0.9"/>
<line x1="399.5" y1="373.5" x2="402.7" y2="373.5" stroke="#111" stroke-width="0.9"/>
<text x="396.4" y="375.7" font-size="6.3" fill="#222" text-anchor="end" stroke="#222" stroke-width="0.164">80</text>
<line x1="399.5" y1="365.1" x2="402.7" y2="365.1" stroke="#111" stroke-width="0.9"/>
<line x1="399.5" y1="356.7" x2="402.7" y2="356.7" stroke="#111" stroke-width="0.9"/>
<text x="396.4" y="358.9" font-size="6.3" fill="#222" text-anchor="end" stroke="#222" stroke-width="0.164">100</text>
<text x="410.6" y="437.6" font-size="5.605" fill="#222" text-anchor="middle" stroke="#222" stroke-width="0.146">0</text>
<line x1="410.6" y1="444" x2="410.6" y2="446.2" stroke="#111" stroke-width="0.7"/>
<text x="410.6" y="456.3" font-size="7.1" fill="#222" text-anchor="middle" textLength="13" lengthAdjust="spacingAndGlyphs" stroke="#222" stroke-width="0.185">CNS</text>
<rect x="419.1" y="433.98" width="8.8" height="6.72" fill="#69ad47"/>
<text x="423.5" y="430.88" font-size="5.605" fill="#222" text-anchor="middle" stroke="#222" stroke-width="0.146">8</text>
<line x1="423.5" y1="444" x2="423.5" y2="446.2" stroke="#111" stroke-width="0.7"/>
<text x="423.5" y="456.3" font-size="7.1" fill="#222" text-anchor="middle" textLength="9.6" lengthAdjust="spacingAndGlyphs" stroke="#222" stroke-width="0.185">Sys</text>
<rect x="432.1" y="433.98" width="8.8" height="6.72" fill="#4d2266"/>
<text x="436.5" y="430.88" font-size="5.605" fill="#222" text-anchor="middle" stroke="#222" stroke-width="0.146">8</text>
<line x1="436.5" y1="444" x2="436.5" y2="446.2" stroke="#111" stroke-width="0.7"/>
<text x="436.5" y="456.3" font-size="7.1" fill="#222" text-anchor="middle" textLength="11.1" lengthAdjust="spacingAndGlyphs" stroke="#222" stroke-width="0.185">Uns</text>
<path d="M410.6,382.2V380.6H436.5V382.2" stroke="#8a8a8a" stroke-width="0.6" fill="none"/>
<text x="423.55" y="378.3" font-size="5.4" fill="#8a8a8a" text-anchor="middle" stroke="#8a8a8a" stroke-width="0.140"><tspan font-style="italic">P</tspan>=.61</text>
<path d="M423.5,394.1V392.5H436.5V394.1" stroke="#8a8a8a" stroke-width="0.6" fill="none"/>
<text x="430" y="389.4" font-size="5.4" fill="#8a8a8a" text-anchor="middle" stroke="#8a8a8a" stroke-width="0.140"><tspan font-style="italic">P</tspan>=.99</text>
<text x="423.55" y="348.2" font-size="9" fill="#111" text-anchor="middle" stroke="#111" stroke-width="0.234">BN2</text>
<line x1="470.8" y1="353.7" x2="470.8" y2="444" stroke="#111" stroke-width="1"/>
<line x1="470.8" y1="444" x2="511.8" y2="444" stroke="#111" stroke-width="1"/>
<line x1="467.6" y1="440.7" x2="470.8" y2="440.7" stroke="#111" stroke-width="0.9"/>
<text x="464.5" y="442.9" font-size="6.3" fill="#222" text-anchor="end" stroke="#222" stroke-width="0.164">0</text>
<line x1="467.6" y1="432.3" x2="470.8" y2="432.3" stroke="#111" stroke-width="0.9"/>
<line x1="467.6" y1="423.9" x2="470.8" y2="423.9" stroke="#111" stroke-width="0.9"/>
<text x="464.5" y="426.1" font-size="6.3" fill="#222" text-anchor="end" stroke="#222" stroke-width="0.164">20</text>
<line x1="467.6" y1="415.5" x2="470.8" y2="415.5" stroke="#111" stroke-width="0.9"/>
<line x1="467.6" y1="407.1" x2="470.8" y2="407.1" stroke="#111" stroke-width="0.9"/>
<text x="464.5" y="409.3" font-size="6.3" fill="#222" text-anchor="end" stroke="#222" stroke-width="0.164">40</text>
<line x1="467.6" y1="398.7" x2="470.8" y2="398.7" stroke="#111" stroke-width="0.9"/>
<line x1="467.6" y1="390.3" x2="470.8" y2="390.3" stroke="#111" stroke-width="0.9"/>
<text x="464.5" y="392.5" font-size="6.3" fill="#222" text-anchor="end" stroke="#222" stroke-width="0.164">60</text>
<line x1="467.6" y1="381.9" x2="470.8" y2="381.9" stroke="#111" stroke-width="0.9"/>
<line x1="467.6" y1="373.5" x2="470.8" y2="373.5" stroke="#111" stroke-width="0.9"/>
<text x="464.5" y="375.7" font-size="6.3" fill="#222" text-anchor="end" stroke="#222" stroke-width="0.164">80</text>
<line x1="467.6" y1="365.1" x2="470.8" y2="365.1" stroke="#111" stroke-width="0.9"/>
<line x1="467.6" y1="356.7" x2="470.8" y2="356.7" stroke="#111" stroke-width="0.9"/>
<text x="464.5" y="358.9" font-size="6.3" fill="#222" text-anchor="end" stroke="#222" stroke-width="0.164">100</text>
<rect x="474.3" y="433.98" width="8.8" height="6.72" fill="#a8052f"/>
<text x="478.7" y="430.88" font-size="5.605" fill="#222" text-anchor="middle" stroke="#222" stroke-width="0.146">8</text>
<line x1="478.7" y1="444" x2="478.7" y2="446.2" stroke="#111" stroke-width="0.7"/>
<text x="478.7" y="456.3" font-size="7.1" fill="#222" text-anchor="middle" textLength="13" lengthAdjust="spacingAndGlyphs" stroke="#222" stroke-width="0.185">CNS</text>
<rect x="487.2" y="428.1" width="8.8" height="12.6" fill="#69ad47"/>
<text x="491.6" y="425" font-size="5.605" fill="#222" text-anchor="middle" stroke="#222" stroke-width="0.146">15</text>
<line x1="491.6" y1="444" x2="491.6" y2="446.2" stroke="#111" stroke-width="0.7"/>
<text x="491.6" y="456.3" font-size="7.1" fill="#222" text-anchor="middle" textLength="9.6" lengthAdjust="spacingAndGlyphs" stroke="#222" stroke-width="0.185">Sys</text>
<rect x="500.2" y="427.26" width="8.8" height="13.44" fill="#4d2266"/>
<text x="504.6" y="424.16" font-size="5.605" fill="#222" text-anchor="middle" stroke="#222" stroke-width="0.146">16</text>
<line x1="504.6" y1="444" x2="504.6" y2="446.2" stroke="#111" stroke-width="0.7"/>
<text x="504.6" y="456.3" font-size="7.1" fill="#222" text-anchor="middle" textLength="11.1" lengthAdjust="spacingAndGlyphs" stroke="#222" stroke-width="0.185">Uns</text>
<path d="M478.7,382.2V380.6H504.6V382.2" stroke="#8a8a8a" stroke-width="0.6" fill="none"/>
<text x="491.65" y="378.3" font-size="5.4" fill="#8a8a8a" text-anchor="middle" stroke="#8a8a8a" stroke-width="0.140"><tspan font-style="italic">P</tspan>=.7</text>
<path d="M491.6,394.1V392.5H504.6V394.1" stroke="#8a8a8a" stroke-width="0.6" fill="none"/>
<text x="498.1" y="389.4" font-size="5.4" fill="#8a8a8a" text-anchor="middle" stroke="#8a8a8a" stroke-width="0.140"><tspan font-style="italic">P</tspan>=.99</text>
<text x="491.65" y="348.2" font-size="9" fill="#111" text-anchor="middle" stroke="#111" stroke-width="0.234"><tspan font-style="italic">TP53</tspan><tspan font-size="5.8" dy="-3.4">mut</tspan></text>
<text transform="translate(175.4,399) rotate(-90)" font-size="8.4" fill="#222" text-anchor="middle" textLength="58" lengthAdjust="spacingAndGlyphs" stroke="#222" stroke-width="0.218">Percent of patients</text>
<line x1="198.35" y1="516.3" x2="198.35" y2="599.8" stroke="#111" stroke-width="1"/>
<line x1="198.35" y1="599.8" x2="276.35" y2="599.8" stroke="#111" stroke-width="1"/>
<line x1="195.15" y1="596" x2="198.35" y2="596" stroke="#111" stroke-width="0.9"/>
<text x="192.05" y="598.2" font-size="6.3" fill="#222" text-anchor="end" stroke="#222" stroke-width="0.164">0</text>
<line x1="195.15" y1="588.33" x2="198.35" y2="588.33" stroke="#111" stroke-width="0.9"/>
<line x1="195.15" y1="580.66" x2="198.35" y2="580.66" stroke="#111" stroke-width="0.9"/>
<text x="192.05" y="582.86" font-size="6.3" fill="#222" text-anchor="end" stroke="#222" stroke-width="0.164">20</text>
<line x1="195.15" y1="572.99" x2="198.35" y2="572.99" stroke="#111" stroke-width="0.9"/>
<line x1="195.15" y1="565.32" x2="198.35" y2="565.32" stroke="#111" stroke-width="0.9"/>
<text x="192.05" y="567.52" font-size="6.3" fill="#222" text-anchor="end" stroke="#222" stroke-width="0.164">40</text>
<line x1="195.15" y1="557.65" x2="198.35" y2="557.65" stroke="#111" stroke-width="0.9"/>
<line x1="195.15" y1="549.98" x2="198.35" y2="549.98" stroke="#111" stroke-width="0.9"/>
<text x="192.05" y="552.18" font-size="6.3" fill="#222" text-anchor="end" stroke="#222" stroke-width="0.164">60</text>
<line x1="195.15" y1="542.31" x2="198.35" y2="542.31" stroke="#111" stroke-width="0.9"/>
<line x1="195.15" y1="534.64" x2="198.35" y2="534.64" stroke="#111" stroke-width="0.9"/>
<text x="192.05" y="536.84" font-size="6.3" fill="#222" text-anchor="end" stroke="#222" stroke-width="0.164">80</text>
<line x1="195.15" y1="526.97" x2="198.35" y2="526.97" stroke="#111" stroke-width="0.9"/>
<line x1="195.15" y1="519.3" x2="198.35" y2="519.3" stroke="#111" stroke-width="0.9"/>
<text x="192.05" y="521.5" font-size="6.3" fill="#222" text-anchor="end" stroke="#222" stroke-width="0.164">100</text>
<rect x="202.55" y="560.72" width="18.2" height="35.28" fill="#a8052f"/>
<text x="211.65" y="556.72" font-size="5.605" fill="#222" text-anchor="middle" stroke="#222" stroke-width="0.146">46</text>
<line x1="211.65" y1="599.8" x2="211.65" y2="602" stroke="#111" stroke-width="0.7"/>
<text x="211.65" y="611.6" font-size="6.6" fill="#222" text-anchor="middle" stroke="#222" stroke-width="0.172">CNS</text>
<rect x="228.85" y="578.36" width="18.2" height="17.64" fill="#69ad47"/>
<text x="237.95" y="574.36" font-size="5.605" fill="#222" text-anchor="middle" stroke="#222" stroke-width="0.146">23</text>
<line x1="237.95" y1="599.8" x2="237.95" y2="602" stroke="#111" stroke-width="0.7"/>
<text x="237.95" y="611.6" font-size="6.6" fill="#222" text-anchor="middle" stroke="#222" stroke-width="0.172">Sys</text>
<rect x="254.85" y="582.96" width="18.2" height="13.04" fill="#4d2266"/>
<text x="263.95" y="578.96" font-size="5.605" fill="#222" text-anchor="middle" stroke="#222" stroke-width="0.146">17</text>
<line x1="263.95" y1="599.8" x2="263.95" y2="602" stroke="#111" stroke-width="0.7"/>
<text x="263.95" y="611.6" font-size="6.6" fill="#222" text-anchor="middle" stroke="#222" stroke-width="0.172">Uns</text>
<path d="M211.65,548.2V546.6H263.95V548.2" stroke="#333" stroke-width="0.8" fill="none"/>
<text x="237.8" y="544.3" font-size="5.4" fill="#333" text-anchor="middle" stroke="#333" stroke-width="0.140"><tspan font-style="italic">P</tspan>=.017</text>
<path d="M237.95,563.8V562.2H263.95V563.8" stroke="#8a8a8a" stroke-width="0.6" fill="none"/>
<text x="250.95" y="559.1" font-size="5.4" fill="#8a8a8a" text-anchor="middle" stroke="#8a8a8a" stroke-width="0.140"><tspan font-style="italic">P</tspan>=.71</text>
<text x="237.8" y="511.1" font-size="9" fill="#111" text-anchor="middle" stroke="#111" stroke-width="0.234">hc-MCD</text>
<line x1="304.75" y1="516.3" x2="304.75" y2="599.8" stroke="#111" stroke-width="1"/>
<line x1="304.75" y1="599.8" x2="382.75" y2="599.8" stroke="#111" stroke-width="1"/>
<line x1="301.55" y1="596" x2="304.75" y2="596" stroke="#111" stroke-width="0.9"/>
<text x="298.45" y="598.2" font-size="6.3" fill="#222" text-anchor="end" stroke="#222" stroke-width="0.164">0</text>
<line x1="301.55" y1="588.33" x2="304.75" y2="588.33" stroke="#111" stroke-width="0.9"/>
<line x1="301.55" y1="580.66" x2="304.75" y2="580.66" stroke="#111" stroke-width="0.9"/>
<text x="298.45" y="582.86" font-size="6.3" fill="#222" text-anchor="end" stroke="#222" stroke-width="0.164">20</text>
<line x1="301.55" y1="572.99" x2="304.75" y2="572.99" stroke="#111" stroke-width="0.9"/>
<line x1="301.55" y1="565.32" x2="304.75" y2="565.32" stroke="#111" stroke-width="0.9"/>
<text x="298.45" y="567.52" font-size="6.3" fill="#222" text-anchor="end" stroke="#222" stroke-width="0.164">40</text>
<line x1="301.55" y1="557.65" x2="304.75" y2="557.65" stroke="#111" stroke-width="0.9"/>
<line x1="301.55" y1="549.98" x2="304.75" y2="549.98" stroke="#111" stroke-width="0.9"/>
<text x="298.45" y="552.18" font-size="6.3" fill="#222" text-anchor="end" stroke="#222" stroke-width="0.164">60</text>
<line x1="301.55" y1="542.31" x2="304.75" y2="542.31" stroke="#111" stroke-width="0.9"/>
<line x1="301.55" y1="534.64" x2="304.75" y2="534.64" stroke="#111" stroke-width="0.9"/>
<text x="298.45" y="536.84" font-size="6.3" fill="#222" text-anchor="end" stroke="#222" stroke-width="0.164">80</text>
<line x1="301.55" y1="526.97" x2="304.75" y2="526.97" stroke="#111" stroke-width="0.9"/>
<line x1="301.55" y1="519.3" x2="304.75" y2="519.3" stroke="#111" stroke-width="0.9"/>
<text x="298.45" y="521.5" font-size="6.3" fill="#222" text-anchor="end" stroke="#222" stroke-width="0.164">100</text>
<rect x="308.95" y="578.36" width="18.2" height="17.64" fill="#a8052f"/>
<text x="318.05" y="574.36" font-size="5.605" fill="#222" text-anchor="middle" stroke="#222" stroke-width="0.146">23</text>
<line x1="318.05" y1="599.8" x2="318.05" y2="602" stroke="#111" stroke-width="0.7"/>
<text x="318.05" y="611.6" font-size="6.6" fill="#222" text-anchor="middle" stroke="#222" stroke-width="0.172">CNS</text>
<rect x="335.25" y="578.36" width="18.2" height="17.64" fill="#69ad47"/>
<text x="344.35" y="574.36" font-size="5.605" fill="#222" text-anchor="middle" stroke="#222" stroke-width="0.146">23</text>
<line x1="344.35" y1="599.8" x2="344.35" y2="602" stroke="#111" stroke-width="0.7"/>
<text x="344.35" y="611.6" font-size="6.6" fill="#222" text-anchor="middle" stroke="#222" stroke-width="0.172">Sys</text>
<rect x="361.25" y="579.89" width="18.2" height="16.11" fill="#4d2266"/>
<text x="370.35" y="575.89" font-size="5.605" fill="#222" text-anchor="middle" stroke="#222" stroke-width="0.146">21</text>
<line x1="370.35" y1="599.8" x2="370.35" y2="602" stroke="#111" stroke-width="0.7"/>
<text x="370.35" y="611.6" font-size="6.6" fill="#222" text-anchor="middle" stroke="#222" stroke-width="0.172">Uns</text>
<path d="M318.05,549.1V547.5H370.35V549.1" stroke="#8a8a8a" stroke-width="0.6" fill="none"/>
<text x="344.2" y="545.2" font-size="5.4" fill="#8a8a8a" text-anchor="middle" stroke="#8a8a8a" stroke-width="0.140"><tspan font-style="italic">P</tspan>=.74</text>
<path d="M344.35,563.8V562.2H370.35V563.8" stroke="#8a8a8a" stroke-width="0.6" fill="none"/>
<text x="357.35" y="559.1" font-size="5.4" fill="#8a8a8a" text-anchor="middle" stroke="#8a8a8a" stroke-width="0.140"><tspan font-style="italic">P</tspan>=.74</text>
<text x="344.2" y="511.1" font-size="9" fill="#111" text-anchor="middle" stroke="#111" stroke-width="0.234">hc-P53</text>
<line x1="411.15" y1="516.3" x2="411.15" y2="599.8" stroke="#111" stroke-width="1"/>
<line x1="411.15" y1="599.8" x2="489.15" y2="599.8" stroke="#111" stroke-width="1"/>
<line x1="407.95" y1="596" x2="411.15" y2="596" stroke="#111" stroke-width="0.9"/>
<text x="404.85" y="598.2" font-size="6.3" fill="#222" text-anchor="end" stroke="#222" stroke-width="0.164">0</text>
<line x1="407.95" y1="588.33" x2="411.15" y2="588.33" stroke="#111" stroke-width="0.9"/>
<line x1="407.95" y1="580.66" x2="411.15" y2="580.66" stroke="#111" stroke-width="0.9"/>
<text x="404.85" y="582.86" font-size="6.3" fill="#222" text-anchor="end" stroke="#222" stroke-width="0.164">20</text>
<line x1="407.95" y1="572.99" x2="411.15" y2="572.99" stroke="#111" stroke-width="0.9"/>
<line x1="407.95" y1="565.32" x2="411.15" y2="565.32" stroke="#111" stroke-width="0.9"/>
<text x="404.85" y="567.52" font-size="6.3" fill="#222" text-anchor="end" stroke="#222" stroke-width="0.164">40</text>
<line x1="407.95" y1="557.65" x2="411.15" y2="557.65" stroke="#111" stroke-width="0.9"/>
<line x1="407.95" y1="549.98" x2="411.15" y2="549.98" stroke="#111" stroke-width="0.9"/>
<text x="404.85" y="552.18" font-size="6.3" fill="#222" text-anchor="end" stroke="#222" stroke-width="0.164">60</text>
<line x1="407.95" y1="542.31" x2="411.15" y2="542.31" stroke="#111" stroke-width="0.9"/>
<line x1="407.95" y1="534.64" x2="411.15" y2="534.64" stroke="#111" stroke-width="0.9"/>
<text x="404.85" y="536.84" font-size="6.3" fill="#222" text-anchor="end" stroke="#222" stroke-width="0.164">80</text>
<line x1="407.95" y1="526.97" x2="411.15" y2="526.97" stroke="#111" stroke-width="0.9"/>
<line x1="407.95" y1="519.3" x2="411.15" y2="519.3" stroke="#111" stroke-width="0.9"/>
<text x="404.85" y="521.5" font-size="6.3" fill="#222" text-anchor="end" stroke="#222" stroke-width="0.164">100</text>
<rect x="415.35" y="584.5" width="18.2" height="11.51" fill="#a8052f"/>
<text x="424.45" y="580.5" font-size="5.605" fill="#222" text-anchor="middle" stroke="#222" stroke-width="0.146">15</text>
<line x1="424.45" y1="599.8" x2="424.45" y2="602" stroke="#111" stroke-width="0.7"/>
<text x="424.45" y="611.6" font-size="6.6" fill="#222" text-anchor="middle" stroke="#222" stroke-width="0.172">CNS</text>
<rect x="441.65" y="584.5" width="18.2" height="11.51" fill="#69ad47"/>
<text x="450.75" y="580.5" font-size="5.605" fill="#222" text-anchor="middle" stroke="#222" stroke-width="0.146">15</text>
<line x1="450.75" y1="599.8" x2="450.75" y2="602" stroke="#111" stroke-width="0.7"/>
<text x="450.75" y="611.6" font-size="6.6" fill="#222" text-anchor="middle" stroke="#222" stroke-width="0.172">Sys</text>
<rect x="467.65" y="577.59" width="18.2" height="18.41" fill="#4d2266"/>
<text x="476.75" y="573.59" font-size="5.605" fill="#222" text-anchor="middle" stroke="#222" stroke-width="0.146">24</text>
<line x1="476.75" y1="599.8" x2="476.75" y2="602" stroke="#111" stroke-width="0.7"/>
<text x="476.75" y="611.6" font-size="6.6" fill="#222" text-anchor="middle" stroke="#222" stroke-width="0.172">Uns</text>
<path d="M424.45,549.1V547.5H476.75V549.1" stroke="#8a8a8a" stroke-width="0.6" fill="none"/>
<text x="450.6" y="545.2" font-size="5.4" fill="#8a8a8a" text-anchor="middle" stroke="#8a8a8a" stroke-width="0.140"><tspan font-style="italic">P</tspan>=.74</text>
<path d="M450.75,563.8V562.2H476.75V563.8" stroke="#8a8a8a" stroke-width="0.6" fill="none"/>
<text x="463.75" y="559.1" font-size="5.4" fill="#8a8a8a" text-anchor="middle" stroke="#8a8a8a" stroke-width="0.140"><tspan font-style="italic">P</tspan>=.74</text>
<text x="450.6" y="511.1" font-size="9" fill="#111" text-anchor="middle" stroke="#111" stroke-width="0.234">hc-GCB</text>
<text transform="translate(175.4,558.2) rotate(-90)" font-size="8.4" fill="#222" text-anchor="middle" textLength="57.5" lengthAdjust="spacingAndGlyphs" stroke="#222" stroke-width="0.218">Percent of patients</text>
<rect x="0" y="0" width="1.1" height="634" fill="#000"/>
<rect x="0" y="0" width="520" height="1.1" fill="#000"/>
<rect x="518.5" y="0" width="1.5" height="634" fill="#000"/>
<rect x="0" y="632.5" width="520" height="1.5" fill="#000"/>
</svg>
</body></html>
